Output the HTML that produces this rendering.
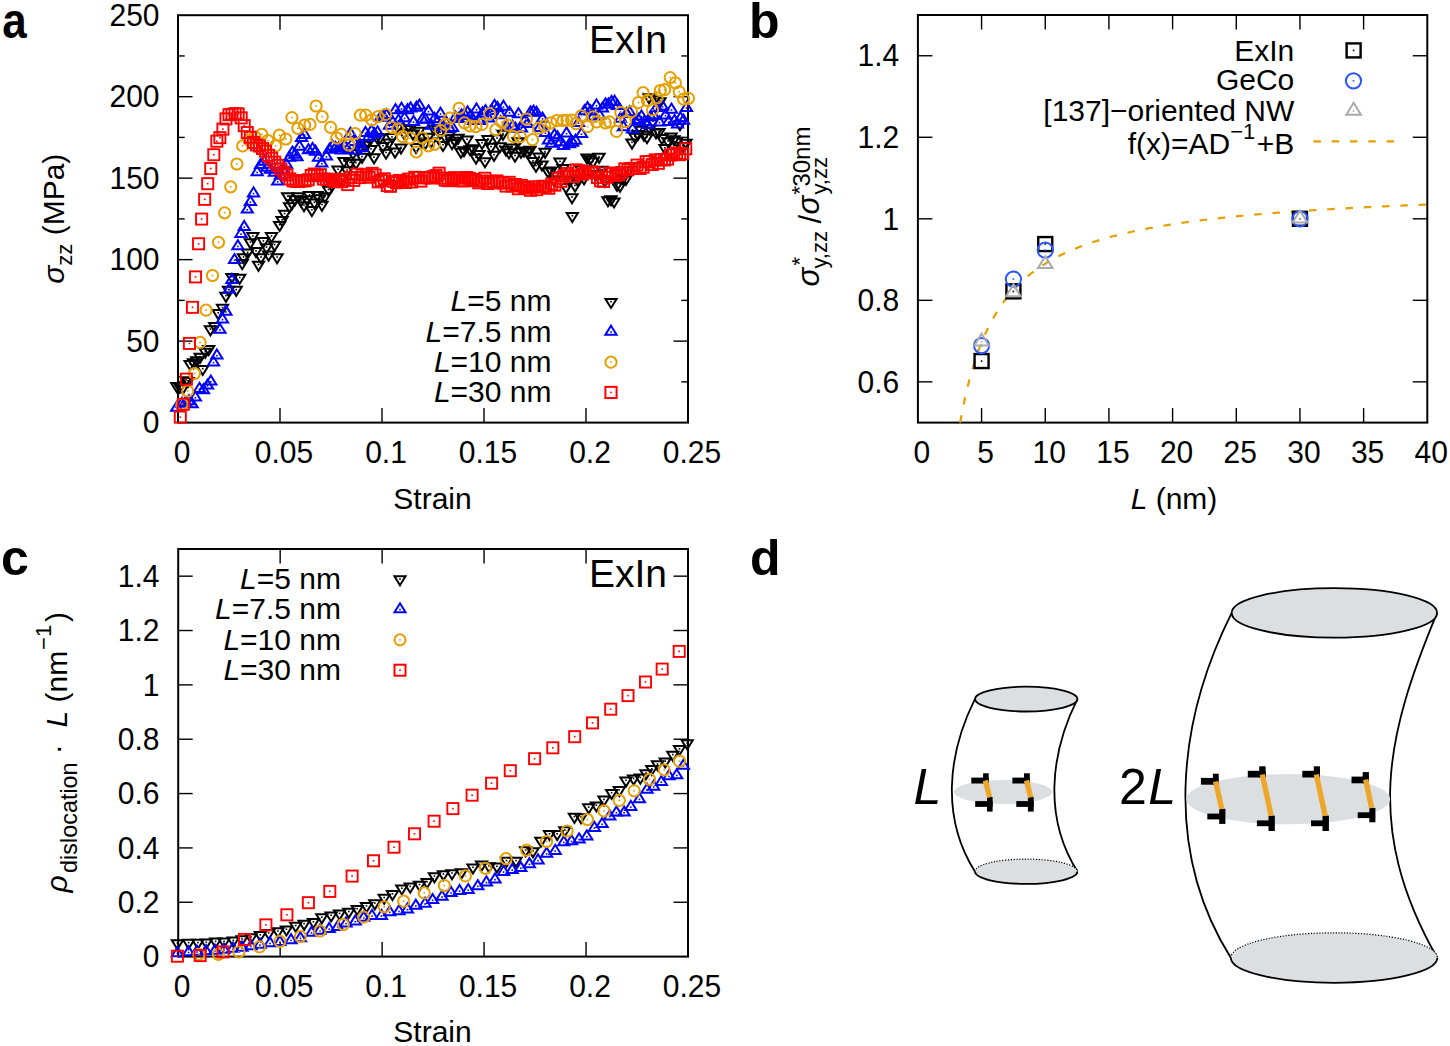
<!DOCTYPE html>
<html><head><meta charset="utf-8"><style>
html,body{margin:0;padding:0;background:#fff;}
svg{display:block;}
text{font-family:"Liberation Sans", sans-serif;fill:#000;}
</style></head><body>
<svg width="1450" height="1046" viewBox="0 0 1450 1046">
<rect width="1450" height="1046" fill="#fff"/>
<rect x="178.00" y="15.20" width="510.00" height="407.40" fill="none" stroke="#000" stroke-width="2"/>
<line x1="280.00" y1="422.60" x2="280.00" y2="408.10" stroke="#000" stroke-width="1.4"/>
<line x1="280.00" y1="15.20" x2="280.00" y2="29.70" stroke="#000" stroke-width="1.4"/>
<line x1="382.00" y1="422.60" x2="382.00" y2="408.10" stroke="#000" stroke-width="1.4"/>
<line x1="382.00" y1="15.20" x2="382.00" y2="29.70" stroke="#000" stroke-width="1.4"/>
<line x1="484.00" y1="422.60" x2="484.00" y2="408.10" stroke="#000" stroke-width="1.4"/>
<line x1="484.00" y1="15.20" x2="484.00" y2="29.70" stroke="#000" stroke-width="1.4"/>
<line x1="586.00" y1="422.60" x2="586.00" y2="408.10" stroke="#000" stroke-width="1.4"/>
<line x1="586.00" y1="15.20" x2="586.00" y2="29.70" stroke="#000" stroke-width="1.4"/>
<line x1="178.00" y1="381.86" x2="184.70" y2="381.86" stroke="#000" stroke-width="1.4"/>
<line x1="688.00" y1="381.86" x2="681.30" y2="381.86" stroke="#000" stroke-width="1.4"/>
<line x1="178.00" y1="341.12" x2="192.50" y2="341.12" stroke="#000" stroke-width="1.4"/>
<line x1="688.00" y1="341.12" x2="673.50" y2="341.12" stroke="#000" stroke-width="1.4"/>
<line x1="178.00" y1="300.38" x2="184.70" y2="300.38" stroke="#000" stroke-width="1.4"/>
<line x1="688.00" y1="300.38" x2="681.30" y2="300.38" stroke="#000" stroke-width="1.4"/>
<line x1="178.00" y1="259.64" x2="192.50" y2="259.64" stroke="#000" stroke-width="1.4"/>
<line x1="688.00" y1="259.64" x2="673.50" y2="259.64" stroke="#000" stroke-width="1.4"/>
<line x1="178.00" y1="218.90" x2="184.70" y2="218.90" stroke="#000" stroke-width="1.4"/>
<line x1="688.00" y1="218.90" x2="681.30" y2="218.90" stroke="#000" stroke-width="1.4"/>
<line x1="178.00" y1="178.16" x2="192.50" y2="178.16" stroke="#000" stroke-width="1.4"/>
<line x1="688.00" y1="178.16" x2="673.50" y2="178.16" stroke="#000" stroke-width="1.4"/>
<line x1="178.00" y1="137.42" x2="184.70" y2="137.42" stroke="#000" stroke-width="1.4"/>
<line x1="688.00" y1="137.42" x2="681.30" y2="137.42" stroke="#000" stroke-width="1.4"/>
<line x1="178.00" y1="96.68" x2="192.50" y2="96.68" stroke="#000" stroke-width="1.4"/>
<line x1="688.00" y1="96.68" x2="673.50" y2="96.68" stroke="#000" stroke-width="1.4"/>
<line x1="178.00" y1="55.94" x2="184.70" y2="55.94" stroke="#000" stroke-width="1.4"/>
<line x1="688.00" y1="55.94" x2="681.30" y2="55.94" stroke="#000" stroke-width="1.4"/>
<text transform="translate(182.00,463.40) scale(1,1.05)" font-size="30" text-anchor="middle">0</text>
<text transform="translate(284.00,463.40) scale(1,1.05)" font-size="30" text-anchor="middle">0.05</text>
<text transform="translate(386.00,463.40) scale(1,1.05)" font-size="30" text-anchor="middle">0.1</text>
<text transform="translate(488.00,463.40) scale(1,1.05)" font-size="30" text-anchor="middle">0.15</text>
<text transform="translate(590.00,463.40) scale(1,1.05)" font-size="30" text-anchor="middle">0.2</text>
<text transform="translate(692.00,463.40) scale(1,1.05)" font-size="30" text-anchor="middle">0.25</text>
<text transform="translate(159.50,433.30) scale(1,1.05)" font-size="30" text-anchor="end">0</text>
<text transform="translate(159.50,351.82) scale(1,1.05)" font-size="30" text-anchor="end">50</text>
<text transform="translate(159.50,270.34) scale(1,1.05)" font-size="30" text-anchor="end">100</text>
<text transform="translate(159.50,188.86) scale(1,1.05)" font-size="30" text-anchor="end">150</text>
<text transform="translate(159.50,107.38) scale(1,1.05)" font-size="30" text-anchor="end">200</text>
<text transform="translate(159.50,25.90) scale(1,1.05)" font-size="30" text-anchor="end">250</text>
<text x="432.50" y="508.60" font-size="30" text-anchor="middle" font-weight="normal">Strain</text>
<text transform="translate(63.7,218.7) rotate(-90)" font-size="30" text-anchor="middle"><tspan font-style="italic">σ</tspan><tspan font-size="22" dy="8.6">zz</tspan><tspan dy="-8.6"> (MPa)</tspan></text>
<text x="667.00" y="53.10" font-size="39" text-anchor="end" font-weight="normal">ExIn</text>
<text transform="translate(2.2,38.3) scale(0.88,1)" font-size="50" font-weight="bold">a</text>
<g><path d="M176.70 392.07L182.30 383.00H171.10Z" stroke="#000000" stroke-width="2" fill="none" stroke-linejoin="miter"/><rect x="175.90" y="385.00" width="1.6" height="1.6" fill="#000000"/><path d="M179.80 392.77L185.40 383.70H174.20Z" stroke="#000000" stroke-width="2" fill="none" stroke-linejoin="miter"/><rect x="179.00" y="385.70" width="1.6" height="1.6" fill="#000000"/><path d="M182.90 393.87L188.50 384.80H177.30Z" stroke="#000000" stroke-width="2" fill="none" stroke-linejoin="miter"/><rect x="182.10" y="386.80" width="1.6" height="1.6" fill="#000000"/><path d="M186.00 386.27L191.60 377.20H180.40Z" stroke="#000000" stroke-width="2" fill="none" stroke-linejoin="miter"/><rect x="185.20" y="379.20" width="1.6" height="1.6" fill="#000000"/><path d="M188.10 386.97L193.70 377.90H182.50Z" stroke="#000000" stroke-width="2" fill="none" stroke-linejoin="miter"/><rect x="187.30" y="379.90" width="1.6" height="1.6" fill="#000000"/><path d="M190.10 369.97L195.70 360.90H184.50Z" stroke="#000000" stroke-width="2" fill="none" stroke-linejoin="miter"/><rect x="189.30" y="362.90" width="1.6" height="1.6" fill="#000000"/><path d="M193.50 368.27L199.10 359.20H187.90Z" stroke="#000000" stroke-width="2" fill="none" stroke-linejoin="miter"/><rect x="192.70" y="361.20" width="1.6" height="1.6" fill="#000000"/><path d="M196.70 366.37L202.30 357.30H191.10Z" stroke="#000000" stroke-width="2" fill="none" stroke-linejoin="miter"/><rect x="195.90" y="359.30" width="1.6" height="1.6" fill="#000000"/><path d="M200.10 362.87L205.70 353.80H194.50Z" stroke="#000000" stroke-width="2" fill="none" stroke-linejoin="miter"/><rect x="199.30" y="355.80" width="1.6" height="1.6" fill="#000000"/><path d="M202.70 374.97L208.30 365.90H197.10Z" stroke="#000000" stroke-width="2" fill="none" stroke-linejoin="miter"/><rect x="201.90" y="367.90" width="1.6" height="1.6" fill="#000000"/><path d="M205.30 357.77L210.90 348.70H199.70Z" stroke="#000000" stroke-width="2" fill="none" stroke-linejoin="miter"/><rect x="204.50" y="350.70" width="1.6" height="1.6" fill="#000000"/><path d="M208.70 355.17L214.30 346.10H203.10Z" stroke="#000000" stroke-width="2" fill="none" stroke-linejoin="miter"/><rect x="207.90" y="348.10" width="1.6" height="1.6" fill="#000000"/><path d="M210.40 335.37L216.00 326.30H204.80Z" stroke="#000000" stroke-width="2" fill="none" stroke-linejoin="miter"/><rect x="209.60" y="328.30" width="1.6" height="1.6" fill="#000000"/><path d="M214.70 331.97L220.30 322.90H209.10Z" stroke="#000000" stroke-width="2" fill="none" stroke-linejoin="miter"/><rect x="213.90" y="324.90" width="1.6" height="1.6" fill="#000000"/><path d="M218.20 319.07L223.80 310.00H212.60Z" stroke="#000000" stroke-width="2" fill="none" stroke-linejoin="miter"/><rect x="217.40" y="312.00" width="1.6" height="1.6" fill="#000000"/><path d="M222.50 313.87L228.10 304.80H216.90Z" stroke="#000000" stroke-width="2" fill="none" stroke-linejoin="miter"/><rect x="221.70" y="306.80" width="1.6" height="1.6" fill="#000000"/><path d="M225.90 301.87L231.50 292.80H220.30Z" stroke="#000000" stroke-width="2" fill="none" stroke-linejoin="miter"/><rect x="225.10" y="294.80" width="1.6" height="1.6" fill="#000000"/><path d="M228.50 295.87L234.10 286.80H222.90Z" stroke="#000000" stroke-width="2" fill="none" stroke-linejoin="miter"/><rect x="227.70" y="288.80" width="1.6" height="1.6" fill="#000000"/><path d="M231.90 282.97L237.50 273.90H226.30Z" stroke="#000000" stroke-width="2" fill="none" stroke-linejoin="miter"/><rect x="231.10" y="275.90" width="1.6" height="1.6" fill="#000000"/><path d="M236.20 295.87L241.80 286.80H230.60Z" stroke="#000000" stroke-width="2" fill="none" stroke-linejoin="miter"/><rect x="235.40" y="288.80" width="1.6" height="1.6" fill="#000000"/><path d="M239.70 283.77L245.30 274.70H234.10Z" stroke="#000000" stroke-width="2" fill="none" stroke-linejoin="miter"/><rect x="238.90" y="276.70" width="1.6" height="1.6" fill="#000000"/><path d="M242.20 269.17L247.80 260.10H236.60Z" stroke="#000000" stroke-width="2" fill="none" stroke-linejoin="miter"/><rect x="241.40" y="262.10" width="1.6" height="1.6" fill="#000000"/><path d="M243.50 263.27L249.10 254.20H237.90Z" stroke="#000000" stroke-width="2" fill="none" stroke-linejoin="miter"/><rect x="242.70" y="256.20" width="1.6" height="1.6" fill="#000000"/><path d="M247.60 258.57L253.20 249.50H242.00Z" stroke="#000000" stroke-width="2" fill="none" stroke-linejoin="miter"/><rect x="246.80" y="251.50" width="1.6" height="1.6" fill="#000000"/><path d="M250.40 248.37L256.00 239.30H244.80Z" stroke="#000000" stroke-width="2" fill="none" stroke-linejoin="miter"/><rect x="249.60" y="241.30" width="1.6" height="1.6" fill="#000000"/><path d="M252.90 242.17L258.50 233.10H247.30Z" stroke="#000000" stroke-width="2" fill="none" stroke-linejoin="miter"/><rect x="252.10" y="235.10" width="1.6" height="1.6" fill="#000000"/><path d="M256.00 257.07L261.60 248.00H250.40Z" stroke="#000000" stroke-width="2" fill="none" stroke-linejoin="miter"/><rect x="255.20" y="250.00" width="1.6" height="1.6" fill="#000000"/><path d="M258.50 270.77L264.10 261.70H252.90Z" stroke="#000000" stroke-width="2" fill="none" stroke-linejoin="miter"/><rect x="257.70" y="263.70" width="1.6" height="1.6" fill="#000000"/><path d="M261.00 263.27L266.60 254.20H255.40Z" stroke="#000000" stroke-width="2" fill="none" stroke-linejoin="miter"/><rect x="260.20" y="256.20" width="1.6" height="1.6" fill="#000000"/><path d="M263.40 247.17L269.00 238.10H257.80Z" stroke="#000000" stroke-width="2" fill="none" stroke-linejoin="miter"/><rect x="262.60" y="240.10" width="1.6" height="1.6" fill="#000000"/><path d="M266.50 253.37L272.10 244.30H260.90Z" stroke="#000000" stroke-width="2" fill="none" stroke-linejoin="miter"/><rect x="265.70" y="246.30" width="1.6" height="1.6" fill="#000000"/><path d="M268.60 260.67L274.20 251.60H263.00Z" stroke="#000000" stroke-width="2" fill="none" stroke-linejoin="miter"/><rect x="267.80" y="253.60" width="1.6" height="1.6" fill="#000000"/><path d="M271.50 242.17L277.10 233.10H265.90Z" stroke="#000000" stroke-width="2" fill="none" stroke-linejoin="miter"/><rect x="270.70" y="235.10" width="1.6" height="1.6" fill="#000000"/><path d="M274.60 250.87L280.20 241.80H269.00Z" stroke="#000000" stroke-width="2" fill="none" stroke-linejoin="miter"/><rect x="273.80" y="243.80" width="1.6" height="1.6" fill="#000000"/><path d="M277.10 263.27L282.70 254.20H271.50Z" stroke="#000000" stroke-width="2" fill="none" stroke-linejoin="miter"/><rect x="276.30" y="256.20" width="1.6" height="1.6" fill="#000000"/><path d="M279.60 230.97L285.20 221.90H274.00Z" stroke="#000000" stroke-width="2" fill="none" stroke-linejoin="miter"/><rect x="278.80" y="223.90" width="1.6" height="1.6" fill="#000000"/><path d="M282.10 226.07L287.70 217.00H276.50Z" stroke="#000000" stroke-width="2" fill="none" stroke-linejoin="miter"/><rect x="281.30" y="219.00" width="1.6" height="1.6" fill="#000000"/><path d="M284.60 219.77L290.20 210.70H279.00Z" stroke="#000000" stroke-width="2" fill="none" stroke-linejoin="miter"/><rect x="283.80" y="212.70" width="1.6" height="1.6" fill="#000000"/><path d="M287.70 202.37L293.30 193.30H282.10Z" stroke="#000000" stroke-width="2" fill="none" stroke-linejoin="miter"/><rect x="286.90" y="195.30" width="1.6" height="1.6" fill="#000000"/><path d="M289.60 212.37L295.20 203.30H284.00Z" stroke="#000000" stroke-width="2" fill="none" stroke-linejoin="miter"/><rect x="288.80" y="205.30" width="1.6" height="1.6" fill="#000000"/><path d="M292.00 209.27L297.60 200.20H286.40Z" stroke="#000000" stroke-width="2" fill="none" stroke-linejoin="miter"/><rect x="291.20" y="202.20" width="1.6" height="1.6" fill="#000000"/><path d="M295.00 205.27L300.60 196.20H289.40Z" stroke="#000000" stroke-width="2" fill="none" stroke-linejoin="miter"/><rect x="294.20" y="198.20" width="1.6" height="1.6" fill="#000000"/><path d="M298.30 202.37L303.90 193.30H292.70Z" stroke="#000000" stroke-width="2" fill="none" stroke-linejoin="miter"/><rect x="297.50" y="195.30" width="1.6" height="1.6" fill="#000000"/><path d="M301.00 206.27L306.60 197.20H295.40Z" stroke="#000000" stroke-width="2" fill="none" stroke-linejoin="miter"/><rect x="300.20" y="199.20" width="1.6" height="1.6" fill="#000000"/><path d="M304.00 211.27L309.60 202.20H298.40Z" stroke="#000000" stroke-width="2" fill="none" stroke-linejoin="miter"/><rect x="303.20" y="204.20" width="1.6" height="1.6" fill="#000000"/><path d="M307.00 205.27L312.60 196.20H301.40Z" stroke="#000000" stroke-width="2" fill="none" stroke-linejoin="miter"/><rect x="306.20" y="198.20" width="1.6" height="1.6" fill="#000000"/><path d="M309.50 201.17L315.10 192.10H303.90Z" stroke="#000000" stroke-width="2" fill="none" stroke-linejoin="miter"/><rect x="308.70" y="194.10" width="1.6" height="1.6" fill="#000000"/><path d="M311.90 216.07L317.50 207.00H306.30Z" stroke="#000000" stroke-width="2" fill="none" stroke-linejoin="miter"/><rect x="311.10" y="209.00" width="1.6" height="1.6" fill="#000000"/><path d="M314.40 208.57L320.00 199.50H308.80Z" stroke="#000000" stroke-width="2" fill="none" stroke-linejoin="miter"/><rect x="313.60" y="201.50" width="1.6" height="1.6" fill="#000000"/><path d="M316.90 201.17L322.50 192.10H311.30Z" stroke="#000000" stroke-width="2" fill="none" stroke-linejoin="miter"/><rect x="316.10" y="194.10" width="1.6" height="1.6" fill="#000000"/><path d="M319.50 204.27L325.10 195.20H313.90Z" stroke="#000000" stroke-width="2" fill="none" stroke-linejoin="miter"/><rect x="318.70" y="197.20" width="1.6" height="1.6" fill="#000000"/><path d="M322.00 210.77L327.60 201.70H316.40Z" stroke="#000000" stroke-width="2" fill="none" stroke-linejoin="miter"/><rect x="321.20" y="203.70" width="1.6" height="1.6" fill="#000000"/><path d="M325.00 202.27L330.60 193.20H319.40Z" stroke="#000000" stroke-width="2" fill="none" stroke-linejoin="miter"/><rect x="324.20" y="195.20" width="1.6" height="1.6" fill="#000000"/><path d="M328.60 195.77L334.20 186.70H323.00Z" stroke="#000000" stroke-width="2" fill="none" stroke-linejoin="miter"/><rect x="327.80" y="188.70" width="1.6" height="1.6" fill="#000000"/><path d="M332.00 191.27L337.60 182.20H326.40Z" stroke="#000000" stroke-width="2" fill="none" stroke-linejoin="miter"/><rect x="331.20" y="184.20" width="1.6" height="1.6" fill="#000000"/><path d="M335.00 183.52L340.60 174.45H329.40Z" stroke="#000000" stroke-width="2" fill="none" stroke-linejoin="miter"/><rect x="334.20" y="176.45" width="1.6" height="1.6" fill="#000000"/><path d="M338.00 175.53L343.60 166.46H332.40Z" stroke="#000000" stroke-width="2" fill="none" stroke-linejoin="miter"/><rect x="337.20" y="168.46" width="1.6" height="1.6" fill="#000000"/><path d="M341.00 185.20L346.60 176.12H335.40Z" stroke="#000000" stroke-width="2" fill="none" stroke-linejoin="miter"/><rect x="340.20" y="178.12" width="1.6" height="1.6" fill="#000000"/><path d="M344.00 167.16L349.60 158.08H338.40Z" stroke="#000000" stroke-width="2" fill="none" stroke-linejoin="miter"/><rect x="343.20" y="160.08" width="1.6" height="1.6" fill="#000000"/><path d="M347.00 176.20L352.60 167.13H341.40Z" stroke="#000000" stroke-width="2" fill="none" stroke-linejoin="miter"/><rect x="346.20" y="169.13" width="1.6" height="1.6" fill="#000000"/><path d="M350.00 168.78L355.60 159.71H344.40Z" stroke="#000000" stroke-width="2" fill="none" stroke-linejoin="miter"/><rect x="349.20" y="161.71" width="1.6" height="1.6" fill="#000000"/><path d="M353.00 158.98L358.60 149.91H347.40Z" stroke="#000000" stroke-width="2" fill="none" stroke-linejoin="miter"/><rect x="352.20" y="151.91" width="1.6" height="1.6" fill="#000000"/><path d="M356.00 168.87L361.60 159.79H350.40Z" stroke="#000000" stroke-width="2" fill="none" stroke-linejoin="miter"/><rect x="355.20" y="161.79" width="1.6" height="1.6" fill="#000000"/><path d="M359.00 154.85L364.60 145.77H353.40Z" stroke="#000000" stroke-width="2" fill="none" stroke-linejoin="miter"/><rect x="358.20" y="147.77" width="1.6" height="1.6" fill="#000000"/><path d="M362.00 162.88L367.60 153.81H356.40Z" stroke="#000000" stroke-width="2" fill="none" stroke-linejoin="miter"/><rect x="361.20" y="155.81" width="1.6" height="1.6" fill="#000000"/><path d="M365.00 150.92L370.60 141.85H359.40Z" stroke="#000000" stroke-width="2" fill="none" stroke-linejoin="miter"/><rect x="364.20" y="143.85" width="1.6" height="1.6" fill="#000000"/><path d="M368.00 148.96L373.60 139.89H362.40Z" stroke="#000000" stroke-width="2" fill="none" stroke-linejoin="miter"/><rect x="367.20" y="141.89" width="1.6" height="1.6" fill="#000000"/><path d="M371.00 155.14L376.60 146.07H365.40Z" stroke="#000000" stroke-width="2" fill="none" stroke-linejoin="miter"/><rect x="370.20" y="148.07" width="1.6" height="1.6" fill="#000000"/><path d="M374.00 163.39L379.60 154.31H368.40Z" stroke="#000000" stroke-width="2" fill="none" stroke-linejoin="miter"/><rect x="373.20" y="156.31" width="1.6" height="1.6" fill="#000000"/><path d="M377.00 143.03L382.60 133.96H371.40Z" stroke="#000000" stroke-width="2" fill="none" stroke-linejoin="miter"/><rect x="376.20" y="135.96" width="1.6" height="1.6" fill="#000000"/><path d="M380.00 143.54L385.60 134.47H374.40Z" stroke="#000000" stroke-width="2" fill="none" stroke-linejoin="miter"/><rect x="379.20" y="136.47" width="1.6" height="1.6" fill="#000000"/><path d="M383.00 151.97L388.60 142.90H377.40Z" stroke="#000000" stroke-width="2" fill="none" stroke-linejoin="miter"/><rect x="382.20" y="144.90" width="1.6" height="1.6" fill="#000000"/><path d="M386.00 158.71L391.60 149.64H380.40Z" stroke="#000000" stroke-width="2" fill="none" stroke-linejoin="miter"/><rect x="385.20" y="151.64" width="1.6" height="1.6" fill="#000000"/><path d="M389.00 148.48L394.60 139.40H383.40Z" stroke="#000000" stroke-width="2" fill="none" stroke-linejoin="miter"/><rect x="388.20" y="141.40" width="1.6" height="1.6" fill="#000000"/><path d="M392.00 143.19L397.60 134.11H386.40Z" stroke="#000000" stroke-width="2" fill="none" stroke-linejoin="miter"/><rect x="391.20" y="136.11" width="1.6" height="1.6" fill="#000000"/><path d="M395.00 157.65L400.60 148.58H389.40Z" stroke="#000000" stroke-width="2" fill="none" stroke-linejoin="miter"/><rect x="394.20" y="150.58" width="1.6" height="1.6" fill="#000000"/><path d="M398.00 132.88L403.60 123.81H392.40Z" stroke="#000000" stroke-width="2" fill="none" stroke-linejoin="miter"/><rect x="397.20" y="125.81" width="1.6" height="1.6" fill="#000000"/><path d="M401.00 153.59L406.60 144.52H395.40Z" stroke="#000000" stroke-width="2" fill="none" stroke-linejoin="miter"/><rect x="400.20" y="146.52" width="1.6" height="1.6" fill="#000000"/><path d="M404.00 138.80L409.60 129.73H398.40Z" stroke="#000000" stroke-width="2" fill="none" stroke-linejoin="miter"/><rect x="403.20" y="131.73" width="1.6" height="1.6" fill="#000000"/><path d="M407.00 135.02L412.60 125.95H401.40Z" stroke="#000000" stroke-width="2" fill="none" stroke-linejoin="miter"/><rect x="406.20" y="127.95" width="1.6" height="1.6" fill="#000000"/><path d="M410.00 134.33L415.60 125.26H404.40Z" stroke="#000000" stroke-width="2" fill="none" stroke-linejoin="miter"/><rect x="409.20" y="127.26" width="1.6" height="1.6" fill="#000000"/><path d="M413.00 139.59L418.60 130.52H407.40Z" stroke="#000000" stroke-width="2" fill="none" stroke-linejoin="miter"/><rect x="412.20" y="132.52" width="1.6" height="1.6" fill="#000000"/><path d="M416.00 153.09L421.60 144.02H410.40Z" stroke="#000000" stroke-width="2" fill="none" stroke-linejoin="miter"/><rect x="415.20" y="146.02" width="1.6" height="1.6" fill="#000000"/><path d="M419.00 136.87L424.60 127.80H413.40Z" stroke="#000000" stroke-width="2" fill="none" stroke-linejoin="miter"/><rect x="418.20" y="129.80" width="1.6" height="1.6" fill="#000000"/><path d="M422.00 147.59L427.60 138.52H416.40Z" stroke="#000000" stroke-width="2" fill="none" stroke-linejoin="miter"/><rect x="421.20" y="140.52" width="1.6" height="1.6" fill="#000000"/><path d="M425.00 149.38L430.60 140.31H419.40Z" stroke="#000000" stroke-width="2" fill="none" stroke-linejoin="miter"/><rect x="424.20" y="142.31" width="1.6" height="1.6" fill="#000000"/><path d="M428.00 142.75L433.60 133.68H422.40Z" stroke="#000000" stroke-width="2" fill="none" stroke-linejoin="miter"/><rect x="427.20" y="135.68" width="1.6" height="1.6" fill="#000000"/><path d="M431.00 147.51L436.60 138.44H425.40Z" stroke="#000000" stroke-width="2" fill="none" stroke-linejoin="miter"/><rect x="430.20" y="140.44" width="1.6" height="1.6" fill="#000000"/><path d="M434.00 134.90L439.60 125.83H428.40Z" stroke="#000000" stroke-width="2" fill="none" stroke-linejoin="miter"/><rect x="433.20" y="127.83" width="1.6" height="1.6" fill="#000000"/><path d="M437.00 134.82L442.60 125.75H431.40Z" stroke="#000000" stroke-width="2" fill="none" stroke-linejoin="miter"/><rect x="436.20" y="127.75" width="1.6" height="1.6" fill="#000000"/><path d="M440.00 138.63L445.60 129.55H434.40Z" stroke="#000000" stroke-width="2" fill="none" stroke-linejoin="miter"/><rect x="439.20" y="131.55" width="1.6" height="1.6" fill="#000000"/><path d="M443.00 150.96L448.60 141.89H437.40Z" stroke="#000000" stroke-width="2" fill="none" stroke-linejoin="miter"/><rect x="442.20" y="143.89" width="1.6" height="1.6" fill="#000000"/><path d="M446.00 144.39L451.60 135.32H440.40Z" stroke="#000000" stroke-width="2" fill="none" stroke-linejoin="miter"/><rect x="445.20" y="137.32" width="1.6" height="1.6" fill="#000000"/><path d="M449.00 141.44L454.60 132.37H443.40Z" stroke="#000000" stroke-width="2" fill="none" stroke-linejoin="miter"/><rect x="448.20" y="134.37" width="1.6" height="1.6" fill="#000000"/><path d="M452.00 149.20L457.60 140.12H446.40Z" stroke="#000000" stroke-width="2" fill="none" stroke-linejoin="miter"/><rect x="451.20" y="142.12" width="1.6" height="1.6" fill="#000000"/><path d="M455.00 146.80L460.60 137.73H449.40Z" stroke="#000000" stroke-width="2" fill="none" stroke-linejoin="miter"/><rect x="454.20" y="139.73" width="1.6" height="1.6" fill="#000000"/><path d="M458.00 143.87L463.60 134.79H452.40Z" stroke="#000000" stroke-width="2" fill="none" stroke-linejoin="miter"/><rect x="457.20" y="136.79" width="1.6" height="1.6" fill="#000000"/><path d="M461.00 157.78L466.60 148.70H455.40Z" stroke="#000000" stroke-width="2" fill="none" stroke-linejoin="miter"/><rect x="460.20" y="150.70" width="1.6" height="1.6" fill="#000000"/><path d="M464.00 156.35L469.60 147.27H458.40Z" stroke="#000000" stroke-width="2" fill="none" stroke-linejoin="miter"/><rect x="463.20" y="149.27" width="1.6" height="1.6" fill="#000000"/><path d="M467.00 145.57L472.60 136.50H461.40Z" stroke="#000000" stroke-width="2" fill="none" stroke-linejoin="miter"/><rect x="466.20" y="138.50" width="1.6" height="1.6" fill="#000000"/><path d="M470.00 155.21L475.60 146.14H464.40Z" stroke="#000000" stroke-width="2" fill="none" stroke-linejoin="miter"/><rect x="469.20" y="148.14" width="1.6" height="1.6" fill="#000000"/><path d="M473.00 154.23L478.60 145.16H467.40Z" stroke="#000000" stroke-width="2" fill="none" stroke-linejoin="miter"/><rect x="472.20" y="147.16" width="1.6" height="1.6" fill="#000000"/><path d="M476.00 163.63L481.60 154.55H470.40Z" stroke="#000000" stroke-width="2" fill="none" stroke-linejoin="miter"/><rect x="475.20" y="156.55" width="1.6" height="1.6" fill="#000000"/><path d="M479.00 160.14L484.60 151.07H473.40Z" stroke="#000000" stroke-width="2" fill="none" stroke-linejoin="miter"/><rect x="478.20" y="153.07" width="1.6" height="1.6" fill="#000000"/><path d="M482.00 148.96L487.60 139.89H476.40Z" stroke="#000000" stroke-width="2" fill="none" stroke-linejoin="miter"/><rect x="481.20" y="141.89" width="1.6" height="1.6" fill="#000000"/><path d="M485.00 167.26L490.60 158.18H479.40Z" stroke="#000000" stroke-width="2" fill="none" stroke-linejoin="miter"/><rect x="484.20" y="160.18" width="1.6" height="1.6" fill="#000000"/><path d="M488.00 145.14L493.60 136.07H482.40Z" stroke="#000000" stroke-width="2" fill="none" stroke-linejoin="miter"/><rect x="487.20" y="138.07" width="1.6" height="1.6" fill="#000000"/><path d="M491.00 152.88L496.60 143.80H485.40Z" stroke="#000000" stroke-width="2" fill="none" stroke-linejoin="miter"/><rect x="490.20" y="145.80" width="1.6" height="1.6" fill="#000000"/><path d="M494.00 160.89L499.60 151.82H488.40Z" stroke="#000000" stroke-width="2" fill="none" stroke-linejoin="miter"/><rect x="493.20" y="153.82" width="1.6" height="1.6" fill="#000000"/><path d="M497.00 144.36L502.60 135.28H491.40Z" stroke="#000000" stroke-width="2" fill="none" stroke-linejoin="miter"/><rect x="496.20" y="137.28" width="1.6" height="1.6" fill="#000000"/><path d="M500.00 152.32L505.60 143.25H494.40Z" stroke="#000000" stroke-width="2" fill="none" stroke-linejoin="miter"/><rect x="499.20" y="145.25" width="1.6" height="1.6" fill="#000000"/><path d="M503.00 139.82L508.60 130.75H497.40Z" stroke="#000000" stroke-width="2" fill="none" stroke-linejoin="miter"/><rect x="502.20" y="132.75" width="1.6" height="1.6" fill="#000000"/><path d="M506.00 155.71L511.60 146.64H500.40Z" stroke="#000000" stroke-width="2" fill="none" stroke-linejoin="miter"/><rect x="505.20" y="148.64" width="1.6" height="1.6" fill="#000000"/><path d="M509.00 158.42L514.60 149.35H503.40Z" stroke="#000000" stroke-width="2" fill="none" stroke-linejoin="miter"/><rect x="508.20" y="151.35" width="1.6" height="1.6" fill="#000000"/><path d="M512.00 153.64L517.60 144.57H506.40Z" stroke="#000000" stroke-width="2" fill="none" stroke-linejoin="miter"/><rect x="511.20" y="146.57" width="1.6" height="1.6" fill="#000000"/><path d="M515.00 161.70L520.60 152.63H509.40Z" stroke="#000000" stroke-width="2" fill="none" stroke-linejoin="miter"/><rect x="514.20" y="154.63" width="1.6" height="1.6" fill="#000000"/><path d="M518.00 147.30L523.60 138.22H512.40Z" stroke="#000000" stroke-width="2" fill="none" stroke-linejoin="miter"/><rect x="517.20" y="140.22" width="1.6" height="1.6" fill="#000000"/><path d="M521.00 157.82L526.60 148.74H515.40Z" stroke="#000000" stroke-width="2" fill="none" stroke-linejoin="miter"/><rect x="520.20" y="150.74" width="1.6" height="1.6" fill="#000000"/><path d="M524.00 156.59L529.60 147.52H518.40Z" stroke="#000000" stroke-width="2" fill="none" stroke-linejoin="miter"/><rect x="523.20" y="149.52" width="1.6" height="1.6" fill="#000000"/><path d="M527.00 157.62L532.60 148.54H521.40Z" stroke="#000000" stroke-width="2" fill="none" stroke-linejoin="miter"/><rect x="526.20" y="150.54" width="1.6" height="1.6" fill="#000000"/><path d="M530.00 155.80L535.60 146.73H524.40Z" stroke="#000000" stroke-width="2" fill="none" stroke-linejoin="miter"/><rect x="529.20" y="148.73" width="1.6" height="1.6" fill="#000000"/><path d="M533.00 167.18L538.60 158.11H527.40Z" stroke="#000000" stroke-width="2" fill="none" stroke-linejoin="miter"/><rect x="532.20" y="160.11" width="1.6" height="1.6" fill="#000000"/><path d="M536.00 171.83L541.60 162.76H530.40Z" stroke="#000000" stroke-width="2" fill="none" stroke-linejoin="miter"/><rect x="535.20" y="164.76" width="1.6" height="1.6" fill="#000000"/><path d="M539.00 162.60L544.60 153.53H533.40Z" stroke="#000000" stroke-width="2" fill="none" stroke-linejoin="miter"/><rect x="538.20" y="155.53" width="1.6" height="1.6" fill="#000000"/><path d="M542.00 170.54L547.60 161.47H536.40Z" stroke="#000000" stroke-width="2" fill="none" stroke-linejoin="miter"/><rect x="541.20" y="163.47" width="1.6" height="1.6" fill="#000000"/><path d="M545.00 157.85L550.60 148.78H539.40Z" stroke="#000000" stroke-width="2" fill="none" stroke-linejoin="miter"/><rect x="544.20" y="150.78" width="1.6" height="1.6" fill="#000000"/><path d="M548.00 177.51L553.60 168.44H542.40Z" stroke="#000000" stroke-width="2" fill="none" stroke-linejoin="miter"/><rect x="547.20" y="170.44" width="1.6" height="1.6" fill="#000000"/><path d="M551.00 176.47L556.60 167.40H545.40Z" stroke="#000000" stroke-width="2" fill="none" stroke-linejoin="miter"/><rect x="550.20" y="169.40" width="1.6" height="1.6" fill="#000000"/><path d="M554.00 185.84L559.60 176.77H548.40Z" stroke="#000000" stroke-width="2" fill="none" stroke-linejoin="miter"/><rect x="553.20" y="178.77" width="1.6" height="1.6" fill="#000000"/><path d="M557.00 181.64L562.60 172.57H551.40Z" stroke="#000000" stroke-width="2" fill="none" stroke-linejoin="miter"/><rect x="556.20" y="174.57" width="1.6" height="1.6" fill="#000000"/><path d="M560.00 167.67L565.60 158.60H554.40Z" stroke="#000000" stroke-width="2" fill="none" stroke-linejoin="miter"/><rect x="559.20" y="160.60" width="1.6" height="1.6" fill="#000000"/><path d="M563.00 174.14L568.60 165.06H557.40Z" stroke="#000000" stroke-width="2" fill="none" stroke-linejoin="miter"/><rect x="562.20" y="167.06" width="1.6" height="1.6" fill="#000000"/><path d="M566.00 192.99L571.60 183.92H560.40Z" stroke="#000000" stroke-width="2" fill="none" stroke-linejoin="miter"/><rect x="565.20" y="185.92" width="1.6" height="1.6" fill="#000000"/><path d="M569.00 185.86L574.60 176.79H563.40Z" stroke="#000000" stroke-width="2" fill="none" stroke-linejoin="miter"/><rect x="568.20" y="178.79" width="1.6" height="1.6" fill="#000000"/><path d="M572.00 203.28L577.60 194.20H566.40Z" stroke="#000000" stroke-width="2" fill="none" stroke-linejoin="miter"/><rect x="571.20" y="196.20" width="1.6" height="1.6" fill="#000000"/><path d="M575.00 191.64L580.60 182.57H569.40Z" stroke="#000000" stroke-width="2" fill="none" stroke-linejoin="miter"/><rect x="574.20" y="184.57" width="1.6" height="1.6" fill="#000000"/><path d="M578.00 186.32L583.60 177.24H572.40Z" stroke="#000000" stroke-width="2" fill="none" stroke-linejoin="miter"/><rect x="577.20" y="179.24" width="1.6" height="1.6" fill="#000000"/><path d="M581.00 175.38L586.60 166.30H575.40Z" stroke="#000000" stroke-width="2" fill="none" stroke-linejoin="miter"/><rect x="580.20" y="168.30" width="1.6" height="1.6" fill="#000000"/><path d="M584.00 184.39L589.60 175.32H578.40Z" stroke="#000000" stroke-width="2" fill="none" stroke-linejoin="miter"/><rect x="583.20" y="177.32" width="1.6" height="1.6" fill="#000000"/><path d="M587.00 163.63L592.60 154.56H581.40Z" stroke="#000000" stroke-width="2" fill="none" stroke-linejoin="miter"/><rect x="586.20" y="156.56" width="1.6" height="1.6" fill="#000000"/><path d="M590.00 165.21L595.60 156.14H584.40Z" stroke="#000000" stroke-width="2" fill="none" stroke-linejoin="miter"/><rect x="589.20" y="158.14" width="1.6" height="1.6" fill="#000000"/><path d="M593.00 167.44L598.60 158.36H587.40Z" stroke="#000000" stroke-width="2" fill="none" stroke-linejoin="miter"/><rect x="592.20" y="160.36" width="1.6" height="1.6" fill="#000000"/><path d="M596.00 180.05L601.60 170.98H590.40Z" stroke="#000000" stroke-width="2" fill="none" stroke-linejoin="miter"/><rect x="595.20" y="172.98" width="1.6" height="1.6" fill="#000000"/><path d="M599.00 162.87L604.60 153.80H593.40Z" stroke="#000000" stroke-width="2" fill="none" stroke-linejoin="miter"/><rect x="598.20" y="155.80" width="1.6" height="1.6" fill="#000000"/><path d="M602.00 175.83L607.60 166.75H596.40Z" stroke="#000000" stroke-width="2" fill="none" stroke-linejoin="miter"/><rect x="601.20" y="168.75" width="1.6" height="1.6" fill="#000000"/><path d="M605.00 186.76L610.60 177.69H599.40Z" stroke="#000000" stroke-width="2" fill="none" stroke-linejoin="miter"/><rect x="604.20" y="179.69" width="1.6" height="1.6" fill="#000000"/><path d="M608.00 206.24L613.60 197.17H602.40Z" stroke="#000000" stroke-width="2" fill="none" stroke-linejoin="miter"/><rect x="607.20" y="199.17" width="1.6" height="1.6" fill="#000000"/><path d="M611.00 205.43L616.60 196.36H605.40Z" stroke="#000000" stroke-width="2" fill="none" stroke-linejoin="miter"/><rect x="610.20" y="198.36" width="1.6" height="1.6" fill="#000000"/><path d="M614.00 207.45L619.60 198.38H608.40Z" stroke="#000000" stroke-width="2" fill="none" stroke-linejoin="miter"/><rect x="613.20" y="200.38" width="1.6" height="1.6" fill="#000000"/><path d="M617.00 190.80L622.60 181.72H611.40Z" stroke="#000000" stroke-width="2" fill="none" stroke-linejoin="miter"/><rect x="616.20" y="183.72" width="1.6" height="1.6" fill="#000000"/><path d="M620.00 191.78L625.60 182.71H614.40Z" stroke="#000000" stroke-width="2" fill="none" stroke-linejoin="miter"/><rect x="619.20" y="184.71" width="1.6" height="1.6" fill="#000000"/><path d="M623.00 184.27L628.60 175.19H617.40Z" stroke="#000000" stroke-width="2" fill="none" stroke-linejoin="miter"/><rect x="622.20" y="177.19" width="1.6" height="1.6" fill="#000000"/><path d="M626.00 184.93L631.60 175.86H620.40Z" stroke="#000000" stroke-width="2" fill="none" stroke-linejoin="miter"/><rect x="625.20" y="177.86" width="1.6" height="1.6" fill="#000000"/><path d="M629.00 176.03L634.60 166.96H623.40Z" stroke="#000000" stroke-width="2" fill="none" stroke-linejoin="miter"/><rect x="628.20" y="168.96" width="1.6" height="1.6" fill="#000000"/><path d="M632.00 148.62L637.60 139.55H626.40Z" stroke="#000000" stroke-width="2" fill="none" stroke-linejoin="miter"/><rect x="631.20" y="141.55" width="1.6" height="1.6" fill="#000000"/><path d="M635.00 142.85L640.60 133.78H629.40Z" stroke="#000000" stroke-width="2" fill="none" stroke-linejoin="miter"/><rect x="634.20" y="135.78" width="1.6" height="1.6" fill="#000000"/><path d="M638.00 140.02L643.60 130.95H632.40Z" stroke="#000000" stroke-width="2" fill="none" stroke-linejoin="miter"/><rect x="637.20" y="132.95" width="1.6" height="1.6" fill="#000000"/><path d="M641.00 135.77L646.60 126.70H635.40Z" stroke="#000000" stroke-width="2" fill="none" stroke-linejoin="miter"/><rect x="640.20" y="128.70" width="1.6" height="1.6" fill="#000000"/><path d="M644.00 140.73L649.60 131.66H638.40Z" stroke="#000000" stroke-width="2" fill="none" stroke-linejoin="miter"/><rect x="643.20" y="133.66" width="1.6" height="1.6" fill="#000000"/><path d="M647.00 143.20L652.60 134.13H641.40Z" stroke="#000000" stroke-width="2" fill="none" stroke-linejoin="miter"/><rect x="646.20" y="136.13" width="1.6" height="1.6" fill="#000000"/><path d="M650.00 134.49L655.60 125.42H644.40Z" stroke="#000000" stroke-width="2" fill="none" stroke-linejoin="miter"/><rect x="649.20" y="127.42" width="1.6" height="1.6" fill="#000000"/><path d="M653.00 127.53L658.60 118.46H647.40Z" stroke="#000000" stroke-width="2" fill="none" stroke-linejoin="miter"/><rect x="652.20" y="120.46" width="1.6" height="1.6" fill="#000000"/><path d="M656.00 138.45L661.60 129.38H650.40Z" stroke="#000000" stroke-width="2" fill="none" stroke-linejoin="miter"/><rect x="655.20" y="131.38" width="1.6" height="1.6" fill="#000000"/><path d="M659.00 138.02L664.60 128.94H653.40Z" stroke="#000000" stroke-width="2" fill="none" stroke-linejoin="miter"/><rect x="658.20" y="130.94" width="1.6" height="1.6" fill="#000000"/><path d="M662.00 144.00L667.60 134.92H656.40Z" stroke="#000000" stroke-width="2" fill="none" stroke-linejoin="miter"/><rect x="661.20" y="136.92" width="1.6" height="1.6" fill="#000000"/><path d="M665.00 154.05L670.60 144.98H659.40Z" stroke="#000000" stroke-width="2" fill="none" stroke-linejoin="miter"/><rect x="664.20" y="146.98" width="1.6" height="1.6" fill="#000000"/><path d="M668.00 147.22L673.60 138.15H662.40Z" stroke="#000000" stroke-width="2" fill="none" stroke-linejoin="miter"/><rect x="667.20" y="140.15" width="1.6" height="1.6" fill="#000000"/><path d="M671.00 142.67L676.60 133.60H665.40Z" stroke="#000000" stroke-width="2" fill="none" stroke-linejoin="miter"/><rect x="670.20" y="135.60" width="1.6" height="1.6" fill="#000000"/><path d="M674.00 145.33L679.60 136.26H668.40Z" stroke="#000000" stroke-width="2" fill="none" stroke-linejoin="miter"/><rect x="673.20" y="138.26" width="1.6" height="1.6" fill="#000000"/><path d="M677.00 146.70L682.60 137.63H671.40Z" stroke="#000000" stroke-width="2" fill="none" stroke-linejoin="miter"/><rect x="676.20" y="139.63" width="1.6" height="1.6" fill="#000000"/><path d="M680.00 130.29L685.60 121.22H674.40Z" stroke="#000000" stroke-width="2" fill="none" stroke-linejoin="miter"/><rect x="679.20" y="123.22" width="1.6" height="1.6" fill="#000000"/><path d="M683.00 152.04L688.60 142.97H677.40Z" stroke="#000000" stroke-width="2" fill="none" stroke-linejoin="miter"/><rect x="682.20" y="144.97" width="1.6" height="1.6" fill="#000000"/><path d="M686.00 148.71L691.60 139.63H680.40Z" stroke="#000000" stroke-width="2" fill="none" stroke-linejoin="miter"/><rect x="685.20" y="141.63" width="1.6" height="1.6" fill="#000000"/><path d="M649.00 103.27L654.60 94.20H643.40Z" stroke="#000000" stroke-width="2" fill="none" stroke-linejoin="miter"/><rect x="648.20" y="96.20" width="1.6" height="1.6" fill="#000000"/><path d="M655.00 105.27L660.60 96.20H649.40Z" stroke="#000000" stroke-width="2" fill="none" stroke-linejoin="miter"/><rect x="654.20" y="98.20" width="1.6" height="1.6" fill="#000000"/><path d="M660.00 107.27L665.60 98.20H654.40Z" stroke="#000000" stroke-width="2" fill="none" stroke-linejoin="miter"/><rect x="659.20" y="100.20" width="1.6" height="1.6" fill="#000000"/><path d="M572.30 222.07L577.90 213.00H566.70Z" stroke="#000000" stroke-width="2" fill="none" stroke-linejoin="miter"/><rect x="571.50" y="215.00" width="1.6" height="1.6" fill="#000000"/><path d="M176.70 401.63L182.30 410.70H171.10Z" stroke="#0000ff" stroke-width="2" fill="none" stroke-linejoin="miter"/><rect x="175.90" y="407.10" width="1.6" height="1.6" fill="#0000ff"/><path d="M182.00 397.73L187.60 406.80H176.40Z" stroke="#0000ff" stroke-width="2" fill="none" stroke-linejoin="miter"/><rect x="181.20" y="403.20" width="1.6" height="1.6" fill="#0000ff"/><path d="M185.50 396.73L191.10 405.80H179.90Z" stroke="#0000ff" stroke-width="2" fill="none" stroke-linejoin="miter"/><rect x="184.70" y="402.20" width="1.6" height="1.6" fill="#0000ff"/><path d="M188.90 395.13L194.50 404.20H183.30Z" stroke="#0000ff" stroke-width="2" fill="none" stroke-linejoin="miter"/><rect x="188.10" y="400.60" width="1.6" height="1.6" fill="#0000ff"/><path d="M192.10 398.23L197.70 407.30H186.50Z" stroke="#0000ff" stroke-width="2" fill="none" stroke-linejoin="miter"/><rect x="191.30" y="403.70" width="1.6" height="1.6" fill="#0000ff"/><path d="M195.40 391.53L201.00 400.60H189.80Z" stroke="#0000ff" stroke-width="2" fill="none" stroke-linejoin="miter"/><rect x="194.60" y="397.00" width="1.6" height="1.6" fill="#0000ff"/><path d="M199.50 382.83L205.10 391.90H193.90Z" stroke="#0000ff" stroke-width="2" fill="none" stroke-linejoin="miter"/><rect x="198.70" y="388.30" width="1.6" height="1.6" fill="#0000ff"/><path d="M203.50 384.23L209.10 393.30H197.90Z" stroke="#0000ff" stroke-width="2" fill="none" stroke-linejoin="miter"/><rect x="202.70" y="389.70" width="1.6" height="1.6" fill="#0000ff"/><path d="M207.50 379.53L213.10 388.60H201.90Z" stroke="#0000ff" stroke-width="2" fill="none" stroke-linejoin="miter"/><rect x="206.70" y="385.00" width="1.6" height="1.6" fill="#0000ff"/><path d="M210.80 375.53L216.40 384.60H205.20Z" stroke="#0000ff" stroke-width="2" fill="none" stroke-linejoin="miter"/><rect x="210.00" y="381.00" width="1.6" height="1.6" fill="#0000ff"/><path d="M213.50 356.43L219.10 365.50H207.90Z" stroke="#0000ff" stroke-width="2" fill="none" stroke-linejoin="miter"/><rect x="212.70" y="361.90" width="1.6" height="1.6" fill="#0000ff"/><path d="M216.90 349.43L222.50 358.50H211.30Z" stroke="#0000ff" stroke-width="2" fill="none" stroke-linejoin="miter"/><rect x="216.10" y="354.90" width="1.6" height="1.6" fill="#0000ff"/><path d="M219.90 323.73L225.50 332.80H214.30Z" stroke="#0000ff" stroke-width="2" fill="none" stroke-linejoin="miter"/><rect x="219.10" y="329.20" width="1.6" height="1.6" fill="#0000ff"/><path d="M222.50 313.43L228.10 322.50H216.90Z" stroke="#0000ff" stroke-width="2" fill="none" stroke-linejoin="miter"/><rect x="221.70" y="318.90" width="1.6" height="1.6" fill="#0000ff"/><path d="M225.90 305.63L231.50 314.70H220.30Z" stroke="#0000ff" stroke-width="2" fill="none" stroke-linejoin="miter"/><rect x="225.10" y="311.10" width="1.6" height="1.6" fill="#0000ff"/><path d="M229.30 283.33L234.90 292.40H223.70Z" stroke="#0000ff" stroke-width="2" fill="none" stroke-linejoin="miter"/><rect x="228.50" y="288.80" width="1.6" height="1.6" fill="#0000ff"/><path d="M231.90 273.83L237.50 282.90H226.30Z" stroke="#0000ff" stroke-width="2" fill="none" stroke-linejoin="miter"/><rect x="231.10" y="279.30" width="1.6" height="1.6" fill="#0000ff"/><path d="M234.50 254.03L240.10 263.10H228.90Z" stroke="#0000ff" stroke-width="2" fill="none" stroke-linejoin="miter"/><rect x="233.70" y="259.50" width="1.6" height="1.6" fill="#0000ff"/><path d="M237.90 240.23L243.50 249.30H232.30Z" stroke="#0000ff" stroke-width="2" fill="none" stroke-linejoin="miter"/><rect x="237.10" y="245.70" width="1.6" height="1.6" fill="#0000ff"/><path d="M241.00 227.83L246.60 236.90H235.40Z" stroke="#0000ff" stroke-width="2" fill="none" stroke-linejoin="miter"/><rect x="240.20" y="233.30" width="1.6" height="1.6" fill="#0000ff"/><path d="M244.20 220.93L249.80 230.00H238.60Z" stroke="#0000ff" stroke-width="2" fill="none" stroke-linejoin="miter"/><rect x="243.40" y="226.40" width="1.6" height="1.6" fill="#0000ff"/><path d="M247.30 203.53L252.90 212.60H241.70Z" stroke="#0000ff" stroke-width="2" fill="none" stroke-linejoin="miter"/><rect x="246.50" y="209.00" width="1.6" height="1.6" fill="#0000ff"/><path d="M250.40 196.03L256.00 205.10H244.80Z" stroke="#0000ff" stroke-width="2" fill="none" stroke-linejoin="miter"/><rect x="249.60" y="201.50" width="1.6" height="1.6" fill="#0000ff"/><path d="M253.50 187.33L259.10 196.40H247.90Z" stroke="#0000ff" stroke-width="2" fill="none" stroke-linejoin="miter"/><rect x="252.70" y="192.80" width="1.6" height="1.6" fill="#0000ff"/><path d="M257.20 166.23L262.80 175.30H251.60Z" stroke="#0000ff" stroke-width="2" fill="none" stroke-linejoin="miter"/><rect x="256.40" y="171.70" width="1.6" height="1.6" fill="#0000ff"/><path d="M260.60 158.93L266.20 168.00H255.00Z" stroke="#0000ff" stroke-width="2" fill="none" stroke-linejoin="miter"/><rect x="259.80" y="164.40" width="1.6" height="1.6" fill="#0000ff"/><path d="M264.10 155.73L269.70 164.80H258.50Z" stroke="#0000ff" stroke-width="2" fill="none" stroke-linejoin="miter"/><rect x="263.30" y="161.20" width="1.6" height="1.6" fill="#0000ff"/><path d="M267.00 161.73L272.60 170.80H261.40Z" stroke="#0000ff" stroke-width="2" fill="none" stroke-linejoin="miter"/><rect x="266.20" y="167.20" width="1.6" height="1.6" fill="#0000ff"/><path d="M270.50 163.73L276.10 172.80H264.90Z" stroke="#0000ff" stroke-width="2" fill="none" stroke-linejoin="miter"/><rect x="269.70" y="169.20" width="1.6" height="1.6" fill="#0000ff"/><path d="M274.40 166.63L280.00 175.70H268.80Z" stroke="#0000ff" stroke-width="2" fill="none" stroke-linejoin="miter"/><rect x="273.60" y="172.10" width="1.6" height="1.6" fill="#0000ff"/><path d="M277.70 175.53L283.30 184.60H272.10Z" stroke="#0000ff" stroke-width="2" fill="none" stroke-linejoin="miter"/><rect x="276.90" y="181.00" width="1.6" height="1.6" fill="#0000ff"/><path d="M280.50 169.73L286.10 178.80H274.90Z" stroke="#0000ff" stroke-width="2" fill="none" stroke-linejoin="miter"/><rect x="279.70" y="175.20" width="1.6" height="1.6" fill="#0000ff"/><path d="M283.20 164.13L288.80 173.20H277.60Z" stroke="#0000ff" stroke-width="2" fill="none" stroke-linejoin="miter"/><rect x="282.40" y="169.60" width="1.6" height="1.6" fill="#0000ff"/><path d="M286.50 158.73L292.10 167.80H280.90Z" stroke="#0000ff" stroke-width="2" fill="none" stroke-linejoin="miter"/><rect x="285.70" y="164.20" width="1.6" height="1.6" fill="#0000ff"/><path d="M289.50 151.73L295.10 160.80H283.90Z" stroke="#0000ff" stroke-width="2" fill="none" stroke-linejoin="miter"/><rect x="288.70" y="157.20" width="1.6" height="1.6" fill="#0000ff"/><path d="M292.40 146.53L298.00 155.60H286.80Z" stroke="#0000ff" stroke-width="2" fill="none" stroke-linejoin="miter"/><rect x="291.60" y="152.00" width="1.6" height="1.6" fill="#0000ff"/><path d="M295.00 148.73L300.60 157.80H289.40Z" stroke="#0000ff" stroke-width="2" fill="none" stroke-linejoin="miter"/><rect x="294.20" y="154.20" width="1.6" height="1.6" fill="#0000ff"/><path d="M297.00 151.13L302.60 160.20H291.40Z" stroke="#0000ff" stroke-width="2" fill="none" stroke-linejoin="miter"/><rect x="296.20" y="156.60" width="1.6" height="1.6" fill="#0000ff"/><path d="M299.50 140.73L305.10 149.80H293.90Z" stroke="#0000ff" stroke-width="2" fill="none" stroke-linejoin="miter"/><rect x="298.70" y="146.20" width="1.6" height="1.6" fill="#0000ff"/><path d="M301.60 131.93L307.20 141.00H296.00Z" stroke="#0000ff" stroke-width="2" fill="none" stroke-linejoin="miter"/><rect x="300.80" y="137.40" width="1.6" height="1.6" fill="#0000ff"/><path d="M304.60 128.93L310.20 138.00H299.00Z" stroke="#0000ff" stroke-width="2" fill="none" stroke-linejoin="miter"/><rect x="303.80" y="134.40" width="1.6" height="1.6" fill="#0000ff"/><path d="M308.50 144.23L314.10 153.30H302.90Z" stroke="#0000ff" stroke-width="2" fill="none" stroke-linejoin="miter"/><rect x="307.70" y="149.70" width="1.6" height="1.6" fill="#0000ff"/><path d="M312.60 142.93L318.20 152.00H307.00Z" stroke="#0000ff" stroke-width="2" fill="none" stroke-linejoin="miter"/><rect x="311.80" y="148.40" width="1.6" height="1.6" fill="#0000ff"/><path d="M315.50 145.73L321.10 154.80H309.90Z" stroke="#0000ff" stroke-width="2" fill="none" stroke-linejoin="miter"/><rect x="314.70" y="151.20" width="1.6" height="1.6" fill="#0000ff"/><path d="M318.50 151.73L324.10 160.80H312.90Z" stroke="#0000ff" stroke-width="2" fill="none" stroke-linejoin="miter"/><rect x="317.70" y="157.20" width="1.6" height="1.6" fill="#0000ff"/><path d="M321.80 157.43L327.40 166.50H316.20Z" stroke="#0000ff" stroke-width="2" fill="none" stroke-linejoin="miter"/><rect x="321.00" y="162.90" width="1.6" height="1.6" fill="#0000ff"/><path d="M326.40 150.53L332.00 159.60H320.80Z" stroke="#0000ff" stroke-width="2" fill="none" stroke-linejoin="miter"/><rect x="325.60" y="156.00" width="1.6" height="1.6" fill="#0000ff"/><path d="M329.50 143.73L335.10 152.80H323.90Z" stroke="#0000ff" stroke-width="2" fill="none" stroke-linejoin="miter"/><rect x="328.70" y="149.20" width="1.6" height="1.6" fill="#0000ff"/><path d="M332.50 140.44L338.10 149.51H326.90Z" stroke="#0000ff" stroke-width="2" fill="none" stroke-linejoin="miter"/><rect x="331.70" y="145.91" width="1.6" height="1.6" fill="#0000ff"/><path d="M335.50 141.98L341.10 151.05H329.90Z" stroke="#0000ff" stroke-width="2" fill="none" stroke-linejoin="miter"/><rect x="334.70" y="147.45" width="1.6" height="1.6" fill="#0000ff"/><path d="M338.50 142.34L344.10 151.41H332.90Z" stroke="#0000ff" stroke-width="2" fill="none" stroke-linejoin="miter"/><rect x="337.70" y="147.81" width="1.6" height="1.6" fill="#0000ff"/><path d="M341.50 144.39L347.10 153.46H335.90Z" stroke="#0000ff" stroke-width="2" fill="none" stroke-linejoin="miter"/><rect x="340.70" y="149.86" width="1.6" height="1.6" fill="#0000ff"/><path d="M344.50 140.15L350.10 149.22H338.90Z" stroke="#0000ff" stroke-width="2" fill="none" stroke-linejoin="miter"/><rect x="343.70" y="145.62" width="1.6" height="1.6" fill="#0000ff"/><path d="M347.50 143.56L353.10 152.63H341.90Z" stroke="#0000ff" stroke-width="2" fill="none" stroke-linejoin="miter"/><rect x="346.70" y="149.03" width="1.6" height="1.6" fill="#0000ff"/><path d="M350.50 127.75L356.10 136.82H344.90Z" stroke="#0000ff" stroke-width="2" fill="none" stroke-linejoin="miter"/><rect x="349.70" y="133.22" width="1.6" height="1.6" fill="#0000ff"/><path d="M353.50 135.88L359.10 144.95H347.90Z" stroke="#0000ff" stroke-width="2" fill="none" stroke-linejoin="miter"/><rect x="352.70" y="141.35" width="1.6" height="1.6" fill="#0000ff"/><path d="M356.50 144.56L362.10 153.63H350.90Z" stroke="#0000ff" stroke-width="2" fill="none" stroke-linejoin="miter"/><rect x="355.70" y="150.03" width="1.6" height="1.6" fill="#0000ff"/><path d="M359.50 138.36L365.10 147.43H353.90Z" stroke="#0000ff" stroke-width="2" fill="none" stroke-linejoin="miter"/><rect x="358.70" y="143.83" width="1.6" height="1.6" fill="#0000ff"/><path d="M362.50 141.99L368.10 151.07H356.90Z" stroke="#0000ff" stroke-width="2" fill="none" stroke-linejoin="miter"/><rect x="361.70" y="147.47" width="1.6" height="1.6" fill="#0000ff"/><path d="M365.50 126.92L371.10 135.99H359.90Z" stroke="#0000ff" stroke-width="2" fill="none" stroke-linejoin="miter"/><rect x="364.70" y="132.39" width="1.6" height="1.6" fill="#0000ff"/><path d="M368.50 131.35L374.10 140.43H362.90Z" stroke="#0000ff" stroke-width="2" fill="none" stroke-linejoin="miter"/><rect x="367.70" y="136.83" width="1.6" height="1.6" fill="#0000ff"/><path d="M371.50 125.17L377.10 134.24H365.90Z" stroke="#0000ff" stroke-width="2" fill="none" stroke-linejoin="miter"/><rect x="370.70" y="130.64" width="1.6" height="1.6" fill="#0000ff"/><path d="M374.50 128.33L380.10 137.41H368.90Z" stroke="#0000ff" stroke-width="2" fill="none" stroke-linejoin="miter"/><rect x="373.70" y="133.81" width="1.6" height="1.6" fill="#0000ff"/><path d="M377.50 126.31L383.10 135.38H371.90Z" stroke="#0000ff" stroke-width="2" fill="none" stroke-linejoin="miter"/><rect x="376.70" y="131.78" width="1.6" height="1.6" fill="#0000ff"/><path d="M380.50 111.71L386.10 120.79H374.90Z" stroke="#0000ff" stroke-width="2" fill="none" stroke-linejoin="miter"/><rect x="379.70" y="117.19" width="1.6" height="1.6" fill="#0000ff"/><path d="M383.50 110.88L389.10 119.95H377.90Z" stroke="#0000ff" stroke-width="2" fill="none" stroke-linejoin="miter"/><rect x="382.70" y="116.35" width="1.6" height="1.6" fill="#0000ff"/><path d="M386.50 109.26L392.10 118.33H380.90Z" stroke="#0000ff" stroke-width="2" fill="none" stroke-linejoin="miter"/><rect x="385.70" y="114.73" width="1.6" height="1.6" fill="#0000ff"/><path d="M389.50 119.72L395.10 128.79H383.90Z" stroke="#0000ff" stroke-width="2" fill="none" stroke-linejoin="miter"/><rect x="388.70" y="125.19" width="1.6" height="1.6" fill="#0000ff"/><path d="M392.50 116.01L398.10 125.08H386.90Z" stroke="#0000ff" stroke-width="2" fill="none" stroke-linejoin="miter"/><rect x="391.70" y="121.48" width="1.6" height="1.6" fill="#0000ff"/><path d="M395.50 104.10L401.10 113.17H389.90Z" stroke="#0000ff" stroke-width="2" fill="none" stroke-linejoin="miter"/><rect x="394.70" y="109.57" width="1.6" height="1.6" fill="#0000ff"/><path d="M398.50 114.58L404.10 123.65H392.90Z" stroke="#0000ff" stroke-width="2" fill="none" stroke-linejoin="miter"/><rect x="397.70" y="120.05" width="1.6" height="1.6" fill="#0000ff"/><path d="M401.50 102.68L407.10 111.75H395.90Z" stroke="#0000ff" stroke-width="2" fill="none" stroke-linejoin="miter"/><rect x="400.70" y="108.15" width="1.6" height="1.6" fill="#0000ff"/><path d="M404.50 112.19L410.10 121.26H398.90Z" stroke="#0000ff" stroke-width="2" fill="none" stroke-linejoin="miter"/><rect x="403.70" y="117.66" width="1.6" height="1.6" fill="#0000ff"/><path d="M407.50 104.26L413.10 113.33H401.90Z" stroke="#0000ff" stroke-width="2" fill="none" stroke-linejoin="miter"/><rect x="406.70" y="109.73" width="1.6" height="1.6" fill="#0000ff"/><path d="M410.50 102.40L416.10 111.47H404.90Z" stroke="#0000ff" stroke-width="2" fill="none" stroke-linejoin="miter"/><rect x="409.70" y="107.87" width="1.6" height="1.6" fill="#0000ff"/><path d="M413.50 115.87L419.10 124.94H407.90Z" stroke="#0000ff" stroke-width="2" fill="none" stroke-linejoin="miter"/><rect x="412.70" y="121.34" width="1.6" height="1.6" fill="#0000ff"/><path d="M416.50 101.77L422.10 110.84H410.90Z" stroke="#0000ff" stroke-width="2" fill="none" stroke-linejoin="miter"/><rect x="415.70" y="107.24" width="1.6" height="1.6" fill="#0000ff"/><path d="M419.50 99.70L425.10 108.77H413.90Z" stroke="#0000ff" stroke-width="2" fill="none" stroke-linejoin="miter"/><rect x="418.70" y="105.17" width="1.6" height="1.6" fill="#0000ff"/><path d="M422.50 113.50L428.10 122.57H416.90Z" stroke="#0000ff" stroke-width="2" fill="none" stroke-linejoin="miter"/><rect x="421.70" y="118.97" width="1.6" height="1.6" fill="#0000ff"/><path d="M425.50 113.70L431.10 122.78H419.90Z" stroke="#0000ff" stroke-width="2" fill="none" stroke-linejoin="miter"/><rect x="424.70" y="119.18" width="1.6" height="1.6" fill="#0000ff"/><path d="M428.50 105.39L434.10 114.46H422.90Z" stroke="#0000ff" stroke-width="2" fill="none" stroke-linejoin="miter"/><rect x="427.70" y="110.86" width="1.6" height="1.6" fill="#0000ff"/><path d="M431.50 119.67L437.10 128.74H425.90Z" stroke="#0000ff" stroke-width="2" fill="none" stroke-linejoin="miter"/><rect x="430.70" y="125.14" width="1.6" height="1.6" fill="#0000ff"/><path d="M434.50 112.82L440.10 121.89H428.90Z" stroke="#0000ff" stroke-width="2" fill="none" stroke-linejoin="miter"/><rect x="433.70" y="118.29" width="1.6" height="1.6" fill="#0000ff"/><path d="M437.50 115.78L443.10 124.85H431.90Z" stroke="#0000ff" stroke-width="2" fill="none" stroke-linejoin="miter"/><rect x="436.70" y="121.25" width="1.6" height="1.6" fill="#0000ff"/><path d="M440.50 107.72L446.10 116.79H434.90Z" stroke="#0000ff" stroke-width="2" fill="none" stroke-linejoin="miter"/><rect x="439.70" y="113.19" width="1.6" height="1.6" fill="#0000ff"/><path d="M443.50 121.43L449.10 130.51H437.90Z" stroke="#0000ff" stroke-width="2" fill="none" stroke-linejoin="miter"/><rect x="442.70" y="126.91" width="1.6" height="1.6" fill="#0000ff"/><path d="M446.50 117.36L452.10 126.43H440.90Z" stroke="#0000ff" stroke-width="2" fill="none" stroke-linejoin="miter"/><rect x="445.70" y="122.83" width="1.6" height="1.6" fill="#0000ff"/><path d="M449.50 122.73L455.10 131.80H443.90Z" stroke="#0000ff" stroke-width="2" fill="none" stroke-linejoin="miter"/><rect x="448.70" y="128.20" width="1.6" height="1.6" fill="#0000ff"/><path d="M452.50 121.82L458.10 130.89H446.90Z" stroke="#0000ff" stroke-width="2" fill="none" stroke-linejoin="miter"/><rect x="451.70" y="127.29" width="1.6" height="1.6" fill="#0000ff"/><path d="M455.50 111.51L461.10 120.58H449.90Z" stroke="#0000ff" stroke-width="2" fill="none" stroke-linejoin="miter"/><rect x="454.70" y="116.98" width="1.6" height="1.6" fill="#0000ff"/><path d="M458.50 113.03L464.10 122.10H452.90Z" stroke="#0000ff" stroke-width="2" fill="none" stroke-linejoin="miter"/><rect x="457.70" y="118.50" width="1.6" height="1.6" fill="#0000ff"/><path d="M461.50 109.42L467.10 118.49H455.90Z" stroke="#0000ff" stroke-width="2" fill="none" stroke-linejoin="miter"/><rect x="460.70" y="114.89" width="1.6" height="1.6" fill="#0000ff"/><path d="M464.50 108.45L470.10 117.52H458.90Z" stroke="#0000ff" stroke-width="2" fill="none" stroke-linejoin="miter"/><rect x="463.70" y="113.92" width="1.6" height="1.6" fill="#0000ff"/><path d="M467.50 106.40L473.10 115.47H461.90Z" stroke="#0000ff" stroke-width="2" fill="none" stroke-linejoin="miter"/><rect x="466.70" y="111.87" width="1.6" height="1.6" fill="#0000ff"/><path d="M470.50 110.05L476.10 119.12H464.90Z" stroke="#0000ff" stroke-width="2" fill="none" stroke-linejoin="miter"/><rect x="469.70" y="115.52" width="1.6" height="1.6" fill="#0000ff"/><path d="M473.50 114.88L479.10 123.96H467.90Z" stroke="#0000ff" stroke-width="2" fill="none" stroke-linejoin="miter"/><rect x="472.70" y="120.36" width="1.6" height="1.6" fill="#0000ff"/><path d="M476.50 103.49L482.10 112.56H470.90Z" stroke="#0000ff" stroke-width="2" fill="none" stroke-linejoin="miter"/><rect x="475.70" y="108.96" width="1.6" height="1.6" fill="#0000ff"/><path d="M479.50 115.03L485.10 124.10H473.90Z" stroke="#0000ff" stroke-width="2" fill="none" stroke-linejoin="miter"/><rect x="478.70" y="120.50" width="1.6" height="1.6" fill="#0000ff"/><path d="M482.50 107.34L488.10 116.41H476.90Z" stroke="#0000ff" stroke-width="2" fill="none" stroke-linejoin="miter"/><rect x="481.70" y="112.81" width="1.6" height="1.6" fill="#0000ff"/><path d="M485.50 105.07L491.10 114.14H479.90Z" stroke="#0000ff" stroke-width="2" fill="none" stroke-linejoin="miter"/><rect x="484.70" y="110.54" width="1.6" height="1.6" fill="#0000ff"/><path d="M488.50 112.46L494.10 121.53H482.90Z" stroke="#0000ff" stroke-width="2" fill="none" stroke-linejoin="miter"/><rect x="487.70" y="117.93" width="1.6" height="1.6" fill="#0000ff"/><path d="M491.50 104.62L497.10 113.69H485.90Z" stroke="#0000ff" stroke-width="2" fill="none" stroke-linejoin="miter"/><rect x="490.70" y="110.09" width="1.6" height="1.6" fill="#0000ff"/><path d="M494.50 99.88L500.10 108.95H488.90Z" stroke="#0000ff" stroke-width="2" fill="none" stroke-linejoin="miter"/><rect x="493.70" y="105.35" width="1.6" height="1.6" fill="#0000ff"/><path d="M497.50 101.93L503.10 111.00H491.90Z" stroke="#0000ff" stroke-width="2" fill="none" stroke-linejoin="miter"/><rect x="496.70" y="107.40" width="1.6" height="1.6" fill="#0000ff"/><path d="M500.50 109.18L506.10 118.25H494.90Z" stroke="#0000ff" stroke-width="2" fill="none" stroke-linejoin="miter"/><rect x="499.70" y="114.65" width="1.6" height="1.6" fill="#0000ff"/><path d="M503.50 100.75L509.10 109.83H497.90Z" stroke="#0000ff" stroke-width="2" fill="none" stroke-linejoin="miter"/><rect x="502.70" y="106.23" width="1.6" height="1.6" fill="#0000ff"/><path d="M506.50 120.51L512.10 129.58H500.90Z" stroke="#0000ff" stroke-width="2" fill="none" stroke-linejoin="miter"/><rect x="505.70" y="125.98" width="1.6" height="1.6" fill="#0000ff"/><path d="M509.50 106.60L515.10 115.67H503.90Z" stroke="#0000ff" stroke-width="2" fill="none" stroke-linejoin="miter"/><rect x="508.70" y="112.07" width="1.6" height="1.6" fill="#0000ff"/><path d="M512.50 120.56L518.10 129.63H506.90Z" stroke="#0000ff" stroke-width="2" fill="none" stroke-linejoin="miter"/><rect x="511.70" y="126.03" width="1.6" height="1.6" fill="#0000ff"/><path d="M515.50 122.67L521.10 131.74H509.90Z" stroke="#0000ff" stroke-width="2" fill="none" stroke-linejoin="miter"/><rect x="514.70" y="128.14" width="1.6" height="1.6" fill="#0000ff"/><path d="M518.50 108.19L524.10 117.26H512.90Z" stroke="#0000ff" stroke-width="2" fill="none" stroke-linejoin="miter"/><rect x="517.70" y="113.66" width="1.6" height="1.6" fill="#0000ff"/><path d="M521.50 122.44L527.10 131.51H515.90Z" stroke="#0000ff" stroke-width="2" fill="none" stroke-linejoin="miter"/><rect x="520.70" y="127.91" width="1.6" height="1.6" fill="#0000ff"/><path d="M524.50 115.25L530.10 124.32H518.90Z" stroke="#0000ff" stroke-width="2" fill="none" stroke-linejoin="miter"/><rect x="523.70" y="120.72" width="1.6" height="1.6" fill="#0000ff"/><path d="M527.50 117.99L533.10 127.06H521.90Z" stroke="#0000ff" stroke-width="2" fill="none" stroke-linejoin="miter"/><rect x="526.70" y="123.46" width="1.6" height="1.6" fill="#0000ff"/><path d="M530.50 106.35L536.10 115.42H524.90Z" stroke="#0000ff" stroke-width="2" fill="none" stroke-linejoin="miter"/><rect x="529.70" y="111.82" width="1.6" height="1.6" fill="#0000ff"/><path d="M533.50 105.65L539.10 114.72H527.90Z" stroke="#0000ff" stroke-width="2" fill="none" stroke-linejoin="miter"/><rect x="532.70" y="111.12" width="1.6" height="1.6" fill="#0000ff"/><path d="M536.50 106.68L542.10 115.75H530.90Z" stroke="#0000ff" stroke-width="2" fill="none" stroke-linejoin="miter"/><rect x="535.70" y="112.15" width="1.6" height="1.6" fill="#0000ff"/><path d="M539.50 122.05L545.10 131.12H533.90Z" stroke="#0000ff" stroke-width="2" fill="none" stroke-linejoin="miter"/><rect x="538.70" y="127.52" width="1.6" height="1.6" fill="#0000ff"/><path d="M542.50 112.64L548.10 121.71H536.90Z" stroke="#0000ff" stroke-width="2" fill="none" stroke-linejoin="miter"/><rect x="541.70" y="118.11" width="1.6" height="1.6" fill="#0000ff"/><path d="M545.50 126.96L551.10 136.03H539.90Z" stroke="#0000ff" stroke-width="2" fill="none" stroke-linejoin="miter"/><rect x="544.70" y="132.43" width="1.6" height="1.6" fill="#0000ff"/><path d="M548.50 134.34L554.10 143.41H542.90Z" stroke="#0000ff" stroke-width="2" fill="none" stroke-linejoin="miter"/><rect x="547.70" y="139.81" width="1.6" height="1.6" fill="#0000ff"/><path d="M551.50 137.73L557.10 146.81H545.90Z" stroke="#0000ff" stroke-width="2" fill="none" stroke-linejoin="miter"/><rect x="550.70" y="143.21" width="1.6" height="1.6" fill="#0000ff"/><path d="M554.50 129.08L560.10 138.15H548.90Z" stroke="#0000ff" stroke-width="2" fill="none" stroke-linejoin="miter"/><rect x="553.70" y="134.55" width="1.6" height="1.6" fill="#0000ff"/><path d="M557.50 131.36L563.10 140.44H551.90Z" stroke="#0000ff" stroke-width="2" fill="none" stroke-linejoin="miter"/><rect x="556.70" y="136.84" width="1.6" height="1.6" fill="#0000ff"/><path d="M560.50 136.07L566.10 145.14H554.90Z" stroke="#0000ff" stroke-width="2" fill="none" stroke-linejoin="miter"/><rect x="559.70" y="141.54" width="1.6" height="1.6" fill="#0000ff"/><path d="M563.50 139.99L569.10 149.06H557.90Z" stroke="#0000ff" stroke-width="2" fill="none" stroke-linejoin="miter"/><rect x="562.70" y="145.46" width="1.6" height="1.6" fill="#0000ff"/><path d="M566.50 127.37L572.10 136.44H560.90Z" stroke="#0000ff" stroke-width="2" fill="none" stroke-linejoin="miter"/><rect x="565.70" y="132.84" width="1.6" height="1.6" fill="#0000ff"/><path d="M569.50 138.30L575.10 147.37H563.90Z" stroke="#0000ff" stroke-width="2" fill="none" stroke-linejoin="miter"/><rect x="568.70" y="143.77" width="1.6" height="1.6" fill="#0000ff"/><path d="M572.50 136.58L578.10 145.65H566.90Z" stroke="#0000ff" stroke-width="2" fill="none" stroke-linejoin="miter"/><rect x="571.70" y="142.05" width="1.6" height="1.6" fill="#0000ff"/><path d="M575.50 134.70L581.10 143.77H569.90Z" stroke="#0000ff" stroke-width="2" fill="none" stroke-linejoin="miter"/><rect x="574.70" y="140.17" width="1.6" height="1.6" fill="#0000ff"/><path d="M578.50 116.89L584.10 125.96H572.90Z" stroke="#0000ff" stroke-width="2" fill="none" stroke-linejoin="miter"/><rect x="577.70" y="122.36" width="1.6" height="1.6" fill="#0000ff"/><path d="M581.50 128.00L587.10 137.07H575.90Z" stroke="#0000ff" stroke-width="2" fill="none" stroke-linejoin="miter"/><rect x="580.70" y="133.47" width="1.6" height="1.6" fill="#0000ff"/><path d="M584.50 105.12L590.10 114.19H578.90Z" stroke="#0000ff" stroke-width="2" fill="none" stroke-linejoin="miter"/><rect x="583.70" y="110.59" width="1.6" height="1.6" fill="#0000ff"/><path d="M587.50 102.11L593.10 111.18H581.90Z" stroke="#0000ff" stroke-width="2" fill="none" stroke-linejoin="miter"/><rect x="586.70" y="107.58" width="1.6" height="1.6" fill="#0000ff"/><path d="M590.50 105.31L596.10 114.38H584.90Z" stroke="#0000ff" stroke-width="2" fill="none" stroke-linejoin="miter"/><rect x="589.70" y="110.78" width="1.6" height="1.6" fill="#0000ff"/><path d="M593.50 110.34L599.10 119.41H587.90Z" stroke="#0000ff" stroke-width="2" fill="none" stroke-linejoin="miter"/><rect x="592.70" y="115.81" width="1.6" height="1.6" fill="#0000ff"/><path d="M596.50 99.43L602.10 108.50H590.90Z" stroke="#0000ff" stroke-width="2" fill="none" stroke-linejoin="miter"/><rect x="595.70" y="104.90" width="1.6" height="1.6" fill="#0000ff"/><path d="M599.50 109.45L605.10 118.52H593.90Z" stroke="#0000ff" stroke-width="2" fill="none" stroke-linejoin="miter"/><rect x="598.70" y="114.92" width="1.6" height="1.6" fill="#0000ff"/><path d="M602.50 102.54L608.10 111.61H596.90Z" stroke="#0000ff" stroke-width="2" fill="none" stroke-linejoin="miter"/><rect x="601.70" y="108.01" width="1.6" height="1.6" fill="#0000ff"/><path d="M605.50 98.35L611.10 107.42H599.90Z" stroke="#0000ff" stroke-width="2" fill="none" stroke-linejoin="miter"/><rect x="604.70" y="103.82" width="1.6" height="1.6" fill="#0000ff"/><path d="M608.50 98.43L614.10 107.50H602.90Z" stroke="#0000ff" stroke-width="2" fill="none" stroke-linejoin="miter"/><rect x="607.70" y="103.90" width="1.6" height="1.6" fill="#0000ff"/><path d="M611.50 95.92L617.10 104.99H605.90Z" stroke="#0000ff" stroke-width="2" fill="none" stroke-linejoin="miter"/><rect x="610.70" y="101.39" width="1.6" height="1.6" fill="#0000ff"/><path d="M614.50 95.64L620.10 104.71H608.90Z" stroke="#0000ff" stroke-width="2" fill="none" stroke-linejoin="miter"/><rect x="613.70" y="101.11" width="1.6" height="1.6" fill="#0000ff"/><path d="M617.50 99.91L623.10 108.98H611.90Z" stroke="#0000ff" stroke-width="2" fill="none" stroke-linejoin="miter"/><rect x="616.70" y="105.38" width="1.6" height="1.6" fill="#0000ff"/><path d="M620.50 112.63L626.10 121.71H614.90Z" stroke="#0000ff" stroke-width="2" fill="none" stroke-linejoin="miter"/><rect x="619.70" y="118.11" width="1.6" height="1.6" fill="#0000ff"/><path d="M623.50 121.17L629.10 130.24H617.90Z" stroke="#0000ff" stroke-width="2" fill="none" stroke-linejoin="miter"/><rect x="622.70" y="126.64" width="1.6" height="1.6" fill="#0000ff"/><path d="M626.50 107.84L632.10 116.91H620.90Z" stroke="#0000ff" stroke-width="2" fill="none" stroke-linejoin="miter"/><rect x="625.70" y="113.31" width="1.6" height="1.6" fill="#0000ff"/><path d="M629.50 106.20L635.10 115.27H623.90Z" stroke="#0000ff" stroke-width="2" fill="none" stroke-linejoin="miter"/><rect x="628.70" y="111.67" width="1.6" height="1.6" fill="#0000ff"/><path d="M632.50 123.49L638.10 132.56H626.90Z" stroke="#0000ff" stroke-width="2" fill="none" stroke-linejoin="miter"/><rect x="631.70" y="128.96" width="1.6" height="1.6" fill="#0000ff"/><path d="M635.50 115.73L641.10 124.80H629.90Z" stroke="#0000ff" stroke-width="2" fill="none" stroke-linejoin="miter"/><rect x="634.70" y="121.20" width="1.6" height="1.6" fill="#0000ff"/><path d="M638.50 113.83L644.10 122.91H632.90Z" stroke="#0000ff" stroke-width="2" fill="none" stroke-linejoin="miter"/><rect x="637.70" y="119.31" width="1.6" height="1.6" fill="#0000ff"/><path d="M641.50 110.48L647.10 119.55H635.90Z" stroke="#0000ff" stroke-width="2" fill="none" stroke-linejoin="miter"/><rect x="640.70" y="115.95" width="1.6" height="1.6" fill="#0000ff"/><path d="M644.50 115.84L650.10 124.92H638.90Z" stroke="#0000ff" stroke-width="2" fill="none" stroke-linejoin="miter"/><rect x="643.70" y="121.32" width="1.6" height="1.6" fill="#0000ff"/><path d="M647.50 118.98L653.10 128.05H641.90Z" stroke="#0000ff" stroke-width="2" fill="none" stroke-linejoin="miter"/><rect x="646.70" y="124.45" width="1.6" height="1.6" fill="#0000ff"/><path d="M650.50 111.25L656.10 120.33H644.90Z" stroke="#0000ff" stroke-width="2" fill="none" stroke-linejoin="miter"/><rect x="649.70" y="116.73" width="1.6" height="1.6" fill="#0000ff"/><path d="M653.50 109.59L659.10 118.67H647.90Z" stroke="#0000ff" stroke-width="2" fill="none" stroke-linejoin="miter"/><rect x="652.70" y="115.07" width="1.6" height="1.6" fill="#0000ff"/><path d="M656.50 101.96L662.10 111.03H650.90Z" stroke="#0000ff" stroke-width="2" fill="none" stroke-linejoin="miter"/><rect x="655.70" y="107.43" width="1.6" height="1.6" fill="#0000ff"/><path d="M659.50 116.39L665.10 125.46H653.90Z" stroke="#0000ff" stroke-width="2" fill="none" stroke-linejoin="miter"/><rect x="658.70" y="121.86" width="1.6" height="1.6" fill="#0000ff"/><path d="M662.50 100.65L668.10 109.72H656.90Z" stroke="#0000ff" stroke-width="2" fill="none" stroke-linejoin="miter"/><rect x="661.70" y="106.12" width="1.6" height="1.6" fill="#0000ff"/><path d="M665.50 109.35L671.10 118.42H659.90Z" stroke="#0000ff" stroke-width="2" fill="none" stroke-linejoin="miter"/><rect x="664.70" y="114.82" width="1.6" height="1.6" fill="#0000ff"/><path d="M668.50 115.95L674.10 125.03H662.90Z" stroke="#0000ff" stroke-width="2" fill="none" stroke-linejoin="miter"/><rect x="667.70" y="121.43" width="1.6" height="1.6" fill="#0000ff"/><path d="M671.50 103.61L677.10 112.68H665.90Z" stroke="#0000ff" stroke-width="2" fill="none" stroke-linejoin="miter"/><rect x="670.70" y="109.08" width="1.6" height="1.6" fill="#0000ff"/><path d="M674.50 114.83L680.10 123.90H668.90Z" stroke="#0000ff" stroke-width="2" fill="none" stroke-linejoin="miter"/><rect x="673.70" y="120.30" width="1.6" height="1.6" fill="#0000ff"/><path d="M677.50 118.44L683.10 127.51H671.90Z" stroke="#0000ff" stroke-width="2" fill="none" stroke-linejoin="miter"/><rect x="676.70" y="123.91" width="1.6" height="1.6" fill="#0000ff"/><path d="M680.50 112.23L686.10 121.30H674.90Z" stroke="#0000ff" stroke-width="2" fill="none" stroke-linejoin="miter"/><rect x="679.70" y="117.70" width="1.6" height="1.6" fill="#0000ff"/><path d="M683.50 114.60L689.10 123.68H677.90Z" stroke="#0000ff" stroke-width="2" fill="none" stroke-linejoin="miter"/><rect x="682.70" y="120.08" width="1.6" height="1.6" fill="#0000ff"/><path d="M686.50 101.88L692.10 110.95H680.90Z" stroke="#0000ff" stroke-width="2" fill="none" stroke-linejoin="miter"/><rect x="685.70" y="107.35" width="1.6" height="1.6" fill="#0000ff"/><circle cx="182.00" cy="404.00" r="5.60" stroke="#e69f00" stroke-width="2" fill="none"/><rect x="181.20" y="403.20" width="1.6" height="1.6" fill="#e69f00"/><circle cx="187.70" cy="391.00" r="5.60" stroke="#e69f00" stroke-width="2" fill="none"/><rect x="186.90" y="390.20" width="1.6" height="1.6" fill="#e69f00"/><circle cx="194.50" cy="373.50" r="5.60" stroke="#e69f00" stroke-width="2" fill="none"/><rect x="193.70" y="372.70" width="1.6" height="1.6" fill="#e69f00"/><circle cx="200.10" cy="342.40" r="5.60" stroke="#e69f00" stroke-width="2" fill="none"/><rect x="199.30" y="341.60" width="1.6" height="1.6" fill="#e69f00"/><circle cx="206.10" cy="310.20" r="5.60" stroke="#e69f00" stroke-width="2" fill="none"/><rect x="205.30" y="309.40" width="1.6" height="1.6" fill="#e69f00"/><circle cx="212.50" cy="275.50" r="5.60" stroke="#e69f00" stroke-width="2" fill="none"/><rect x="211.70" y="274.70" width="1.6" height="1.6" fill="#e69f00"/><circle cx="218.50" cy="242.30" r="5.60" stroke="#e69f00" stroke-width="2" fill="none"/><rect x="217.70" y="241.50" width="1.6" height="1.6" fill="#e69f00"/><circle cx="224.60" cy="212.80" r="5.60" stroke="#e69f00" stroke-width="2" fill="none"/><rect x="223.80" y="212.00" width="1.6" height="1.6" fill="#e69f00"/><circle cx="230.70" cy="186.80" r="5.60" stroke="#e69f00" stroke-width="2" fill="none"/><rect x="229.90" y="186.00" width="1.6" height="1.6" fill="#e69f00"/><circle cx="236.90" cy="164.00" r="5.60" stroke="#e69f00" stroke-width="2" fill="none"/><rect x="236.10" y="163.20" width="1.6" height="1.6" fill="#e69f00"/><circle cx="242.70" cy="145.90" r="5.60" stroke="#e69f00" stroke-width="2" fill="none"/><rect x="241.90" y="145.10" width="1.6" height="1.6" fill="#e69f00"/><circle cx="249.00" cy="140.00" r="5.60" stroke="#e69f00" stroke-width="2" fill="none"/><rect x="248.20" y="139.20" width="1.6" height="1.6" fill="#e69f00"/><circle cx="255.00" cy="137.00" r="5.60" stroke="#e69f00" stroke-width="2" fill="none"/><rect x="254.20" y="136.20" width="1.6" height="1.6" fill="#e69f00"/><circle cx="261.80" cy="134.40" r="5.60" stroke="#e69f00" stroke-width="2" fill="none"/><rect x="261.00" y="133.60" width="1.6" height="1.6" fill="#e69f00"/><circle cx="267.90" cy="140.50" r="5.60" stroke="#e69f00" stroke-width="2" fill="none"/><rect x="267.10" y="139.70" width="1.6" height="1.6" fill="#e69f00"/><circle cx="275.60" cy="145.90" r="5.60" stroke="#e69f00" stroke-width="2" fill="none"/><rect x="274.80" y="145.10" width="1.6" height="1.6" fill="#e69f00"/><circle cx="279.40" cy="135.20" r="5.60" stroke="#e69f00" stroke-width="2" fill="none"/><rect x="278.60" y="134.40" width="1.6" height="1.6" fill="#e69f00"/><circle cx="285.80" cy="139.00" r="5.60" stroke="#e69f00" stroke-width="2" fill="none"/><rect x="285.00" y="138.20" width="1.6" height="1.6" fill="#e69f00"/><circle cx="291.90" cy="117.60" r="5.60" stroke="#e69f00" stroke-width="2" fill="none"/><rect x="291.10" y="116.80" width="1.6" height="1.6" fill="#e69f00"/><circle cx="297.80" cy="128.30" r="5.60" stroke="#e69f00" stroke-width="2" fill="none"/><rect x="297.00" y="127.50" width="1.6" height="1.6" fill="#e69f00"/><circle cx="304.60" cy="125.20" r="5.60" stroke="#e69f00" stroke-width="2" fill="none"/><rect x="303.80" y="124.40" width="1.6" height="1.6" fill="#e69f00"/><circle cx="310.00" cy="124.40" r="5.60" stroke="#e69f00" stroke-width="2" fill="none"/><rect x="309.20" y="123.60" width="1.6" height="1.6" fill="#e69f00"/><circle cx="316.10" cy="106.00" r="5.60" stroke="#e69f00" stroke-width="2" fill="none"/><rect x="315.30" y="105.20" width="1.6" height="1.6" fill="#e69f00"/><circle cx="322.20" cy="116.70" r="5.60" stroke="#e69f00" stroke-width="2" fill="none"/><rect x="321.40" y="115.90" width="1.6" height="1.6" fill="#e69f00"/><circle cx="330.60" cy="127.40" r="5.60" stroke="#e69f00" stroke-width="2" fill="none"/><rect x="329.80" y="126.60" width="1.6" height="1.6" fill="#e69f00"/><circle cx="336.70" cy="138.10" r="5.60" stroke="#e69f00" stroke-width="2" fill="none"/><rect x="335.90" y="137.30" width="1.6" height="1.6" fill="#e69f00"/><circle cx="341.30" cy="134.30" r="5.60" stroke="#e69f00" stroke-width="2" fill="none"/><rect x="340.50" y="133.50" width="1.6" height="1.6" fill="#e69f00"/><circle cx="349.00" cy="145.00" r="5.60" stroke="#e69f00" stroke-width="2" fill="none"/><rect x="348.20" y="144.20" width="1.6" height="1.6" fill="#e69f00"/><circle cx="355.10" cy="133.50" r="5.60" stroke="#e69f00" stroke-width="2" fill="none"/><rect x="354.30" y="132.70" width="1.6" height="1.6" fill="#e69f00"/><circle cx="360.40" cy="115.20" r="5.60" stroke="#e69f00" stroke-width="2" fill="none"/><rect x="359.60" y="114.40" width="1.6" height="1.6" fill="#e69f00"/><circle cx="365.80" cy="115.20" r="5.60" stroke="#e69f00" stroke-width="2" fill="none"/><rect x="365.00" y="114.40" width="1.6" height="1.6" fill="#e69f00"/><circle cx="371.90" cy="119.80" r="5.60" stroke="#e69f00" stroke-width="2" fill="none"/><rect x="371.10" y="119.00" width="1.6" height="1.6" fill="#e69f00"/><circle cx="378.00" cy="116.70" r="5.60" stroke="#e69f00" stroke-width="2" fill="none"/><rect x="377.20" y="115.90" width="1.6" height="1.6" fill="#e69f00"/><circle cx="385.70" cy="114.40" r="5.60" stroke="#e69f00" stroke-width="2" fill="none"/><rect x="384.90" y="113.60" width="1.6" height="1.6" fill="#e69f00"/><circle cx="391.80" cy="127.40" r="5.60" stroke="#e69f00" stroke-width="2" fill="none"/><rect x="391.00" y="126.60" width="1.6" height="1.6" fill="#e69f00"/><circle cx="397.90" cy="129.00" r="5.60" stroke="#e69f00" stroke-width="2" fill="none"/><rect x="397.10" y="128.20" width="1.6" height="1.6" fill="#e69f00"/><circle cx="402.50" cy="136.60" r="5.60" stroke="#e69f00" stroke-width="2" fill="none"/><rect x="401.70" y="135.80" width="1.6" height="1.6" fill="#e69f00"/><circle cx="410.20" cy="138.10" r="5.60" stroke="#e69f00" stroke-width="2" fill="none"/><rect x="409.40" y="137.30" width="1.6" height="1.6" fill="#e69f00"/><circle cx="416.30" cy="151.90" r="5.60" stroke="#e69f00" stroke-width="2" fill="none"/><rect x="415.50" y="151.10" width="1.6" height="1.6" fill="#e69f00"/><circle cx="422.40" cy="138.10" r="5.60" stroke="#e69f00" stroke-width="2" fill="none"/><rect x="421.60" y="137.30" width="1.6" height="1.6" fill="#e69f00"/><circle cx="428.50" cy="145.80" r="5.60" stroke="#e69f00" stroke-width="2" fill="none"/><rect x="427.70" y="145.00" width="1.6" height="1.6" fill="#e69f00"/><circle cx="434.60" cy="144.30" r="5.60" stroke="#e69f00" stroke-width="2" fill="none"/><rect x="433.80" y="143.50" width="1.6" height="1.6" fill="#e69f00"/><circle cx="440.70" cy="130.50" r="5.60" stroke="#e69f00" stroke-width="2" fill="none"/><rect x="439.90" y="129.70" width="1.6" height="1.6" fill="#e69f00"/><circle cx="445.30" cy="124.40" r="5.60" stroke="#e69f00" stroke-width="2" fill="none"/><rect x="444.50" y="123.60" width="1.6" height="1.6" fill="#e69f00"/><circle cx="449.90" cy="118.20" r="5.60" stroke="#e69f00" stroke-width="2" fill="none"/><rect x="449.10" y="117.40" width="1.6" height="1.6" fill="#e69f00"/><circle cx="459.10" cy="108.30" r="5.60" stroke="#e69f00" stroke-width="2" fill="none"/><rect x="458.30" y="107.50" width="1.6" height="1.6" fill="#e69f00"/><circle cx="464.40" cy="122.80" r="5.60" stroke="#e69f00" stroke-width="2" fill="none"/><rect x="463.60" y="122.00" width="1.6" height="1.6" fill="#e69f00"/><circle cx="469.80" cy="125.90" r="5.60" stroke="#e69f00" stroke-width="2" fill="none"/><rect x="469.00" y="125.10" width="1.6" height="1.6" fill="#e69f00"/><circle cx="475.90" cy="126.70" r="5.60" stroke="#e69f00" stroke-width="2" fill="none"/><rect x="475.10" y="125.90" width="1.6" height="1.6" fill="#e69f00"/><circle cx="482.00" cy="124.40" r="5.60" stroke="#e69f00" stroke-width="2" fill="none"/><rect x="481.20" y="123.60" width="1.6" height="1.6" fill="#e69f00"/><circle cx="489.70" cy="113.70" r="5.60" stroke="#e69f00" stroke-width="2" fill="none"/><rect x="488.90" y="112.90" width="1.6" height="1.6" fill="#e69f00"/><circle cx="495.80" cy="129.70" r="5.60" stroke="#e69f00" stroke-width="2" fill="none"/><rect x="495.00" y="128.90" width="1.6" height="1.6" fill="#e69f00"/><circle cx="501.90" cy="122.10" r="5.60" stroke="#e69f00" stroke-width="2" fill="none"/><rect x="501.10" y="121.30" width="1.6" height="1.6" fill="#e69f00"/><circle cx="508.00" cy="125.10" r="5.60" stroke="#e69f00" stroke-width="2" fill="none"/><rect x="507.20" y="124.30" width="1.6" height="1.6" fill="#e69f00"/><circle cx="513.40" cy="136.60" r="5.60" stroke="#e69f00" stroke-width="2" fill="none"/><rect x="512.60" y="135.80" width="1.6" height="1.6" fill="#e69f00"/><circle cx="520.30" cy="136.60" r="5.60" stroke="#e69f00" stroke-width="2" fill="none"/><rect x="519.50" y="135.80" width="1.6" height="1.6" fill="#e69f00"/><circle cx="526.40" cy="119.00" r="5.60" stroke="#e69f00" stroke-width="2" fill="none"/><rect x="525.60" y="118.20" width="1.6" height="1.6" fill="#e69f00"/><circle cx="532.50" cy="139.70" r="5.60" stroke="#e69f00" stroke-width="2" fill="none"/><rect x="531.70" y="138.90" width="1.6" height="1.6" fill="#e69f00"/><circle cx="538.60" cy="128.20" r="5.60" stroke="#e69f00" stroke-width="2" fill="none"/><rect x="537.80" y="127.40" width="1.6" height="1.6" fill="#e69f00"/><circle cx="544.70" cy="125.90" r="5.60" stroke="#e69f00" stroke-width="2" fill="none"/><rect x="543.90" y="125.10" width="1.6" height="1.6" fill="#e69f00"/><circle cx="550.90" cy="122.80" r="5.60" stroke="#e69f00" stroke-width="2" fill="none"/><rect x="550.10" y="122.00" width="1.6" height="1.6" fill="#e69f00"/><circle cx="557.00" cy="120.50" r="5.60" stroke="#e69f00" stroke-width="2" fill="none"/><rect x="556.20" y="119.70" width="1.6" height="1.6" fill="#e69f00"/><circle cx="563.10" cy="120.50" r="5.60" stroke="#e69f00" stroke-width="2" fill="none"/><rect x="562.30" y="119.70" width="1.6" height="1.6" fill="#e69f00"/><circle cx="567.00" cy="120.30" r="5.60" stroke="#e69f00" stroke-width="2" fill="none"/><rect x="566.20" y="119.50" width="1.6" height="1.6" fill="#e69f00"/><circle cx="571.70" cy="120.20" r="5.60" stroke="#e69f00" stroke-width="2" fill="none"/><rect x="570.90" y="119.40" width="1.6" height="1.6" fill="#e69f00"/><circle cx="576.00" cy="123.70" r="5.60" stroke="#e69f00" stroke-width="2" fill="none"/><rect x="575.20" y="122.90" width="1.6" height="1.6" fill="#e69f00"/><circle cx="581.20" cy="115.90" r="5.60" stroke="#e69f00" stroke-width="2" fill="none"/><rect x="580.40" y="115.10" width="1.6" height="1.6" fill="#e69f00"/><circle cx="587.60" cy="126.70" r="5.60" stroke="#e69f00" stroke-width="2" fill="none"/><rect x="586.80" y="125.90" width="1.6" height="1.6" fill="#e69f00"/><circle cx="593.20" cy="116.80" r="5.60" stroke="#e69f00" stroke-width="2" fill="none"/><rect x="592.40" y="116.00" width="1.6" height="1.6" fill="#e69f00"/><circle cx="596.70" cy="121.90" r="5.60" stroke="#e69f00" stroke-width="2" fill="none"/><rect x="595.90" y="121.10" width="1.6" height="1.6" fill="#e69f00"/><circle cx="605.30" cy="122.80" r="5.60" stroke="#e69f00" stroke-width="2" fill="none"/><rect x="604.50" y="122.00" width="1.6" height="1.6" fill="#e69f00"/><circle cx="609.60" cy="121.90" r="5.60" stroke="#e69f00" stroke-width="2" fill="none"/><rect x="608.80" y="121.10" width="1.6" height="1.6" fill="#e69f00"/><circle cx="616.50" cy="131.40" r="5.60" stroke="#e69f00" stroke-width="2" fill="none"/><rect x="615.70" y="130.60" width="1.6" height="1.6" fill="#e69f00"/><circle cx="620.80" cy="112.50" r="5.60" stroke="#e69f00" stroke-width="2" fill="none"/><rect x="620.00" y="111.70" width="1.6" height="1.6" fill="#e69f00"/><circle cx="625.50" cy="121.50" r="5.60" stroke="#e69f00" stroke-width="2" fill="none"/><rect x="624.70" y="120.70" width="1.6" height="1.6" fill="#e69f00"/><circle cx="631.50" cy="111.60" r="5.60" stroke="#e69f00" stroke-width="2" fill="none"/><rect x="630.70" y="110.80" width="1.6" height="1.6" fill="#e69f00"/><circle cx="638.40" cy="102.60" r="5.60" stroke="#e69f00" stroke-width="2" fill="none"/><rect x="637.60" y="101.80" width="1.6" height="1.6" fill="#e69f00"/><circle cx="643.10" cy="92.70" r="5.60" stroke="#e69f00" stroke-width="2" fill="none"/><rect x="642.30" y="91.90" width="1.6" height="1.6" fill="#e69f00"/><circle cx="647.40" cy="100.40" r="5.60" stroke="#e69f00" stroke-width="2" fill="none"/><rect x="646.60" y="99.60" width="1.6" height="1.6" fill="#e69f00"/><circle cx="652.60" cy="109.90" r="5.60" stroke="#e69f00" stroke-width="2" fill="none"/><rect x="651.80" y="109.10" width="1.6" height="1.6" fill="#e69f00"/><circle cx="656.90" cy="97.80" r="5.60" stroke="#e69f00" stroke-width="2" fill="none"/><rect x="656.10" y="97.00" width="1.6" height="1.6" fill="#e69f00"/><circle cx="660.30" cy="90.50" r="5.60" stroke="#e69f00" stroke-width="2" fill="none"/><rect x="659.50" y="89.70" width="1.6" height="1.6" fill="#e69f00"/><circle cx="664.60" cy="89.70" r="5.60" stroke="#e69f00" stroke-width="2" fill="none"/><rect x="663.80" y="88.90" width="1.6" height="1.6" fill="#e69f00"/><circle cx="670.20" cy="77.60" r="5.60" stroke="#e69f00" stroke-width="2" fill="none"/><rect x="669.40" y="76.80" width="1.6" height="1.6" fill="#e69f00"/><circle cx="675.40" cy="82.80" r="5.60" stroke="#e69f00" stroke-width="2" fill="none"/><rect x="674.60" y="82.00" width="1.6" height="1.6" fill="#e69f00"/><circle cx="679.20" cy="91.80" r="5.60" stroke="#e69f00" stroke-width="2" fill="none"/><rect x="678.40" y="91.00" width="1.6" height="1.6" fill="#e69f00"/><circle cx="683.50" cy="99.10" r="5.60" stroke="#e69f00" stroke-width="2" fill="none"/><rect x="682.70" y="98.30" width="1.6" height="1.6" fill="#e69f00"/><circle cx="688.50" cy="98.30" r="5.60" stroke="#e69f00" stroke-width="2" fill="none"/><rect x="687.70" y="97.50" width="1.6" height="1.6" fill="#e69f00"/><rect x="174.75" y="411.55" width="11.10" height="11.10" stroke="#ff0000" stroke-width="1.9" fill="none"/><rect x="179.50" y="416.30" width="1.6" height="1.6" fill="#ff0000"/><rect x="177.79" y="398.71" width="11.10" height="11.10" stroke="#ff0000" stroke-width="1.9" fill="none"/><rect x="182.54" y="403.46" width="1.6" height="1.6" fill="#ff0000"/><rect x="180.84" y="373.57" width="11.10" height="11.10" stroke="#ff0000" stroke-width="1.9" fill="none"/><rect x="185.59" y="378.32" width="1.6" height="1.6" fill="#ff0000"/><rect x="183.88" y="337.87" width="11.10" height="11.10" stroke="#ff0000" stroke-width="1.9" fill="none"/><rect x="188.63" y="342.62" width="1.6" height="1.6" fill="#ff0000"/><rect x="186.93" y="301.76" width="11.10" height="11.10" stroke="#ff0000" stroke-width="1.9" fill="none"/><rect x="191.68" y="306.51" width="1.6" height="1.6" fill="#ff0000"/><rect x="189.97" y="271.36" width="11.10" height="11.10" stroke="#ff0000" stroke-width="1.9" fill="none"/><rect x="194.72" y="276.11" width="1.6" height="1.6" fill="#ff0000"/><rect x="193.02" y="238.23" width="11.10" height="11.10" stroke="#ff0000" stroke-width="1.9" fill="none"/><rect x="197.77" y="242.98" width="1.6" height="1.6" fill="#ff0000"/><rect x="196.06" y="213.52" width="11.10" height="11.10" stroke="#ff0000" stroke-width="1.9" fill="none"/><rect x="200.81" y="218.27" width="1.6" height="1.6" fill="#ff0000"/><rect x="199.11" y="193.79" width="11.10" height="11.10" stroke="#ff0000" stroke-width="1.9" fill="none"/><rect x="203.86" y="198.54" width="1.6" height="1.6" fill="#ff0000"/><rect x="202.15" y="178.13" width="11.10" height="11.10" stroke="#ff0000" stroke-width="1.9" fill="none"/><rect x="206.90" y="182.88" width="1.6" height="1.6" fill="#ff0000"/><rect x="205.20" y="163.00" width="11.10" height="11.10" stroke="#ff0000" stroke-width="1.9" fill="none"/><rect x="209.95" y="167.75" width="1.6" height="1.6" fill="#ff0000"/><rect x="208.24" y="149.18" width="11.10" height="11.10" stroke="#ff0000" stroke-width="1.9" fill="none"/><rect x="212.99" y="153.93" width="1.6" height="1.6" fill="#ff0000"/><rect x="211.29" y="135.64" width="11.10" height="11.10" stroke="#ff0000" stroke-width="1.9" fill="none"/><rect x="216.04" y="140.39" width="1.6" height="1.6" fill="#ff0000"/><rect x="214.33" y="132.12" width="11.10" height="11.10" stroke="#ff0000" stroke-width="1.9" fill="none"/><rect x="219.08" y="136.87" width="1.6" height="1.6" fill="#ff0000"/><rect x="217.38" y="123.54" width="11.10" height="11.10" stroke="#ff0000" stroke-width="1.9" fill="none"/><rect x="222.13" y="128.29" width="1.6" height="1.6" fill="#ff0000"/><rect x="220.42" y="113.35" width="11.10" height="11.10" stroke="#ff0000" stroke-width="1.9" fill="none"/><rect x="225.17" y="118.10" width="1.6" height="1.6" fill="#ff0000"/><rect x="223.47" y="109.16" width="11.10" height="11.10" stroke="#ff0000" stroke-width="1.9" fill="none"/><rect x="228.22" y="113.91" width="1.6" height="1.6" fill="#ff0000"/><rect x="226.51" y="108.78" width="11.10" height="11.10" stroke="#ff0000" stroke-width="1.9" fill="none"/><rect x="231.26" y="113.53" width="1.6" height="1.6" fill="#ff0000"/><rect x="229.56" y="108.16" width="11.10" height="11.10" stroke="#ff0000" stroke-width="1.9" fill="none"/><rect x="234.31" y="112.91" width="1.6" height="1.6" fill="#ff0000"/><rect x="232.60" y="108.37" width="11.10" height="11.10" stroke="#ff0000" stroke-width="1.9" fill="none"/><rect x="237.35" y="113.12" width="1.6" height="1.6" fill="#ff0000"/><rect x="235.65" y="112.35" width="11.10" height="11.10" stroke="#ff0000" stroke-width="1.9" fill="none"/><rect x="240.40" y="117.10" width="1.6" height="1.6" fill="#ff0000"/><rect x="238.69" y="120.12" width="11.10" height="11.10" stroke="#ff0000" stroke-width="1.9" fill="none"/><rect x="243.44" y="124.87" width="1.6" height="1.6" fill="#ff0000"/><rect x="241.74" y="127.04" width="11.10" height="11.10" stroke="#ff0000" stroke-width="1.9" fill="none"/><rect x="246.49" y="131.79" width="1.6" height="1.6" fill="#ff0000"/><rect x="244.78" y="131.73" width="11.10" height="11.10" stroke="#ff0000" stroke-width="1.9" fill="none"/><rect x="249.53" y="136.48" width="1.6" height="1.6" fill="#ff0000"/><rect x="247.83" y="136.80" width="11.10" height="11.10" stroke="#ff0000" stroke-width="1.9" fill="none"/><rect x="252.58" y="141.55" width="1.6" height="1.6" fill="#ff0000"/><rect x="250.87" y="139.32" width="11.10" height="11.10" stroke="#ff0000" stroke-width="1.9" fill="none"/><rect x="255.62" y="144.07" width="1.6" height="1.6" fill="#ff0000"/><rect x="253.92" y="140.50" width="11.10" height="11.10" stroke="#ff0000" stroke-width="1.9" fill="none"/><rect x="258.67" y="145.25" width="1.6" height="1.6" fill="#ff0000"/><rect x="256.96" y="143.00" width="11.10" height="11.10" stroke="#ff0000" stroke-width="1.9" fill="none"/><rect x="261.71" y="147.75" width="1.6" height="1.6" fill="#ff0000"/><rect x="260.01" y="145.60" width="11.10" height="11.10" stroke="#ff0000" stroke-width="1.9" fill="none"/><rect x="264.76" y="150.35" width="1.6" height="1.6" fill="#ff0000"/><rect x="263.05" y="149.77" width="11.10" height="11.10" stroke="#ff0000" stroke-width="1.9" fill="none"/><rect x="267.80" y="154.52" width="1.6" height="1.6" fill="#ff0000"/><rect x="266.10" y="152.77" width="11.10" height="11.10" stroke="#ff0000" stroke-width="1.9" fill="none"/><rect x="270.85" y="157.52" width="1.6" height="1.6" fill="#ff0000"/><rect x="269.14" y="156.65" width="11.10" height="11.10" stroke="#ff0000" stroke-width="1.9" fill="none"/><rect x="273.89" y="161.40" width="1.6" height="1.6" fill="#ff0000"/><rect x="272.19" y="159.78" width="11.10" height="11.10" stroke="#ff0000" stroke-width="1.9" fill="none"/><rect x="276.94" y="164.53" width="1.6" height="1.6" fill="#ff0000"/><rect x="275.23" y="163.47" width="11.10" height="11.10" stroke="#ff0000" stroke-width="1.9" fill="none"/><rect x="279.98" y="168.22" width="1.6" height="1.6" fill="#ff0000"/><rect x="278.28" y="166.66" width="11.10" height="11.10" stroke="#ff0000" stroke-width="1.9" fill="none"/><rect x="283.03" y="171.41" width="1.6" height="1.6" fill="#ff0000"/><rect x="281.32" y="169.38" width="11.10" height="11.10" stroke="#ff0000" stroke-width="1.9" fill="none"/><rect x="286.07" y="174.13" width="1.6" height="1.6" fill="#ff0000"/><rect x="284.37" y="173.39" width="11.10" height="11.10" stroke="#ff0000" stroke-width="1.9" fill="none"/><rect x="289.12" y="178.14" width="1.6" height="1.6" fill="#ff0000"/><rect x="287.41" y="175.23" width="11.10" height="11.10" stroke="#ff0000" stroke-width="1.9" fill="none"/><rect x="292.16" y="179.98" width="1.6" height="1.6" fill="#ff0000"/><rect x="290.46" y="175.83" width="11.10" height="11.10" stroke="#ff0000" stroke-width="1.9" fill="none"/><rect x="295.21" y="180.58" width="1.6" height="1.6" fill="#ff0000"/><rect x="293.50" y="175.87" width="11.10" height="11.10" stroke="#ff0000" stroke-width="1.9" fill="none"/><rect x="298.25" y="180.62" width="1.6" height="1.6" fill="#ff0000"/><rect x="296.55" y="175.25" width="11.10" height="11.10" stroke="#ff0000" stroke-width="1.9" fill="none"/><rect x="301.30" y="180.00" width="1.6" height="1.6" fill="#ff0000"/><rect x="299.59" y="175.28" width="11.10" height="11.10" stroke="#ff0000" stroke-width="1.9" fill="none"/><rect x="304.34" y="180.03" width="1.6" height="1.6" fill="#ff0000"/><rect x="302.64" y="174.19" width="11.10" height="11.10" stroke="#ff0000" stroke-width="1.9" fill="none"/><rect x="307.39" y="178.94" width="1.6" height="1.6" fill="#ff0000"/><rect x="305.69" y="169.92" width="11.10" height="11.10" stroke="#ff0000" stroke-width="1.9" fill="none"/><rect x="310.44" y="174.67" width="1.6" height="1.6" fill="#ff0000"/><rect x="308.73" y="168.46" width="11.10" height="11.10" stroke="#ff0000" stroke-width="1.9" fill="none"/><rect x="313.48" y="173.21" width="1.6" height="1.6" fill="#ff0000"/><rect x="311.78" y="170.18" width="11.10" height="11.10" stroke="#ff0000" stroke-width="1.9" fill="none"/><rect x="316.53" y="174.93" width="1.6" height="1.6" fill="#ff0000"/><rect x="314.82" y="169.11" width="11.10" height="11.10" stroke="#ff0000" stroke-width="1.9" fill="none"/><rect x="319.57" y="173.86" width="1.6" height="1.6" fill="#ff0000"/><rect x="317.87" y="173.46" width="11.10" height="11.10" stroke="#ff0000" stroke-width="1.9" fill="none"/><rect x="322.62" y="178.21" width="1.6" height="1.6" fill="#ff0000"/><rect x="320.91" y="173.61" width="11.10" height="11.10" stroke="#ff0000" stroke-width="1.9" fill="none"/><rect x="325.66" y="178.36" width="1.6" height="1.6" fill="#ff0000"/><rect x="323.96" y="173.95" width="11.10" height="11.10" stroke="#ff0000" stroke-width="1.9" fill="none"/><rect x="328.71" y="178.70" width="1.6" height="1.6" fill="#ff0000"/><rect x="327.00" y="174.59" width="11.10" height="11.10" stroke="#ff0000" stroke-width="1.9" fill="none"/><rect x="331.75" y="179.34" width="1.6" height="1.6" fill="#ff0000"/><rect x="330.05" y="176.16" width="11.10" height="11.10" stroke="#ff0000" stroke-width="1.9" fill="none"/><rect x="334.80" y="180.91" width="1.6" height="1.6" fill="#ff0000"/><rect x="333.09" y="173.77" width="11.10" height="11.10" stroke="#ff0000" stroke-width="1.9" fill="none"/><rect x="337.84" y="178.52" width="1.6" height="1.6" fill="#ff0000"/><rect x="336.14" y="176.07" width="11.10" height="11.10" stroke="#ff0000" stroke-width="1.9" fill="none"/><rect x="340.89" y="180.82" width="1.6" height="1.6" fill="#ff0000"/><rect x="339.18" y="174.29" width="11.10" height="11.10" stroke="#ff0000" stroke-width="1.9" fill="none"/><rect x="343.93" y="179.04" width="1.6" height="1.6" fill="#ff0000"/><rect x="342.23" y="179.05" width="11.10" height="11.10" stroke="#ff0000" stroke-width="1.9" fill="none"/><rect x="346.98" y="183.80" width="1.6" height="1.6" fill="#ff0000"/><rect x="345.27" y="171.86" width="11.10" height="11.10" stroke="#ff0000" stroke-width="1.9" fill="none"/><rect x="350.02" y="176.61" width="1.6" height="1.6" fill="#ff0000"/><rect x="348.32" y="174.82" width="11.10" height="11.10" stroke="#ff0000" stroke-width="1.9" fill="none"/><rect x="353.07" y="179.57" width="1.6" height="1.6" fill="#ff0000"/><rect x="351.36" y="168.59" width="11.10" height="11.10" stroke="#ff0000" stroke-width="1.9" fill="none"/><rect x="356.11" y="173.34" width="1.6" height="1.6" fill="#ff0000"/><rect x="354.41" y="172.04" width="11.10" height="11.10" stroke="#ff0000" stroke-width="1.9" fill="none"/><rect x="359.16" y="176.79" width="1.6" height="1.6" fill="#ff0000"/><rect x="357.45" y="169.33" width="11.10" height="11.10" stroke="#ff0000" stroke-width="1.9" fill="none"/><rect x="362.20" y="174.08" width="1.6" height="1.6" fill="#ff0000"/><rect x="360.50" y="169.29" width="11.10" height="11.10" stroke="#ff0000" stroke-width="1.9" fill="none"/><rect x="365.25" y="174.04" width="1.6" height="1.6" fill="#ff0000"/><rect x="363.54" y="171.68" width="11.10" height="11.10" stroke="#ff0000" stroke-width="1.9" fill="none"/><rect x="368.29" y="176.43" width="1.6" height="1.6" fill="#ff0000"/><rect x="366.59" y="167.79" width="11.10" height="11.10" stroke="#ff0000" stroke-width="1.9" fill="none"/><rect x="371.34" y="172.54" width="1.6" height="1.6" fill="#ff0000"/><rect x="369.63" y="169.45" width="11.10" height="11.10" stroke="#ff0000" stroke-width="1.9" fill="none"/><rect x="374.38" y="174.20" width="1.6" height="1.6" fill="#ff0000"/><rect x="372.68" y="176.30" width="11.10" height="11.10" stroke="#ff0000" stroke-width="1.9" fill="none"/><rect x="377.43" y="181.05" width="1.6" height="1.6" fill="#ff0000"/><rect x="375.72" y="174.93" width="11.10" height="11.10" stroke="#ff0000" stroke-width="1.9" fill="none"/><rect x="380.47" y="179.68" width="1.6" height="1.6" fill="#ff0000"/><rect x="378.77" y="173.27" width="11.10" height="11.10" stroke="#ff0000" stroke-width="1.9" fill="none"/><rect x="383.52" y="178.02" width="1.6" height="1.6" fill="#ff0000"/><rect x="381.81" y="180.02" width="11.10" height="11.10" stroke="#ff0000" stroke-width="1.9" fill="none"/><rect x="386.56" y="184.77" width="1.6" height="1.6" fill="#ff0000"/><rect x="384.86" y="180.78" width="11.10" height="11.10" stroke="#ff0000" stroke-width="1.9" fill="none"/><rect x="389.61" y="185.53" width="1.6" height="1.6" fill="#ff0000"/><rect x="387.90" y="175.73" width="11.10" height="11.10" stroke="#ff0000" stroke-width="1.9" fill="none"/><rect x="392.65" y="180.48" width="1.6" height="1.6" fill="#ff0000"/><rect x="390.95" y="177.21" width="11.10" height="11.10" stroke="#ff0000" stroke-width="1.9" fill="none"/><rect x="395.70" y="181.96" width="1.6" height="1.6" fill="#ff0000"/><rect x="393.99" y="174.86" width="11.10" height="11.10" stroke="#ff0000" stroke-width="1.9" fill="none"/><rect x="398.74" y="179.61" width="1.6" height="1.6" fill="#ff0000"/><rect x="397.04" y="175.49" width="11.10" height="11.10" stroke="#ff0000" stroke-width="1.9" fill="none"/><rect x="401.79" y="180.24" width="1.6" height="1.6" fill="#ff0000"/><rect x="400.08" y="176.96" width="11.10" height="11.10" stroke="#ff0000" stroke-width="1.9" fill="none"/><rect x="404.83" y="181.71" width="1.6" height="1.6" fill="#ff0000"/><rect x="403.13" y="173.52" width="11.10" height="11.10" stroke="#ff0000" stroke-width="1.9" fill="none"/><rect x="407.88" y="178.27" width="1.6" height="1.6" fill="#ff0000"/><rect x="406.17" y="176.40" width="11.10" height="11.10" stroke="#ff0000" stroke-width="1.9" fill="none"/><rect x="410.92" y="181.15" width="1.6" height="1.6" fill="#ff0000"/><rect x="409.22" y="171.73" width="11.10" height="11.10" stroke="#ff0000" stroke-width="1.9" fill="none"/><rect x="413.97" y="176.48" width="1.6" height="1.6" fill="#ff0000"/><rect x="412.26" y="171.95" width="11.10" height="11.10" stroke="#ff0000" stroke-width="1.9" fill="none"/><rect x="417.01" y="176.70" width="1.6" height="1.6" fill="#ff0000"/><rect x="415.31" y="175.53" width="11.10" height="11.10" stroke="#ff0000" stroke-width="1.9" fill="none"/><rect x="420.06" y="180.28" width="1.6" height="1.6" fill="#ff0000"/><rect x="418.35" y="172.33" width="11.10" height="11.10" stroke="#ff0000" stroke-width="1.9" fill="none"/><rect x="423.10" y="177.08" width="1.6" height="1.6" fill="#ff0000"/><rect x="421.40" y="171.90" width="11.10" height="11.10" stroke="#ff0000" stroke-width="1.9" fill="none"/><rect x="426.15" y="176.65" width="1.6" height="1.6" fill="#ff0000"/><rect x="424.44" y="172.49" width="11.10" height="11.10" stroke="#ff0000" stroke-width="1.9" fill="none"/><rect x="429.19" y="177.24" width="1.6" height="1.6" fill="#ff0000"/><rect x="427.49" y="171.19" width="11.10" height="11.10" stroke="#ff0000" stroke-width="1.9" fill="none"/><rect x="432.24" y="175.94" width="1.6" height="1.6" fill="#ff0000"/><rect x="430.53" y="170.05" width="11.10" height="11.10" stroke="#ff0000" stroke-width="1.9" fill="none"/><rect x="435.28" y="174.80" width="1.6" height="1.6" fill="#ff0000"/><rect x="433.58" y="167.62" width="11.10" height="11.10" stroke="#ff0000" stroke-width="1.9" fill="none"/><rect x="438.33" y="172.37" width="1.6" height="1.6" fill="#ff0000"/><rect x="436.62" y="172.56" width="11.10" height="11.10" stroke="#ff0000" stroke-width="1.9" fill="none"/><rect x="441.37" y="177.31" width="1.6" height="1.6" fill="#ff0000"/><rect x="439.67" y="174.59" width="11.10" height="11.10" stroke="#ff0000" stroke-width="1.9" fill="none"/><rect x="444.42" y="179.34" width="1.6" height="1.6" fill="#ff0000"/><rect x="442.71" y="175.13" width="11.10" height="11.10" stroke="#ff0000" stroke-width="1.9" fill="none"/><rect x="447.46" y="179.88" width="1.6" height="1.6" fill="#ff0000"/><rect x="445.76" y="173.61" width="11.10" height="11.10" stroke="#ff0000" stroke-width="1.9" fill="none"/><rect x="450.51" y="178.36" width="1.6" height="1.6" fill="#ff0000"/><rect x="448.80" y="172.13" width="11.10" height="11.10" stroke="#ff0000" stroke-width="1.9" fill="none"/><rect x="453.55" y="176.88" width="1.6" height="1.6" fill="#ff0000"/><rect x="451.85" y="172.66" width="11.10" height="11.10" stroke="#ff0000" stroke-width="1.9" fill="none"/><rect x="456.60" y="177.41" width="1.6" height="1.6" fill="#ff0000"/><rect x="454.89" y="175.20" width="11.10" height="11.10" stroke="#ff0000" stroke-width="1.9" fill="none"/><rect x="459.64" y="179.95" width="1.6" height="1.6" fill="#ff0000"/><rect x="457.94" y="175.31" width="11.10" height="11.10" stroke="#ff0000" stroke-width="1.9" fill="none"/><rect x="462.69" y="180.06" width="1.6" height="1.6" fill="#ff0000"/><rect x="460.98" y="171.94" width="11.10" height="11.10" stroke="#ff0000" stroke-width="1.9" fill="none"/><rect x="465.73" y="176.69" width="1.6" height="1.6" fill="#ff0000"/><rect x="464.03" y="172.93" width="11.10" height="11.10" stroke="#ff0000" stroke-width="1.9" fill="none"/><rect x="468.78" y="177.68" width="1.6" height="1.6" fill="#ff0000"/><rect x="467.07" y="173.97" width="11.10" height="11.10" stroke="#ff0000" stroke-width="1.9" fill="none"/><rect x="471.82" y="178.72" width="1.6" height="1.6" fill="#ff0000"/><rect x="470.12" y="175.13" width="11.10" height="11.10" stroke="#ff0000" stroke-width="1.9" fill="none"/><rect x="474.87" y="179.88" width="1.6" height="1.6" fill="#ff0000"/><rect x="473.16" y="177.26" width="11.10" height="11.10" stroke="#ff0000" stroke-width="1.9" fill="none"/><rect x="477.91" y="182.01" width="1.6" height="1.6" fill="#ff0000"/><rect x="476.21" y="175.49" width="11.10" height="11.10" stroke="#ff0000" stroke-width="1.9" fill="none"/><rect x="480.96" y="180.24" width="1.6" height="1.6" fill="#ff0000"/><rect x="479.25" y="172.69" width="11.10" height="11.10" stroke="#ff0000" stroke-width="1.9" fill="none"/><rect x="484.00" y="177.44" width="1.6" height="1.6" fill="#ff0000"/><rect x="482.30" y="177.99" width="11.10" height="11.10" stroke="#ff0000" stroke-width="1.9" fill="none"/><rect x="487.05" y="182.74" width="1.6" height="1.6" fill="#ff0000"/><rect x="485.34" y="175.70" width="11.10" height="11.10" stroke="#ff0000" stroke-width="1.9" fill="none"/><rect x="490.09" y="180.45" width="1.6" height="1.6" fill="#ff0000"/><rect x="488.39" y="176.78" width="11.10" height="11.10" stroke="#ff0000" stroke-width="1.9" fill="none"/><rect x="493.14" y="181.53" width="1.6" height="1.6" fill="#ff0000"/><rect x="491.43" y="175.41" width="11.10" height="11.10" stroke="#ff0000" stroke-width="1.9" fill="none"/><rect x="496.18" y="180.16" width="1.6" height="1.6" fill="#ff0000"/><rect x="494.48" y="177.25" width="11.10" height="11.10" stroke="#ff0000" stroke-width="1.9" fill="none"/><rect x="499.23" y="182.00" width="1.6" height="1.6" fill="#ff0000"/><rect x="497.52" y="177.53" width="11.10" height="11.10" stroke="#ff0000" stroke-width="1.9" fill="none"/><rect x="502.27" y="182.28" width="1.6" height="1.6" fill="#ff0000"/><rect x="500.57" y="180.52" width="11.10" height="11.10" stroke="#ff0000" stroke-width="1.9" fill="none"/><rect x="505.32" y="185.27" width="1.6" height="1.6" fill="#ff0000"/><rect x="503.61" y="176.76" width="11.10" height="11.10" stroke="#ff0000" stroke-width="1.9" fill="none"/><rect x="508.36" y="181.51" width="1.6" height="1.6" fill="#ff0000"/><rect x="506.66" y="180.43" width="11.10" height="11.10" stroke="#ff0000" stroke-width="1.9" fill="none"/><rect x="511.41" y="185.18" width="1.6" height="1.6" fill="#ff0000"/><rect x="509.70" y="178.96" width="11.10" height="11.10" stroke="#ff0000" stroke-width="1.9" fill="none"/><rect x="514.45" y="183.71" width="1.6" height="1.6" fill="#ff0000"/><rect x="512.75" y="183.19" width="11.10" height="11.10" stroke="#ff0000" stroke-width="1.9" fill="none"/><rect x="517.50" y="187.94" width="1.6" height="1.6" fill="#ff0000"/><rect x="515.79" y="179.89" width="11.10" height="11.10" stroke="#ff0000" stroke-width="1.9" fill="none"/><rect x="520.54" y="184.64" width="1.6" height="1.6" fill="#ff0000"/><rect x="518.84" y="181.84" width="11.10" height="11.10" stroke="#ff0000" stroke-width="1.9" fill="none"/><rect x="523.59" y="186.59" width="1.6" height="1.6" fill="#ff0000"/><rect x="521.88" y="182.56" width="11.10" height="11.10" stroke="#ff0000" stroke-width="1.9" fill="none"/><rect x="526.63" y="187.31" width="1.6" height="1.6" fill="#ff0000"/><rect x="524.93" y="184.72" width="11.10" height="11.10" stroke="#ff0000" stroke-width="1.9" fill="none"/><rect x="529.68" y="189.47" width="1.6" height="1.6" fill="#ff0000"/><rect x="527.97" y="181.26" width="11.10" height="11.10" stroke="#ff0000" stroke-width="1.9" fill="none"/><rect x="532.72" y="186.01" width="1.6" height="1.6" fill="#ff0000"/><rect x="531.02" y="184.15" width="11.10" height="11.10" stroke="#ff0000" stroke-width="1.9" fill="none"/><rect x="535.77" y="188.90" width="1.6" height="1.6" fill="#ff0000"/><rect x="534.06" y="181.54" width="11.10" height="11.10" stroke="#ff0000" stroke-width="1.9" fill="none"/><rect x="538.81" y="186.29" width="1.6" height="1.6" fill="#ff0000"/><rect x="537.11" y="180.79" width="11.10" height="11.10" stroke="#ff0000" stroke-width="1.9" fill="none"/><rect x="541.86" y="185.54" width="1.6" height="1.6" fill="#ff0000"/><rect x="540.15" y="180.82" width="11.10" height="11.10" stroke="#ff0000" stroke-width="1.9" fill="none"/><rect x="544.90" y="185.57" width="1.6" height="1.6" fill="#ff0000"/><rect x="543.20" y="182.69" width="11.10" height="11.10" stroke="#ff0000" stroke-width="1.9" fill="none"/><rect x="547.95" y="187.44" width="1.6" height="1.6" fill="#ff0000"/><rect x="546.24" y="178.41" width="11.10" height="11.10" stroke="#ff0000" stroke-width="1.9" fill="none"/><rect x="550.99" y="183.16" width="1.6" height="1.6" fill="#ff0000"/><rect x="549.29" y="179.62" width="11.10" height="11.10" stroke="#ff0000" stroke-width="1.9" fill="none"/><rect x="554.04" y="184.37" width="1.6" height="1.6" fill="#ff0000"/><rect x="552.33" y="172.70" width="11.10" height="11.10" stroke="#ff0000" stroke-width="1.9" fill="none"/><rect x="557.08" y="177.45" width="1.6" height="1.6" fill="#ff0000"/><rect x="555.38" y="175.67" width="11.10" height="11.10" stroke="#ff0000" stroke-width="1.9" fill="none"/><rect x="560.13" y="180.42" width="1.6" height="1.6" fill="#ff0000"/><rect x="558.42" y="170.21" width="11.10" height="11.10" stroke="#ff0000" stroke-width="1.9" fill="none"/><rect x="563.17" y="174.96" width="1.6" height="1.6" fill="#ff0000"/><rect x="561.47" y="167.92" width="11.10" height="11.10" stroke="#ff0000" stroke-width="1.9" fill="none"/><rect x="566.22" y="172.67" width="1.6" height="1.6" fill="#ff0000"/><rect x="564.51" y="170.69" width="11.10" height="11.10" stroke="#ff0000" stroke-width="1.9" fill="none"/><rect x="569.26" y="175.44" width="1.6" height="1.6" fill="#ff0000"/><rect x="567.56" y="170.93" width="11.10" height="11.10" stroke="#ff0000" stroke-width="1.9" fill="none"/><rect x="572.31" y="175.68" width="1.6" height="1.6" fill="#ff0000"/><rect x="570.60" y="164.32" width="11.10" height="11.10" stroke="#ff0000" stroke-width="1.9" fill="none"/><rect x="575.35" y="169.07" width="1.6" height="1.6" fill="#ff0000"/><rect x="573.65" y="165.18" width="11.10" height="11.10" stroke="#ff0000" stroke-width="1.9" fill="none"/><rect x="578.40" y="169.93" width="1.6" height="1.6" fill="#ff0000"/><rect x="576.69" y="168.74" width="11.10" height="11.10" stroke="#ff0000" stroke-width="1.9" fill="none"/><rect x="581.44" y="173.49" width="1.6" height="1.6" fill="#ff0000"/><rect x="579.74" y="166.76" width="11.10" height="11.10" stroke="#ff0000" stroke-width="1.9" fill="none"/><rect x="584.49" y="171.51" width="1.6" height="1.6" fill="#ff0000"/><rect x="582.78" y="166.88" width="11.10" height="11.10" stroke="#ff0000" stroke-width="1.9" fill="none"/><rect x="587.53" y="171.63" width="1.6" height="1.6" fill="#ff0000"/><rect x="585.83" y="166.23" width="11.10" height="11.10" stroke="#ff0000" stroke-width="1.9" fill="none"/><rect x="590.58" y="170.98" width="1.6" height="1.6" fill="#ff0000"/><rect x="588.87" y="167.37" width="11.10" height="11.10" stroke="#ff0000" stroke-width="1.9" fill="none"/><rect x="593.62" y="172.12" width="1.6" height="1.6" fill="#ff0000"/><rect x="591.91" y="172.01" width="11.10" height="11.10" stroke="#ff0000" stroke-width="1.9" fill="none"/><rect x="596.66" y="176.76" width="1.6" height="1.6" fill="#ff0000"/><rect x="594.96" y="175.28" width="11.10" height="11.10" stroke="#ff0000" stroke-width="1.9" fill="none"/><rect x="599.71" y="180.03" width="1.6" height="1.6" fill="#ff0000"/><rect x="598.00" y="175.93" width="11.10" height="11.10" stroke="#ff0000" stroke-width="1.9" fill="none"/><rect x="602.75" y="180.68" width="1.6" height="1.6" fill="#ff0000"/><rect x="601.05" y="171.62" width="11.10" height="11.10" stroke="#ff0000" stroke-width="1.9" fill="none"/><rect x="605.80" y="176.37" width="1.6" height="1.6" fill="#ff0000"/><rect x="604.09" y="167.41" width="11.10" height="11.10" stroke="#ff0000" stroke-width="1.9" fill="none"/><rect x="608.84" y="172.16" width="1.6" height="1.6" fill="#ff0000"/><rect x="607.14" y="168.18" width="11.10" height="11.10" stroke="#ff0000" stroke-width="1.9" fill="none"/><rect x="611.89" y="172.93" width="1.6" height="1.6" fill="#ff0000"/><rect x="610.18" y="170.01" width="11.10" height="11.10" stroke="#ff0000" stroke-width="1.9" fill="none"/><rect x="614.93" y="174.76" width="1.6" height="1.6" fill="#ff0000"/><rect x="613.23" y="169.16" width="11.10" height="11.10" stroke="#ff0000" stroke-width="1.9" fill="none"/><rect x="617.98" y="173.91" width="1.6" height="1.6" fill="#ff0000"/><rect x="616.27" y="166.92" width="11.10" height="11.10" stroke="#ff0000" stroke-width="1.9" fill="none"/><rect x="621.02" y="171.67" width="1.6" height="1.6" fill="#ff0000"/><rect x="619.32" y="163.30" width="11.10" height="11.10" stroke="#ff0000" stroke-width="1.9" fill="none"/><rect x="624.07" y="168.05" width="1.6" height="1.6" fill="#ff0000"/><rect x="622.36" y="164.22" width="11.10" height="11.10" stroke="#ff0000" stroke-width="1.9" fill="none"/><rect x="627.11" y="168.97" width="1.6" height="1.6" fill="#ff0000"/><rect x="625.41" y="162.91" width="11.10" height="11.10" stroke="#ff0000" stroke-width="1.9" fill="none"/><rect x="630.16" y="167.66" width="1.6" height="1.6" fill="#ff0000"/><rect x="628.45" y="162.87" width="11.10" height="11.10" stroke="#ff0000" stroke-width="1.9" fill="none"/><rect x="633.20" y="167.62" width="1.6" height="1.6" fill="#ff0000"/><rect x="631.50" y="159.55" width="11.10" height="11.10" stroke="#ff0000" stroke-width="1.9" fill="none"/><rect x="636.25" y="164.30" width="1.6" height="1.6" fill="#ff0000"/><rect x="634.54" y="162.93" width="11.10" height="11.10" stroke="#ff0000" stroke-width="1.9" fill="none"/><rect x="639.29" y="167.68" width="1.6" height="1.6" fill="#ff0000"/><rect x="637.59" y="161.66" width="11.10" height="11.10" stroke="#ff0000" stroke-width="1.9" fill="none"/><rect x="642.34" y="166.41" width="1.6" height="1.6" fill="#ff0000"/><rect x="640.63" y="156.13" width="11.10" height="11.10" stroke="#ff0000" stroke-width="1.9" fill="none"/><rect x="645.38" y="160.88" width="1.6" height="1.6" fill="#ff0000"/><rect x="643.68" y="156.11" width="11.10" height="11.10" stroke="#ff0000" stroke-width="1.9" fill="none"/><rect x="648.43" y="160.86" width="1.6" height="1.6" fill="#ff0000"/><rect x="646.72" y="158.98" width="11.10" height="11.10" stroke="#ff0000" stroke-width="1.9" fill="none"/><rect x="651.47" y="163.73" width="1.6" height="1.6" fill="#ff0000"/><rect x="649.77" y="154.33" width="11.10" height="11.10" stroke="#ff0000" stroke-width="1.9" fill="none"/><rect x="654.52" y="159.08" width="1.6" height="1.6" fill="#ff0000"/><rect x="652.81" y="157.75" width="11.10" height="11.10" stroke="#ff0000" stroke-width="1.9" fill="none"/><rect x="657.56" y="162.50" width="1.6" height="1.6" fill="#ff0000"/><rect x="655.86" y="154.12" width="11.10" height="11.10" stroke="#ff0000" stroke-width="1.9" fill="none"/><rect x="660.61" y="158.87" width="1.6" height="1.6" fill="#ff0000"/><rect x="658.90" y="154.37" width="11.10" height="11.10" stroke="#ff0000" stroke-width="1.9" fill="none"/><rect x="663.65" y="159.12" width="1.6" height="1.6" fill="#ff0000"/><rect x="661.95" y="153.51" width="11.10" height="11.10" stroke="#ff0000" stroke-width="1.9" fill="none"/><rect x="666.70" y="158.26" width="1.6" height="1.6" fill="#ff0000"/><rect x="664.99" y="149.46" width="11.10" height="11.10" stroke="#ff0000" stroke-width="1.9" fill="none"/><rect x="669.74" y="154.21" width="1.6" height="1.6" fill="#ff0000"/><rect x="668.04" y="148.87" width="11.10" height="11.10" stroke="#ff0000" stroke-width="1.9" fill="none"/><rect x="672.79" y="153.62" width="1.6" height="1.6" fill="#ff0000"/><rect x="671.08" y="147.51" width="11.10" height="11.10" stroke="#ff0000" stroke-width="1.9" fill="none"/><rect x="675.83" y="152.26" width="1.6" height="1.6" fill="#ff0000"/><rect x="674.13" y="149.10" width="11.10" height="11.10" stroke="#ff0000" stroke-width="1.9" fill="none"/><rect x="678.88" y="153.85" width="1.6" height="1.6" fill="#ff0000"/><rect x="677.17" y="148.00" width="11.10" height="11.10" stroke="#ff0000" stroke-width="1.9" fill="none"/><rect x="681.92" y="152.75" width="1.6" height="1.6" fill="#ff0000"/><rect x="680.22" y="143.24" width="11.10" height="11.10" stroke="#ff0000" stroke-width="1.9" fill="none"/><rect x="684.97" y="147.99" width="1.6" height="1.6" fill="#ff0000"/></g>
<text x="551.5" y="311.40" font-size="30" text-anchor="end"><tspan font-style="italic">L</tspan>=5 nm</text>
<path d="M611.00 307.97L616.60 298.90H605.40Z" stroke="#000000" stroke-width="2" fill="none" stroke-linejoin="miter"/><rect x="610.20" y="300.90" width="1.6" height="1.6" fill="#000000"/>
<text x="551.5" y="341.65" font-size="30" text-anchor="end"><tspan font-style="italic">L</tspan>=7.5 nm</text>
<path d="M611.00 325.68L616.60 334.75H605.40Z" stroke="#0000ff" stroke-width="2" fill="none" stroke-linejoin="miter"/><rect x="610.20" y="331.15" width="1.6" height="1.6" fill="#0000ff"/>
<text x="551.5" y="371.90" font-size="30" text-anchor="end"><tspan font-style="italic">L</tspan>=10 nm</text>
<circle cx="611.00" cy="362.20" r="5.60" stroke="#e69f00" stroke-width="2" fill="none"/><rect x="610.20" y="361.40" width="1.6" height="1.6" fill="#e69f00"/>
<text x="551.5" y="402.15" font-size="30" text-anchor="end"><tspan font-style="italic">L</tspan>=30 nm</text>
<rect x="605.40" y="386.85" width="11.20" height="11.20" stroke="#ff0000" stroke-width="2" fill="none"/><rect x="610.20" y="391.65" width="1.6" height="1.6" fill="#ff0000"/>
<rect x="917.90" y="15.00" width="509.40" height="407.60" fill="none" stroke="#000" stroke-width="2"/>
<line x1="981.57" y1="422.60" x2="981.57" y2="408.10" stroke="#000" stroke-width="1.4"/>
<line x1="981.57" y1="15.00" x2="981.57" y2="29.50" stroke="#000" stroke-width="1.4"/>
<line x1="1045.25" y1="422.60" x2="1045.25" y2="408.10" stroke="#000" stroke-width="1.4"/>
<line x1="1045.25" y1="15.00" x2="1045.25" y2="29.50" stroke="#000" stroke-width="1.4"/>
<line x1="1108.92" y1="422.60" x2="1108.92" y2="408.10" stroke="#000" stroke-width="1.4"/>
<line x1="1108.92" y1="15.00" x2="1108.92" y2="29.50" stroke="#000" stroke-width="1.4"/>
<line x1="1172.60" y1="422.60" x2="1172.60" y2="408.10" stroke="#000" stroke-width="1.4"/>
<line x1="1172.60" y1="15.00" x2="1172.60" y2="29.50" stroke="#000" stroke-width="1.4"/>
<line x1="1236.28" y1="422.60" x2="1236.28" y2="408.10" stroke="#000" stroke-width="1.4"/>
<line x1="1236.28" y1="15.00" x2="1236.28" y2="29.50" stroke="#000" stroke-width="1.4"/>
<line x1="1299.95" y1="422.60" x2="1299.95" y2="408.10" stroke="#000" stroke-width="1.4"/>
<line x1="1299.95" y1="15.00" x2="1299.95" y2="29.50" stroke="#000" stroke-width="1.4"/>
<line x1="1363.62" y1="422.60" x2="1363.62" y2="408.10" stroke="#000" stroke-width="1.4"/>
<line x1="1363.62" y1="15.00" x2="1363.62" y2="29.50" stroke="#000" stroke-width="1.4"/>
<line x1="917.90" y1="381.84" x2="932.40" y2="381.84" stroke="#000" stroke-width="1.4"/>
<line x1="1427.30" y1="381.84" x2="1412.80" y2="381.84" stroke="#000" stroke-width="1.4"/>
<line x1="917.90" y1="300.32" x2="932.40" y2="300.32" stroke="#000" stroke-width="1.4"/>
<line x1="1427.30" y1="300.32" x2="1412.80" y2="300.32" stroke="#000" stroke-width="1.4"/>
<line x1="917.90" y1="218.80" x2="932.40" y2="218.80" stroke="#000" stroke-width="1.4"/>
<line x1="1427.30" y1="218.80" x2="1412.80" y2="218.80" stroke="#000" stroke-width="1.4"/>
<line x1="917.90" y1="137.28" x2="932.40" y2="137.28" stroke="#000" stroke-width="1.4"/>
<line x1="1427.30" y1="137.28" x2="1412.80" y2="137.28" stroke="#000" stroke-width="1.4"/>
<line x1="917.90" y1="55.76" x2="932.40" y2="55.76" stroke="#000" stroke-width="1.4"/>
<line x1="1427.30" y1="55.76" x2="1412.80" y2="55.76" stroke="#000" stroke-width="1.4"/>
<text transform="translate(921.90,463.40) scale(1,1.05)" font-size="30" text-anchor="middle">0</text>
<text transform="translate(985.57,463.40) scale(1,1.05)" font-size="30" text-anchor="middle">5</text>
<text transform="translate(1049.25,463.40) scale(1,1.05)" font-size="30" text-anchor="middle">10</text>
<text transform="translate(1112.92,463.40) scale(1,1.05)" font-size="30" text-anchor="middle">15</text>
<text transform="translate(1176.60,463.40) scale(1,1.05)" font-size="30" text-anchor="middle">20</text>
<text transform="translate(1240.28,463.40) scale(1,1.05)" font-size="30" text-anchor="middle">25</text>
<text transform="translate(1303.95,463.40) scale(1,1.05)" font-size="30" text-anchor="middle">30</text>
<text transform="translate(1367.62,463.40) scale(1,1.05)" font-size="30" text-anchor="middle">35</text>
<text transform="translate(1431.30,463.40) scale(1,1.05)" font-size="30" text-anchor="middle">40</text>
<text transform="translate(899.20,392.54) scale(1,1.05)" font-size="30" text-anchor="end">0.6</text>
<text transform="translate(899.20,311.02) scale(1,1.05)" font-size="30" text-anchor="end">0.8</text>
<text transform="translate(899.20,229.50) scale(1,1.05)" font-size="30" text-anchor="end">1</text>
<text transform="translate(899.20,147.98) scale(1,1.05)" font-size="30" text-anchor="end">1.2</text>
<text transform="translate(899.20,66.46) scale(1,1.05)" font-size="30" text-anchor="end">1.4</text>
<text x="1174" y="508.7" font-size="30" text-anchor="middle"><tspan font-style="italic">L</tspan> (nm)</text>
<text x="749.00" y="38.30" font-size="50" text-anchor="start" font-weight="bold">b</text>
<path d="M960.14 422.60 L962.47 410.14 L964.81 398.92 L967.15 388.76 L969.48 379.53 L971.82 371.09 L974.15 363.36 L976.49 356.24 L978.83 349.67 L981.16 343.58 L983.50 337.93 L985.83 332.66 L988.17 327.75 L990.50 323.15 L992.84 318.84 L995.18 314.78 L997.51 310.97 L999.85 307.37 L1002.18 303.98 L1004.52 300.76 L1006.86 297.72 L1009.19 294.83 L1011.53 292.09 L1013.86 289.47 L1016.20 286.99 L1018.53 284.61 L1020.87 282.35 L1023.21 280.19 L1025.54 278.12 L1027.88 276.14 L1030.21 274.24 L1032.55 272.41 L1034.88 270.66 L1037.22 268.98 L1039.56 267.37 L1041.89 265.81 L1044.23 264.31 L1046.56 262.87 L1048.90 261.48 L1051.24 260.14 L1053.57 258.84 L1055.91 257.59 L1058.24 256.37 L1060.58 255.20 L1062.91 254.07 L1065.25 252.97 L1067.59 251.91 L1069.92 250.88 L1072.26 249.88 L1074.59 248.91 L1076.93 247.97 L1079.27 247.05 L1081.60 246.16 L1083.94 245.30 L1086.27 244.46 L1088.61 243.64 L1090.94 242.85 L1093.28 242.08 L1095.62 241.32 L1097.95 240.59 L1100.29 239.88 L1102.62 239.18 L1104.96 238.50 L1107.29 237.84 L1109.63 237.19 L1111.97 236.56 L1114.30 235.95 L1116.64 235.35 L1118.97 234.76 L1121.31 234.19 L1123.65 233.62 L1125.98 233.08 L1128.32 232.54 L1130.65 232.02 L1132.99 231.50 L1135.32 231.00 L1137.66 230.51 L1140.00 230.03 L1142.33 229.56 L1144.67 229.10 L1147.00 228.65 L1149.34 228.20 L1151.68 227.77 L1154.01 227.35 L1156.35 226.93 L1158.68 226.52 L1161.02 226.12 L1163.35 225.73 L1165.69 225.34 L1168.03 224.96 L1170.36 224.59 L1172.70 224.23 L1175.03 223.87 L1177.37 223.52 L1179.70 223.17 L1182.04 222.83 L1184.38 222.50 L1186.71 222.17 L1189.05 221.85 L1191.38 221.53 L1193.72 221.22 L1196.06 220.92 L1198.39 220.62 L1200.73 220.32 L1203.06 220.03 L1205.40 219.74 L1207.73 219.46 L1210.07 219.18 L1212.41 218.91 L1214.74 218.64 L1217.08 218.38 L1219.41 218.12 L1221.75 217.86 L1224.08 217.61 L1226.42 217.36 L1228.76 217.12 L1231.09 216.88 L1233.43 216.64 L1235.76 216.41 L1238.10 216.17 L1240.44 215.95 L1242.77 215.72 L1245.11 215.50 L1247.44 215.29 L1249.78 215.07 L1252.11 214.86 L1254.45 214.65 L1256.79 214.44 L1259.12 214.24 L1261.46 214.04 L1263.79 213.84 L1266.13 213.65 L1268.47 213.46 L1270.80 213.27 L1273.14 213.08 L1275.47 212.90 L1277.81 212.71 L1280.14 212.53 L1282.48 212.36 L1284.82 212.18 L1287.15 212.01 L1289.49 211.84 L1291.82 211.67 L1294.16 211.50 L1296.49 211.34 L1298.83 211.17 L1301.17 211.01 L1303.50 210.85 L1305.84 210.70 L1308.17 210.54 L1310.51 210.39 L1312.85 210.24 L1315.18 210.09 L1317.52 209.94 L1319.85 209.79 L1322.19 209.65 L1324.52 209.51 L1326.86 209.37 L1329.20 209.23 L1331.53 209.09 L1333.87 208.95 L1336.20 208.82 L1338.54 208.68 L1340.88 208.55 L1343.21 208.42 L1345.55 208.29 L1347.88 208.17 L1350.22 208.04 L1352.55 207.91 L1354.89 207.79 L1357.23 207.67 L1359.56 207.55 L1361.90 207.43 L1364.23 207.31 L1366.57 207.19 L1368.90 207.08 L1371.24 206.96 L1373.58 206.85 L1375.91 206.74 L1378.25 206.62 L1380.58 206.51 L1382.92 206.41 L1385.26 206.30 L1387.59 206.19 L1389.93 206.08 L1392.26 205.98 L1394.60 205.88 L1396.93 205.77 L1399.27 205.67 L1401.61 205.57 L1403.94 205.47 L1406.28 205.37 L1408.61 205.27 L1410.95 205.18 L1413.29 205.08 L1415.62 204.99 L1417.96 204.89 L1420.29 204.80 L1422.63 204.71 L1424.96 204.61 L1427.30 204.52" fill="none" stroke="#e69f00" stroke-width="2.2" stroke-dasharray="7.5 10.8"/>
<rect x="974.57" y="354.05" width="14.00" height="14.00" stroke="#000000" stroke-width="2.4" fill="none"/><rect x="980.77" y="360.25" width="1.6" height="1.6" fill="#000000"/><rect x="1006.41" y="284.35" width="14.00" height="14.00" stroke="#000000" stroke-width="2.4" fill="none"/><rect x="1012.61" y="290.55" width="1.6" height="1.6" fill="#000000"/><rect x="1038.25" y="237.07" width="14.00" height="14.00" stroke="#000000" stroke-width="2.4" fill="none"/><rect x="1044.45" y="243.27" width="1.6" height="1.6" fill="#000000"/><rect x="1292.95" y="211.80" width="14.00" height="14.00" stroke="#000000" stroke-width="2.4" fill="none"/><rect x="1299.15" y="218.00" width="1.6" height="1.6" fill="#000000"/>
<circle cx="981.57" cy="345.56" r="7.60" stroke="#2b55ff" stroke-width="2.0" fill="none"/><rect x="980.77" y="344.76" width="1.6" height="1.6" fill="#2b55ff"/><circle cx="1013.41" cy="279.12" r="7.60" stroke="#2b55ff" stroke-width="2.0" fill="none"/><rect x="1012.61" y="278.32" width="1.6" height="1.6" fill="#2b55ff"/><circle cx="1045.25" cy="250.19" r="7.60" stroke="#2b55ff" stroke-width="2.0" fill="none"/><rect x="1044.45" y="249.39" width="1.6" height="1.6" fill="#2b55ff"/><circle cx="1299.95" cy="218.80" r="7.60" stroke="#2b55ff" stroke-width="2.0" fill="none"/><rect x="1299.15" y="218.00" width="1.6" height="1.6" fill="#2b55ff"/>
<path d="M981.57 333.72L988.87 345.55H974.27Z" stroke="#aaaaaa" stroke-width="2.0" fill="none" stroke-linejoin="miter"/><rect x="980.77" y="341.10" width="1.6" height="1.6" fill="#aaaaaa"/><path d="M1013.41 284.40L1020.71 296.23H1006.11Z" stroke="#aaaaaa" stroke-width="2.0" fill="none" stroke-linejoin="miter"/><rect x="1012.61" y="291.78" width="1.6" height="1.6" fill="#aaaaaa"/><path d="M1045.25 256.28L1052.55 268.10H1037.95Z" stroke="#aaaaaa" stroke-width="2.0" fill="none" stroke-linejoin="miter"/><rect x="1044.45" y="263.65" width="1.6" height="1.6" fill="#aaaaaa"/><path d="M1299.95 210.62L1307.25 222.45H1292.65Z" stroke="#aaaaaa" stroke-width="2.0" fill="none" stroke-linejoin="miter"/><rect x="1299.15" y="218.00" width="1.6" height="1.6" fill="#aaaaaa"/>
<text x="1294.30" y="60.60" font-size="30" text-anchor="end" font-weight="normal">ExIn</text>
<text x="1294.30" y="89.60" font-size="30" text-anchor="end" font-weight="normal">GeCo</text>
<text x="1294.30" y="120.70" font-size="30" text-anchor="end" font-weight="normal">[137]−oriented NW</text>
<text x="1294.3" y="154.1" font-size="30" text-anchor="end">f(x)=AD<tspan font-size="22" dy="-15">−1</tspan><tspan dy="15" dx="1.5">+B</tspan></text>
<rect x="1346.60" y="43.40" width="14.00" height="14.00" stroke="#000000" stroke-width="2.4" fill="none"/><rect x="1352.80" y="49.60" width="1.6" height="1.6" fill="#000000"/>
<circle cx="1353.50" cy="80.80" r="7.60" stroke="#2b55ff" stroke-width="2.0" fill="none"/><rect x="1352.70" y="80.00" width="1.6" height="1.6" fill="#2b55ff"/>
<path d="M1353.60 102.82L1360.90 114.65H1346.30Z" stroke="#aaaaaa" stroke-width="2.0" fill="none" stroke-linejoin="miter"/><rect x="1352.80" y="110.20" width="1.6" height="1.6" fill="#aaaaaa"/>
<line x1="1313.4" y1="141.4" x2="1395" y2="141.4" stroke="#e69f00" stroke-width="2.2" stroke-dasharray="7.5 10.8"/>
<g transform="translate(818.6,286.6) rotate(-90)" font-size="31">
<text x="0" y="0" font-style="italic">σ</text>
<text x="21" y="-12" font-size="22">*</text>
<text x="18" y="8.8" font-size="22">y,zz</text>
<text x="63" y="2.5">/</text>
<text x="72" y="0" font-style="italic">σ</text>
<text x="92" y="-12" font-size="22">*</text>
<text x="100" y="-8.4" font-size="24">30nm</text>
<text x="92" y="8.8" font-size="22">y,zz</text>
</g>
<rect x="178.20" y="549.00" width="509.80" height="407.60" fill="none" stroke="#000" stroke-width="2"/>
<line x1="280.16" y1="956.60" x2="280.16" y2="942.10" stroke="#000" stroke-width="1.4"/>
<line x1="280.16" y1="549.00" x2="280.16" y2="563.50" stroke="#000" stroke-width="1.4"/>
<line x1="382.12" y1="956.60" x2="382.12" y2="942.10" stroke="#000" stroke-width="1.4"/>
<line x1="382.12" y1="549.00" x2="382.12" y2="563.50" stroke="#000" stroke-width="1.4"/>
<line x1="484.08" y1="956.60" x2="484.08" y2="942.10" stroke="#000" stroke-width="1.4"/>
<line x1="484.08" y1="549.00" x2="484.08" y2="563.50" stroke="#000" stroke-width="1.4"/>
<line x1="586.04" y1="956.60" x2="586.04" y2="942.10" stroke="#000" stroke-width="1.4"/>
<line x1="586.04" y1="549.00" x2="586.04" y2="563.50" stroke="#000" stroke-width="1.4"/>
<line x1="178.20" y1="902.25" x2="192.70" y2="902.25" stroke="#000" stroke-width="1.4"/>
<line x1="688.00" y1="902.25" x2="673.50" y2="902.25" stroke="#000" stroke-width="1.4"/>
<line x1="178.20" y1="847.91" x2="192.70" y2="847.91" stroke="#000" stroke-width="1.4"/>
<line x1="688.00" y1="847.91" x2="673.50" y2="847.91" stroke="#000" stroke-width="1.4"/>
<line x1="178.20" y1="793.56" x2="192.70" y2="793.56" stroke="#000" stroke-width="1.4"/>
<line x1="688.00" y1="793.56" x2="673.50" y2="793.56" stroke="#000" stroke-width="1.4"/>
<line x1="178.20" y1="739.21" x2="192.70" y2="739.21" stroke="#000" stroke-width="1.4"/>
<line x1="688.00" y1="739.21" x2="673.50" y2="739.21" stroke="#000" stroke-width="1.4"/>
<line x1="178.20" y1="684.87" x2="192.70" y2="684.87" stroke="#000" stroke-width="1.4"/>
<line x1="688.00" y1="684.87" x2="673.50" y2="684.87" stroke="#000" stroke-width="1.4"/>
<line x1="178.20" y1="630.52" x2="192.70" y2="630.52" stroke="#000" stroke-width="1.4"/>
<line x1="688.00" y1="630.52" x2="673.50" y2="630.52" stroke="#000" stroke-width="1.4"/>
<line x1="178.20" y1="576.17" x2="192.70" y2="576.17" stroke="#000" stroke-width="1.4"/>
<line x1="688.00" y1="576.17" x2="673.50" y2="576.17" stroke="#000" stroke-width="1.4"/>
<text transform="translate(182.20,997.40) scale(1,1.05)" font-size="30" text-anchor="middle">0</text>
<text transform="translate(284.16,997.40) scale(1,1.05)" font-size="30" text-anchor="middle">0.05</text>
<text transform="translate(386.12,997.40) scale(1,1.05)" font-size="30" text-anchor="middle">0.1</text>
<text transform="translate(488.08,997.40) scale(1,1.05)" font-size="30" text-anchor="middle">0.15</text>
<text transform="translate(590.04,997.40) scale(1,1.05)" font-size="30" text-anchor="middle">0.2</text>
<text transform="translate(692.00,997.40) scale(1,1.05)" font-size="30" text-anchor="middle">0.25</text>
<text transform="translate(159.50,967.30) scale(1,1.05)" font-size="30" text-anchor="end">0</text>
<text transform="translate(159.50,912.95) scale(1,1.05)" font-size="30" text-anchor="end">0.2</text>
<text transform="translate(159.50,858.61) scale(1,1.05)" font-size="30" text-anchor="end">0.4</text>
<text transform="translate(159.50,804.26) scale(1,1.05)" font-size="30" text-anchor="end">0.6</text>
<text transform="translate(159.50,749.91) scale(1,1.05)" font-size="30" text-anchor="end">0.8</text>
<text transform="translate(159.50,695.57) scale(1,1.05)" font-size="30" text-anchor="end">1</text>
<text transform="translate(159.50,641.22) scale(1,1.05)" font-size="30" text-anchor="end">1.2</text>
<text transform="translate(159.50,586.87) scale(1,1.05)" font-size="30" text-anchor="end">1.4</text>
<text x="432.50" y="1042.00" font-size="30" text-anchor="middle" font-weight="normal">Strain</text>
<text x="667.00" y="587.30" font-size="39" text-anchor="end" font-weight="normal">ExIn</text>
<text x="1.00" y="575.20" font-size="50" text-anchor="start" font-weight="bold">c</text>
<g transform="translate(66.7,892.4) rotate(-90)" font-size="30">
<text x="0" y="0" font-style="italic">ρ</text>
<text x="19.5" y="10.4" font-size="23.4">dislocation</text>
<text x="143.2" y="0" text-anchor="middle">·</text>
<text x="165" y="0" font-style="italic">L</text>
<text x="190" y="0">(nm</text>
<text x="242.5" y="-16" font-size="22">−1</text>
<text x="270.5" y="0">)</text>
</g><g><path d="M177.40 949.37L183.00 940.30H171.80Z" stroke="#000000" stroke-width="2" fill="none" stroke-linejoin="miter"/><rect x="176.60" y="942.30" width="1.6" height="1.6" fill="#000000"/><path d="M188.60 948.87L194.20 939.80H183.00Z" stroke="#000000" stroke-width="2" fill="none" stroke-linejoin="miter"/><rect x="187.80" y="941.80" width="1.6" height="1.6" fill="#000000"/><path d="M197.90 948.87L203.50 939.80H192.30Z" stroke="#000000" stroke-width="2" fill="none" stroke-linejoin="miter"/><rect x="197.10" y="941.80" width="1.6" height="1.6" fill="#000000"/><path d="M206.30 948.47L211.90 939.40H200.70Z" stroke="#000000" stroke-width="2" fill="none" stroke-linejoin="miter"/><rect x="205.50" y="941.40" width="1.6" height="1.6" fill="#000000"/><path d="M215.60 947.57L221.20 938.50H210.00Z" stroke="#000000" stroke-width="2" fill="none" stroke-linejoin="miter"/><rect x="214.80" y="940.50" width="1.6" height="1.6" fill="#000000"/><path d="M224.00 947.57L229.60 938.50H218.40Z" stroke="#000000" stroke-width="2" fill="none" stroke-linejoin="miter"/><rect x="223.20" y="940.50" width="1.6" height="1.6" fill="#000000"/><path d="M233.30 946.67L238.90 937.60H227.70Z" stroke="#000000" stroke-width="2" fill="none" stroke-linejoin="miter"/><rect x="232.50" y="939.60" width="1.6" height="1.6" fill="#000000"/><path d="M242.00 945.27L247.60 936.20H236.40Z" stroke="#000000" stroke-width="2" fill="none" stroke-linejoin="miter"/><rect x="241.20" y="938.20" width="1.6" height="1.6" fill="#000000"/><path d="M251.00 943.27L256.60 934.20H245.40Z" stroke="#000000" stroke-width="2" fill="none" stroke-linejoin="miter"/><rect x="250.20" y="936.20" width="1.6" height="1.6" fill="#000000"/><path d="M260.30 941.07L265.90 932.00H254.70Z" stroke="#000000" stroke-width="2" fill="none" stroke-linejoin="miter"/><rect x="259.50" y="934.00" width="1.6" height="1.6" fill="#000000"/><path d="M268.70 939.17L274.30 930.10H263.10Z" stroke="#000000" stroke-width="2" fill="none" stroke-linejoin="miter"/><rect x="267.90" y="932.10" width="1.6" height="1.6" fill="#000000"/><path d="M278.00 937.27L283.60 928.20H272.40Z" stroke="#000000" stroke-width="2" fill="none" stroke-linejoin="miter"/><rect x="277.20" y="930.20" width="1.6" height="1.6" fill="#000000"/><path d="M286.40 935.47L292.00 926.40H280.80Z" stroke="#000000" stroke-width="2" fill="none" stroke-linejoin="miter"/><rect x="285.60" y="928.40" width="1.6" height="1.6" fill="#000000"/><path d="M295.70 931.77L301.30 922.70H290.10Z" stroke="#000000" stroke-width="2" fill="none" stroke-linejoin="miter"/><rect x="294.90" y="924.70" width="1.6" height="1.6" fill="#000000"/><path d="M304.10 929.87L309.70 920.80H298.50Z" stroke="#000000" stroke-width="2" fill="none" stroke-linejoin="miter"/><rect x="303.30" y="922.80" width="1.6" height="1.6" fill="#000000"/><path d="M313.40 927.97L319.00 918.90H307.80Z" stroke="#000000" stroke-width="2" fill="none" stroke-linejoin="miter"/><rect x="312.60" y="920.90" width="1.6" height="1.6" fill="#000000"/><path d="M321.80 923.37L327.40 914.30H316.20Z" stroke="#000000" stroke-width="2" fill="none" stroke-linejoin="miter"/><rect x="321.00" y="916.30" width="1.6" height="1.6" fill="#000000"/><path d="M331.10 921.47L336.70 912.40H325.50Z" stroke="#000000" stroke-width="2" fill="none" stroke-linejoin="miter"/><rect x="330.30" y="914.40" width="1.6" height="1.6" fill="#000000"/><path d="M339.50 919.67L345.10 910.60H333.90Z" stroke="#000000" stroke-width="2" fill="none" stroke-linejoin="miter"/><rect x="338.70" y="912.60" width="1.6" height="1.6" fill="#000000"/><path d="M348.80 917.77L354.40 908.70H343.20Z" stroke="#000000" stroke-width="2" fill="none" stroke-linejoin="miter"/><rect x="348.00" y="910.70" width="1.6" height="1.6" fill="#000000"/><path d="M357.20 914.97L362.80 905.90H351.60Z" stroke="#000000" stroke-width="2" fill="none" stroke-linejoin="miter"/><rect x="356.40" y="907.90" width="1.6" height="1.6" fill="#000000"/><path d="M366.50 912.17L372.10 903.10H360.90Z" stroke="#000000" stroke-width="2" fill="none" stroke-linejoin="miter"/><rect x="365.70" y="905.10" width="1.6" height="1.6" fill="#000000"/><path d="M374.80 909.37L380.40 900.30H369.20Z" stroke="#000000" stroke-width="2" fill="none" stroke-linejoin="miter"/><rect x="374.00" y="902.30" width="1.6" height="1.6" fill="#000000"/><path d="M384.20 903.77L389.80 894.70H378.60Z" stroke="#000000" stroke-width="2" fill="none" stroke-linejoin="miter"/><rect x="383.40" y="896.70" width="1.6" height="1.6" fill="#000000"/><path d="M392.50 900.07L398.10 891.00H386.90Z" stroke="#000000" stroke-width="2" fill="none" stroke-linejoin="miter"/><rect x="391.70" y="893.00" width="1.6" height="1.6" fill="#000000"/><path d="M401.80 894.47L407.40 885.40H396.20Z" stroke="#000000" stroke-width="2" fill="none" stroke-linejoin="miter"/><rect x="401.00" y="887.40" width="1.6" height="1.6" fill="#000000"/><path d="M410.20 892.67L415.80 883.60H404.60Z" stroke="#000000" stroke-width="2" fill="none" stroke-linejoin="miter"/><rect x="409.40" y="885.60" width="1.6" height="1.6" fill="#000000"/><path d="M419.50 890.77L425.10 881.70H413.90Z" stroke="#000000" stroke-width="2" fill="none" stroke-linejoin="miter"/><rect x="418.70" y="883.70" width="1.6" height="1.6" fill="#000000"/><path d="M427.00 887.97L432.60 878.90H421.40Z" stroke="#000000" stroke-width="2" fill="none" stroke-linejoin="miter"/><rect x="426.20" y="880.90" width="1.6" height="1.6" fill="#000000"/><path d="M434.40 882.37L440.00 873.30H428.80Z" stroke="#000000" stroke-width="2" fill="none" stroke-linejoin="miter"/><rect x="433.60" y="875.30" width="1.6" height="1.6" fill="#000000"/><path d="M443.40 880.27L449.00 871.20H437.80Z" stroke="#000000" stroke-width="2" fill="none" stroke-linejoin="miter"/><rect x="442.60" y="873.20" width="1.6" height="1.6" fill="#000000"/><path d="M452.00 879.27L457.60 870.20H446.40Z" stroke="#000000" stroke-width="2" fill="none" stroke-linejoin="miter"/><rect x="451.20" y="872.20" width="1.6" height="1.6" fill="#000000"/><path d="M461.50 878.37L467.10 869.30H455.90Z" stroke="#000000" stroke-width="2" fill="none" stroke-linejoin="miter"/><rect x="460.70" y="871.30" width="1.6" height="1.6" fill="#000000"/><path d="M473.00 873.57L478.60 864.50H467.40Z" stroke="#000000" stroke-width="2" fill="none" stroke-linejoin="miter"/><rect x="472.20" y="866.50" width="1.6" height="1.6" fill="#000000"/><path d="M481.60 870.67L487.20 861.60H476.00Z" stroke="#000000" stroke-width="2" fill="none" stroke-linejoin="miter"/><rect x="480.80" y="863.60" width="1.6" height="1.6" fill="#000000"/><path d="M489.00 872.27L494.60 863.20H483.40Z" stroke="#000000" stroke-width="2" fill="none" stroke-linejoin="miter"/><rect x="488.20" y="865.20" width="1.6" height="1.6" fill="#000000"/><path d="M496.90 872.57L502.50 863.50H491.30Z" stroke="#000000" stroke-width="2" fill="none" stroke-linejoin="miter"/><rect x="496.10" y="865.50" width="1.6" height="1.6" fill="#000000"/><path d="M506.50 866.87L512.10 857.80H500.90Z" stroke="#000000" stroke-width="2" fill="none" stroke-linejoin="miter"/><rect x="505.70" y="859.80" width="1.6" height="1.6" fill="#000000"/><path d="M516.00 866.87L521.60 857.80H510.40Z" stroke="#000000" stroke-width="2" fill="none" stroke-linejoin="miter"/><rect x="515.20" y="859.80" width="1.6" height="1.6" fill="#000000"/><path d="M525.60 856.37L531.20 847.30H520.00Z" stroke="#000000" stroke-width="2" fill="none" stroke-linejoin="miter"/><rect x="524.80" y="849.30" width="1.6" height="1.6" fill="#000000"/><path d="M533.00 857.27L538.60 848.20H527.40Z" stroke="#000000" stroke-width="2" fill="none" stroke-linejoin="miter"/><rect x="532.20" y="850.20" width="1.6" height="1.6" fill="#000000"/><path d="M540.90 846.77L546.50 837.70H535.30Z" stroke="#000000" stroke-width="2" fill="none" stroke-linejoin="miter"/><rect x="540.10" y="839.70" width="1.6" height="1.6" fill="#000000"/><path d="M549.50 840.07L555.10 831.00H543.90Z" stroke="#000000" stroke-width="2" fill="none" stroke-linejoin="miter"/><rect x="548.70" y="833.00" width="1.6" height="1.6" fill="#000000"/><path d="M557.20 840.07L562.80 831.00H551.60Z" stroke="#000000" stroke-width="2" fill="none" stroke-linejoin="miter"/><rect x="556.40" y="833.00" width="1.6" height="1.6" fill="#000000"/><path d="M564.80 836.27L570.40 827.20H559.20Z" stroke="#000000" stroke-width="2" fill="none" stroke-linejoin="miter"/><rect x="564.00" y="829.20" width="1.6" height="1.6" fill="#000000"/><path d="M574.40 822.87L580.00 813.80H568.80Z" stroke="#000000" stroke-width="2" fill="none" stroke-linejoin="miter"/><rect x="573.60" y="815.80" width="1.6" height="1.6" fill="#000000"/><path d="M581.00 823.27L586.60 814.20H575.40Z" stroke="#000000" stroke-width="2" fill="none" stroke-linejoin="miter"/><rect x="580.20" y="816.20" width="1.6" height="1.6" fill="#000000"/><path d="M588.70 813.37L594.30 804.30H583.10Z" stroke="#000000" stroke-width="2" fill="none" stroke-linejoin="miter"/><rect x="587.90" y="806.30" width="1.6" height="1.6" fill="#000000"/><path d="M596.40 811.47L602.00 802.40H590.80Z" stroke="#000000" stroke-width="2" fill="none" stroke-linejoin="miter"/><rect x="595.60" y="804.40" width="1.6" height="1.6" fill="#000000"/><path d="M604.00 805.67L609.60 796.60H598.40Z" stroke="#000000" stroke-width="2" fill="none" stroke-linejoin="miter"/><rect x="603.20" y="798.60" width="1.6" height="1.6" fill="#000000"/><path d="M611.60 798.97L617.20 789.90H606.00Z" stroke="#000000" stroke-width="2" fill="none" stroke-linejoin="miter"/><rect x="610.80" y="791.90" width="1.6" height="1.6" fill="#000000"/><path d="M619.30 796.17L624.90 787.10H613.70Z" stroke="#000000" stroke-width="2" fill="none" stroke-linejoin="miter"/><rect x="618.50" y="789.10" width="1.6" height="1.6" fill="#000000"/><path d="M626.00 786.57L631.60 777.50H620.40Z" stroke="#000000" stroke-width="2" fill="none" stroke-linejoin="miter"/><rect x="625.20" y="779.50" width="1.6" height="1.6" fill="#000000"/><path d="M633.60 784.67L639.20 775.60H628.00Z" stroke="#000000" stroke-width="2" fill="none" stroke-linejoin="miter"/><rect x="632.80" y="777.60" width="1.6" height="1.6" fill="#000000"/><path d="M640.30 783.67L645.90 774.60H634.70Z" stroke="#000000" stroke-width="2" fill="none" stroke-linejoin="miter"/><rect x="639.50" y="776.60" width="1.6" height="1.6" fill="#000000"/><path d="M646.00 779.27L651.60 770.20H640.40Z" stroke="#000000" stroke-width="2" fill="none" stroke-linejoin="miter"/><rect x="645.20" y="772.20" width="1.6" height="1.6" fill="#000000"/><path d="M651.80 775.07L657.40 766.00H646.20Z" stroke="#000000" stroke-width="2" fill="none" stroke-linejoin="miter"/><rect x="651.00" y="768.00" width="1.6" height="1.6" fill="#000000"/><path d="M657.50 770.37L663.10 761.30H651.90Z" stroke="#000000" stroke-width="2" fill="none" stroke-linejoin="miter"/><rect x="656.70" y="763.30" width="1.6" height="1.6" fill="#000000"/><path d="M665.20 767.47L670.80 758.40H659.60Z" stroke="#000000" stroke-width="2" fill="none" stroke-linejoin="miter"/><rect x="664.40" y="760.40" width="1.6" height="1.6" fill="#000000"/><path d="M672.80 760.77L678.40 751.70H667.20Z" stroke="#000000" stroke-width="2" fill="none" stroke-linejoin="miter"/><rect x="672.00" y="753.70" width="1.6" height="1.6" fill="#000000"/><path d="M679.50 755.07L685.10 746.00H673.90Z" stroke="#000000" stroke-width="2" fill="none" stroke-linejoin="miter"/><rect x="678.70" y="748.00" width="1.6" height="1.6" fill="#000000"/><path d="M687.20 749.27L692.80 740.20H681.60Z" stroke="#000000" stroke-width="2" fill="none" stroke-linejoin="miter"/><rect x="686.40" y="742.20" width="1.6" height="1.6" fill="#000000"/><path d="M177.40 947.13L183.00 956.20H171.80Z" stroke="#0000ff" stroke-width="2" fill="none" stroke-linejoin="miter"/><rect x="176.60" y="952.60" width="1.6" height="1.6" fill="#0000ff"/><path d="M188.60 946.23L194.20 955.30H183.00Z" stroke="#0000ff" stroke-width="2" fill="none" stroke-linejoin="miter"/><rect x="187.80" y="951.70" width="1.6" height="1.6" fill="#0000ff"/><path d="M197.00 945.73L202.60 954.80H191.40Z" stroke="#0000ff" stroke-width="2" fill="none" stroke-linejoin="miter"/><rect x="196.20" y="951.20" width="1.6" height="1.6" fill="#0000ff"/><path d="M206.00 945.23L211.60 954.30H200.40Z" stroke="#0000ff" stroke-width="2" fill="none" stroke-linejoin="miter"/><rect x="205.20" y="950.70" width="1.6" height="1.6" fill="#0000ff"/><path d="M215.00 944.73L220.60 953.80H209.40Z" stroke="#0000ff" stroke-width="2" fill="none" stroke-linejoin="miter"/><rect x="214.20" y="950.20" width="1.6" height="1.6" fill="#0000ff"/><path d="M224.00 943.73L229.60 952.80H218.40Z" stroke="#0000ff" stroke-width="2" fill="none" stroke-linejoin="miter"/><rect x="223.20" y="949.20" width="1.6" height="1.6" fill="#0000ff"/><path d="M233.00 942.73L238.60 951.80H227.40Z" stroke="#0000ff" stroke-width="2" fill="none" stroke-linejoin="miter"/><rect x="232.20" y="948.20" width="1.6" height="1.6" fill="#0000ff"/><path d="M242.00 941.73L247.60 950.80H236.40Z" stroke="#0000ff" stroke-width="2" fill="none" stroke-linejoin="miter"/><rect x="241.20" y="947.20" width="1.6" height="1.6" fill="#0000ff"/><path d="M251.00 940.23L256.60 949.30H245.40Z" stroke="#0000ff" stroke-width="2" fill="none" stroke-linejoin="miter"/><rect x="250.20" y="945.70" width="1.6" height="1.6" fill="#0000ff"/><path d="M260.00 938.73L265.60 947.80H254.40Z" stroke="#0000ff" stroke-width="2" fill="none" stroke-linejoin="miter"/><rect x="259.20" y="944.20" width="1.6" height="1.6" fill="#0000ff"/><path d="M270.00 937.23L275.60 946.30H264.40Z" stroke="#0000ff" stroke-width="2" fill="none" stroke-linejoin="miter"/><rect x="269.20" y="942.70" width="1.6" height="1.6" fill="#0000ff"/><path d="M279.90 935.93L285.50 945.00H274.30Z" stroke="#0000ff" stroke-width="2" fill="none" stroke-linejoin="miter"/><rect x="279.10" y="941.40" width="1.6" height="1.6" fill="#0000ff"/><path d="M291.00 934.13L296.60 943.20H285.40Z" stroke="#0000ff" stroke-width="2" fill="none" stroke-linejoin="miter"/><rect x="290.20" y="939.60" width="1.6" height="1.6" fill="#0000ff"/><path d="M300.40 932.23L306.00 941.30H294.80Z" stroke="#0000ff" stroke-width="2" fill="none" stroke-linejoin="miter"/><rect x="299.60" y="937.70" width="1.6" height="1.6" fill="#0000ff"/><path d="M311.50 926.63L317.10 935.70H305.90Z" stroke="#0000ff" stroke-width="2" fill="none" stroke-linejoin="miter"/><rect x="310.70" y="932.10" width="1.6" height="1.6" fill="#0000ff"/><path d="M319.90 924.73L325.50 933.80H314.30Z" stroke="#0000ff" stroke-width="2" fill="none" stroke-linejoin="miter"/><rect x="319.10" y="930.20" width="1.6" height="1.6" fill="#0000ff"/><path d="M329.20 922.93L334.80 932.00H323.60Z" stroke="#0000ff" stroke-width="2" fill="none" stroke-linejoin="miter"/><rect x="328.40" y="928.40" width="1.6" height="1.6" fill="#0000ff"/><path d="M337.60 921.03L343.20 930.10H332.00Z" stroke="#0000ff" stroke-width="2" fill="none" stroke-linejoin="miter"/><rect x="336.80" y="926.50" width="1.6" height="1.6" fill="#0000ff"/><path d="M346.00 917.33L351.60 926.40H340.40Z" stroke="#0000ff" stroke-width="2" fill="none" stroke-linejoin="miter"/><rect x="345.20" y="922.80" width="1.6" height="1.6" fill="#0000ff"/><path d="M355.30 915.43L360.90 924.50H349.70Z" stroke="#0000ff" stroke-width="2" fill="none" stroke-linejoin="miter"/><rect x="354.50" y="920.90" width="1.6" height="1.6" fill="#0000ff"/><path d="M363.70 911.73L369.30 920.80H358.10Z" stroke="#0000ff" stroke-width="2" fill="none" stroke-linejoin="miter"/><rect x="362.90" y="917.20" width="1.6" height="1.6" fill="#0000ff"/><path d="M372.00 909.83L377.60 918.90H366.40Z" stroke="#0000ff" stroke-width="2" fill="none" stroke-linejoin="miter"/><rect x="371.20" y="915.30" width="1.6" height="1.6" fill="#0000ff"/><path d="M381.40 909.83L387.00 918.90H375.80Z" stroke="#0000ff" stroke-width="2" fill="none" stroke-linejoin="miter"/><rect x="380.60" y="915.30" width="1.6" height="1.6" fill="#0000ff"/><path d="M389.70 906.13L395.30 915.20H384.10Z" stroke="#0000ff" stroke-width="2" fill="none" stroke-linejoin="miter"/><rect x="388.90" y="911.60" width="1.6" height="1.6" fill="#0000ff"/><path d="M399.00 905.23L404.60 914.30H393.40Z" stroke="#0000ff" stroke-width="2" fill="none" stroke-linejoin="miter"/><rect x="398.20" y="910.70" width="1.6" height="1.6" fill="#0000ff"/><path d="M407.40 903.33L413.00 912.40H401.80Z" stroke="#0000ff" stroke-width="2" fill="none" stroke-linejoin="miter"/><rect x="406.60" y="908.80" width="1.6" height="1.6" fill="#0000ff"/><path d="M415.80 899.63L421.40 908.70H410.20Z" stroke="#0000ff" stroke-width="2" fill="none" stroke-linejoin="miter"/><rect x="415.00" y="905.10" width="1.6" height="1.6" fill="#0000ff"/><path d="M425.10 897.73L430.70 906.80H419.50Z" stroke="#0000ff" stroke-width="2" fill="none" stroke-linejoin="miter"/><rect x="424.30" y="903.20" width="1.6" height="1.6" fill="#0000ff"/><path d="M432.60 894.03L438.20 903.10H427.00Z" stroke="#0000ff" stroke-width="2" fill="none" stroke-linejoin="miter"/><rect x="431.80" y="899.50" width="1.6" height="1.6" fill="#0000ff"/><path d="M442.00 890.73L447.60 899.80H436.40Z" stroke="#0000ff" stroke-width="2" fill="none" stroke-linejoin="miter"/><rect x="441.20" y="896.20" width="1.6" height="1.6" fill="#0000ff"/><path d="M451.00 886.83L456.60 895.90H445.40Z" stroke="#0000ff" stroke-width="2" fill="none" stroke-linejoin="miter"/><rect x="450.20" y="892.30" width="1.6" height="1.6" fill="#0000ff"/><path d="M459.60 884.93L465.20 894.00H454.00Z" stroke="#0000ff" stroke-width="2" fill="none" stroke-linejoin="miter"/><rect x="458.80" y="890.40" width="1.6" height="1.6" fill="#0000ff"/><path d="M468.20 884.03L473.80 893.10H462.60Z" stroke="#0000ff" stroke-width="2" fill="none" stroke-linejoin="miter"/><rect x="467.40" y="889.50" width="1.6" height="1.6" fill="#0000ff"/><path d="M477.80 880.13L483.40 889.20H472.20Z" stroke="#0000ff" stroke-width="2" fill="none" stroke-linejoin="miter"/><rect x="477.00" y="885.60" width="1.6" height="1.6" fill="#0000ff"/><path d="M486.40 876.33L492.00 885.40H480.80Z" stroke="#0000ff" stroke-width="2" fill="none" stroke-linejoin="miter"/><rect x="485.60" y="881.80" width="1.6" height="1.6" fill="#0000ff"/><path d="M495.00 873.43L500.60 882.50H489.40Z" stroke="#0000ff" stroke-width="2" fill="none" stroke-linejoin="miter"/><rect x="494.20" y="878.90" width="1.6" height="1.6" fill="#0000ff"/><path d="M503.60 865.83L509.20 874.90H498.00Z" stroke="#0000ff" stroke-width="2" fill="none" stroke-linejoin="miter"/><rect x="502.80" y="871.30" width="1.6" height="1.6" fill="#0000ff"/><path d="M512.20 863.93L517.80 873.00H506.60Z" stroke="#0000ff" stroke-width="2" fill="none" stroke-linejoin="miter"/><rect x="511.40" y="869.40" width="1.6" height="1.6" fill="#0000ff"/><path d="M520.80 862.03L526.40 871.10H515.20Z" stroke="#0000ff" stroke-width="2" fill="none" stroke-linejoin="miter"/><rect x="520.00" y="867.50" width="1.6" height="1.6" fill="#0000ff"/><path d="M529.40 858.13L535.00 867.20H523.80Z" stroke="#0000ff" stroke-width="2" fill="none" stroke-linejoin="miter"/><rect x="528.60" y="863.60" width="1.6" height="1.6" fill="#0000ff"/><path d="M538.00 854.33L543.60 863.40H532.40Z" stroke="#0000ff" stroke-width="2" fill="none" stroke-linejoin="miter"/><rect x="537.20" y="859.80" width="1.6" height="1.6" fill="#0000ff"/><path d="M546.60 847.63L552.20 856.70H541.00Z" stroke="#0000ff" stroke-width="2" fill="none" stroke-linejoin="miter"/><rect x="545.80" y="853.10" width="1.6" height="1.6" fill="#0000ff"/><path d="M555.20 844.83L560.80 853.90H549.60Z" stroke="#0000ff" stroke-width="2" fill="none" stroke-linejoin="miter"/><rect x="554.40" y="850.30" width="1.6" height="1.6" fill="#0000ff"/><path d="M563.80 836.13L569.40 845.20H558.20Z" stroke="#0000ff" stroke-width="2" fill="none" stroke-linejoin="miter"/><rect x="563.00" y="841.60" width="1.6" height="1.6" fill="#0000ff"/><path d="M571.50 835.23L577.10 844.30H565.90Z" stroke="#0000ff" stroke-width="2" fill="none" stroke-linejoin="miter"/><rect x="570.70" y="840.70" width="1.6" height="1.6" fill="#0000ff"/><path d="M579.10 833.33L584.70 842.40H573.50Z" stroke="#0000ff" stroke-width="2" fill="none" stroke-linejoin="miter"/><rect x="578.30" y="838.80" width="1.6" height="1.6" fill="#0000ff"/><path d="M586.80 830.43L592.40 839.50H581.20Z" stroke="#0000ff" stroke-width="2" fill="none" stroke-linejoin="miter"/><rect x="586.00" y="835.90" width="1.6" height="1.6" fill="#0000ff"/><path d="M594.40 821.83L600.00 830.90H588.80Z" stroke="#0000ff" stroke-width="2" fill="none" stroke-linejoin="miter"/><rect x="593.60" y="827.30" width="1.6" height="1.6" fill="#0000ff"/><path d="M602.10 818.03L607.70 827.10H596.50Z" stroke="#0000ff" stroke-width="2" fill="none" stroke-linejoin="miter"/><rect x="601.30" y="823.50" width="1.6" height="1.6" fill="#0000ff"/><path d="M609.70 810.33L615.30 819.40H604.10Z" stroke="#0000ff" stroke-width="2" fill="none" stroke-linejoin="miter"/><rect x="608.90" y="815.80" width="1.6" height="1.6" fill="#0000ff"/><path d="M616.40 806.53L622.00 815.60H610.80Z" stroke="#0000ff" stroke-width="2" fill="none" stroke-linejoin="miter"/><rect x="615.60" y="812.00" width="1.6" height="1.6" fill="#0000ff"/><path d="M624.10 806.53L629.70 815.60H618.50Z" stroke="#0000ff" stroke-width="2" fill="none" stroke-linejoin="miter"/><rect x="623.30" y="812.00" width="1.6" height="1.6" fill="#0000ff"/><path d="M630.80 800.83L636.40 809.90H625.20Z" stroke="#0000ff" stroke-width="2" fill="none" stroke-linejoin="miter"/><rect x="630.00" y="806.30" width="1.6" height="1.6" fill="#0000ff"/><path d="M639.40 793.13L645.00 802.20H633.80Z" stroke="#0000ff" stroke-width="2" fill="none" stroke-linejoin="miter"/><rect x="638.60" y="798.60" width="1.6" height="1.6" fill="#0000ff"/><path d="M647.00 783.63L652.60 792.70H641.40Z" stroke="#0000ff" stroke-width="2" fill="none" stroke-linejoin="miter"/><rect x="646.20" y="789.10" width="1.6" height="1.6" fill="#0000ff"/><path d="M653.70 780.73L659.30 789.80H648.10Z" stroke="#0000ff" stroke-width="2" fill="none" stroke-linejoin="miter"/><rect x="652.90" y="786.20" width="1.6" height="1.6" fill="#0000ff"/><path d="M661.40 775.93L667.00 785.00H655.80Z" stroke="#0000ff" stroke-width="2" fill="none" stroke-linejoin="miter"/><rect x="660.60" y="781.40" width="1.6" height="1.6" fill="#0000ff"/><path d="M669.00 770.23L674.60 779.30H663.40Z" stroke="#0000ff" stroke-width="2" fill="none" stroke-linejoin="miter"/><rect x="668.20" y="775.70" width="1.6" height="1.6" fill="#0000ff"/><path d="M676.70 769.23L682.30 778.30H671.10Z" stroke="#0000ff" stroke-width="2" fill="none" stroke-linejoin="miter"/><rect x="675.90" y="774.70" width="1.6" height="1.6" fill="#0000ff"/><path d="M683.40 759.73L689.00 768.80H677.80Z" stroke="#0000ff" stroke-width="2" fill="none" stroke-linejoin="miter"/><rect x="682.60" y="765.20" width="1.6" height="1.6" fill="#0000ff"/><circle cx="198.90" cy="954.30" r="5.60" stroke="#e69f00" stroke-width="2" fill="none"/><rect x="198.10" y="953.50" width="1.6" height="1.6" fill="#e69f00"/><circle cx="218.40" cy="954.30" r="5.60" stroke="#e69f00" stroke-width="2" fill="none"/><rect x="217.60" y="953.50" width="1.6" height="1.6" fill="#e69f00"/><circle cx="238.90" cy="951.90" r="5.60" stroke="#e69f00" stroke-width="2" fill="none"/><rect x="238.10" y="951.10" width="1.6" height="1.6" fill="#e69f00"/><circle cx="259.40" cy="946.90" r="5.60" stroke="#e69f00" stroke-width="2" fill="none"/><rect x="258.60" y="946.10" width="1.6" height="1.6" fill="#e69f00"/><circle cx="279.90" cy="941.30" r="5.60" stroke="#e69f00" stroke-width="2" fill="none"/><rect x="279.10" y="940.50" width="1.6" height="1.6" fill="#e69f00"/><circle cx="300.40" cy="936.60" r="5.60" stroke="#e69f00" stroke-width="2" fill="none"/><rect x="299.60" y="935.80" width="1.6" height="1.6" fill="#e69f00"/><circle cx="319.90" cy="931.00" r="5.60" stroke="#e69f00" stroke-width="2" fill="none"/><rect x="319.10" y="930.20" width="1.6" height="1.6" fill="#e69f00"/><circle cx="343.20" cy="924.50" r="5.60" stroke="#e69f00" stroke-width="2" fill="none"/><rect x="342.40" y="923.70" width="1.6" height="1.6" fill="#e69f00"/><circle cx="363.70" cy="917.10" r="5.60" stroke="#e69f00" stroke-width="2" fill="none"/><rect x="362.90" y="916.30" width="1.6" height="1.6" fill="#e69f00"/><circle cx="384.20" cy="906.80" r="5.60" stroke="#e69f00" stroke-width="2" fill="none"/><rect x="383.40" y="906.00" width="1.6" height="1.6" fill="#e69f00"/><circle cx="403.70" cy="901.20" r="5.60" stroke="#e69f00" stroke-width="2" fill="none"/><rect x="402.90" y="900.40" width="1.6" height="1.6" fill="#e69f00"/><circle cx="424.20" cy="892.90" r="5.60" stroke="#e69f00" stroke-width="2" fill="none"/><rect x="423.40" y="892.10" width="1.6" height="1.6" fill="#e69f00"/><circle cx="444.30" cy="885.50" r="5.60" stroke="#e69f00" stroke-width="2" fill="none"/><rect x="443.50" y="884.70" width="1.6" height="1.6" fill="#e69f00"/><circle cx="465.40" cy="875.90" r="5.60" stroke="#e69f00" stroke-width="2" fill="none"/><rect x="464.60" y="875.10" width="1.6" height="1.6" fill="#e69f00"/><circle cx="485.40" cy="868.30" r="5.60" stroke="#e69f00" stroke-width="2" fill="none"/><rect x="484.60" y="867.50" width="1.6" height="1.6" fill="#e69f00"/><circle cx="506.10" cy="858.70" r="5.60" stroke="#e69f00" stroke-width="2" fill="none"/><rect x="505.30" y="857.90" width="1.6" height="1.6" fill="#e69f00"/><circle cx="526.60" cy="850.10" r="5.60" stroke="#e69f00" stroke-width="2" fill="none"/><rect x="525.80" y="849.30" width="1.6" height="1.6" fill="#e69f00"/><circle cx="546.60" cy="841.50" r="5.60" stroke="#e69f00" stroke-width="2" fill="none"/><rect x="545.80" y="840.70" width="1.6" height="1.6" fill="#e69f00"/><circle cx="567.10" cy="831.00" r="5.60" stroke="#e69f00" stroke-width="2" fill="none"/><rect x="566.30" y="830.20" width="1.6" height="1.6" fill="#e69f00"/><circle cx="587.40" cy="819.50" r="5.60" stroke="#e69f00" stroke-width="2" fill="none"/><rect x="586.60" y="818.70" width="1.6" height="1.6" fill="#e69f00"/><circle cx="604.00" cy="810.90" r="5.60" stroke="#e69f00" stroke-width="2" fill="none"/><rect x="603.20" y="810.10" width="1.6" height="1.6" fill="#e69f00"/><circle cx="619.30" cy="800.40" r="5.60" stroke="#e69f00" stroke-width="2" fill="none"/><rect x="618.50" y="799.60" width="1.6" height="1.6" fill="#e69f00"/><circle cx="634.20" cy="790.80" r="5.60" stroke="#e69f00" stroke-width="2" fill="none"/><rect x="633.40" y="790.00" width="1.6" height="1.6" fill="#e69f00"/><circle cx="649.50" cy="779.30" r="5.60" stroke="#e69f00" stroke-width="2" fill="none"/><rect x="648.70" y="778.50" width="1.6" height="1.6" fill="#e69f00"/><circle cx="664.20" cy="769.80" r="5.60" stroke="#e69f00" stroke-width="2" fill="none"/><rect x="663.40" y="769.00" width="1.6" height="1.6" fill="#e69f00"/><circle cx="679.50" cy="761.20" r="5.60" stroke="#e69f00" stroke-width="2" fill="none"/><rect x="678.70" y="760.40" width="1.6" height="1.6" fill="#e69f00"/><rect x="171.85" y="950.65" width="11.10" height="11.10" stroke="#ff0000" stroke-width="1.9" fill="none"/><rect x="176.60" y="955.40" width="1.6" height="1.6" fill="#ff0000"/><rect x="194.65" y="950.05" width="11.10" height="11.10" stroke="#ff0000" stroke-width="1.9" fill="none"/><rect x="199.40" y="954.80" width="1.6" height="1.6" fill="#ff0000"/><rect x="217.55" y="946.35" width="11.10" height="11.10" stroke="#ff0000" stroke-width="1.9" fill="none"/><rect x="222.30" y="951.10" width="1.6" height="1.6" fill="#ff0000"/><rect x="238.95" y="933.85" width="11.10" height="11.10" stroke="#ff0000" stroke-width="1.9" fill="none"/><rect x="243.70" y="938.60" width="1.6" height="1.6" fill="#ff0000"/><rect x="260.35" y="919.35" width="11.10" height="11.10" stroke="#ff0000" stroke-width="1.9" fill="none"/><rect x="265.10" y="924.10" width="1.6" height="1.6" fill="#ff0000"/><rect x="281.35" y="909.25" width="11.10" height="11.10" stroke="#ff0000" stroke-width="1.9" fill="none"/><rect x="286.10" y="914.00" width="1.6" height="1.6" fill="#ff0000"/><rect x="302.85" y="897.15" width="11.10" height="11.10" stroke="#ff0000" stroke-width="1.9" fill="none"/><rect x="307.60" y="901.90" width="1.6" height="1.6" fill="#ff0000"/><rect x="324.25" y="885.85" width="11.10" height="11.10" stroke="#ff0000" stroke-width="1.9" fill="none"/><rect x="329.00" y="890.60" width="1.6" height="1.6" fill="#ff0000"/><rect x="346.55" y="870.55" width="11.10" height="11.10" stroke="#ff0000" stroke-width="1.9" fill="none"/><rect x="351.30" y="875.30" width="1.6" height="1.6" fill="#ff0000"/><rect x="367.95" y="855.25" width="11.10" height="11.10" stroke="#ff0000" stroke-width="1.9" fill="none"/><rect x="372.70" y="860.00" width="1.6" height="1.6" fill="#ff0000"/><rect x="388.45" y="841.65" width="11.10" height="11.10" stroke="#ff0000" stroke-width="1.9" fill="none"/><rect x="393.20" y="846.40" width="1.6" height="1.6" fill="#ff0000"/><rect x="408.95" y="828.25" width="11.10" height="11.10" stroke="#ff0000" stroke-width="1.9" fill="none"/><rect x="413.70" y="833.00" width="1.6" height="1.6" fill="#ff0000"/><rect x="428.55" y="815.65" width="11.10" height="11.10" stroke="#ff0000" stroke-width="1.9" fill="none"/><rect x="433.30" y="820.40" width="1.6" height="1.6" fill="#ff0000"/><rect x="447.35" y="803.05" width="11.10" height="11.10" stroke="#ff0000" stroke-width="1.9" fill="none"/><rect x="452.10" y="807.80" width="1.6" height="1.6" fill="#ff0000"/><rect x="466.55" y="789.65" width="11.10" height="11.10" stroke="#ff0000" stroke-width="1.9" fill="none"/><rect x="471.30" y="794.40" width="1.6" height="1.6" fill="#ff0000"/><rect x="486.05" y="777.65" width="11.10" height="11.10" stroke="#ff0000" stroke-width="1.9" fill="none"/><rect x="490.80" y="782.40" width="1.6" height="1.6" fill="#ff0000"/><rect x="504.75" y="765.15" width="11.10" height="11.10" stroke="#ff0000" stroke-width="1.9" fill="none"/><rect x="509.50" y="769.90" width="1.6" height="1.6" fill="#ff0000"/><rect x="529.05" y="753.15" width="11.10" height="11.10" stroke="#ff0000" stroke-width="1.9" fill="none"/><rect x="533.80" y="757.90" width="1.6" height="1.6" fill="#ff0000"/><rect x="547.25" y="742.25" width="11.10" height="11.10" stroke="#ff0000" stroke-width="1.9" fill="none"/><rect x="552.00" y="747.00" width="1.6" height="1.6" fill="#ff0000"/><rect x="569.15" y="731.15" width="11.10" height="11.10" stroke="#ff0000" stroke-width="1.9" fill="none"/><rect x="573.90" y="735.90" width="1.6" height="1.6" fill="#ff0000"/><rect x="586.95" y="717.35" width="11.10" height="11.10" stroke="#ff0000" stroke-width="1.9" fill="none"/><rect x="591.70" y="722.10" width="1.6" height="1.6" fill="#ff0000"/><rect x="605.15" y="703.65" width="11.10" height="11.10" stroke="#ff0000" stroke-width="1.9" fill="none"/><rect x="609.90" y="708.40" width="1.6" height="1.6" fill="#ff0000"/><rect x="622.45" y="690.05" width="11.10" height="11.10" stroke="#ff0000" stroke-width="1.9" fill="none"/><rect x="627.20" y="694.80" width="1.6" height="1.6" fill="#ff0000"/><rect x="639.95" y="676.45" width="11.10" height="11.10" stroke="#ff0000" stroke-width="1.9" fill="none"/><rect x="644.70" y="681.20" width="1.6" height="1.6" fill="#ff0000"/><rect x="656.65" y="663.55" width="11.10" height="11.10" stroke="#ff0000" stroke-width="1.9" fill="none"/><rect x="661.40" y="668.30" width="1.6" height="1.6" fill="#ff0000"/><rect x="673.65" y="645.85" width="11.10" height="11.10" stroke="#ff0000" stroke-width="1.9" fill="none"/><rect x="678.40" y="650.60" width="1.6" height="1.6" fill="#ff0000"/></g>
<text x="341" y="589.10" font-size="30" text-anchor="end"><tspan font-style="italic">L</tspan>=5 nm</text>
<path d="M400.00 585.26L405.50 576.35H394.50Z" stroke="#000000" stroke-width="2" fill="none" stroke-linejoin="miter"/><rect x="399.20" y="578.30" width="1.6" height="1.6" fill="#000000"/>
<text x="341" y="619.47" font-size="30" text-anchor="end"><tspan font-style="italic">L</tspan>=7.5 nm</text>
<path d="M400.00 603.31L405.50 612.22H394.50Z" stroke="#0000ff" stroke-width="2" fill="none" stroke-linejoin="miter"/><rect x="399.20" y="608.67" width="1.6" height="1.6" fill="#0000ff"/>
<text x="341" y="649.84" font-size="30" text-anchor="end"><tspan font-style="italic">L</tspan>=10 nm</text>
<circle cx="400.00" cy="639.84" r="5.50" stroke="#e69f00" stroke-width="2" fill="none"/><rect x="399.20" y="639.04" width="1.6" height="1.6" fill="#e69f00"/>
<text x="341" y="680.21" font-size="30" text-anchor="end"><tspan font-style="italic">L</tspan>=30 nm</text>
<rect x="394.50" y="664.71" width="11.00" height="11.00" stroke="#ff0000" stroke-width="2" fill="none"/><rect x="399.20" y="669.41" width="1.6" height="1.6" fill="#ff0000"/>
<text x="750.00" y="575.20" font-size="50" text-anchor="start" font-weight="bold">d</text>
<path d="M974.9 699.1 C947.2 754.6 941.3 818.5 974.9 871.5" fill="none" stroke="#000" stroke-width="1.8"/><path d="M1077.4 699.1 C1049.7 754.6 1043.8 818.5 1077.4 871.5" fill="none" stroke="#000" stroke-width="1.8"/><ellipse cx="1026.2" cy="699.1" rx="51.2" ry="12.4" fill="#dbdfe1" stroke="#000" stroke-width="1.8"/><ellipse cx="1026.2" cy="871.5" rx="51.2" ry="12.4" fill="#dbdfe1"/><path d="M975.0 871.5 A51.2 12.4 0 0 0 1077.4 871.5" fill="none" stroke="#000" stroke-width="1.8"/><path d="M975.0 871.5 A51.2 12.4 0 0 1 1077.4 871.5" fill="none" stroke="#000" stroke-width="1.2" stroke-dasharray="1.2 1.6"/>
<ellipse cx="1003.1" cy="792" rx="49" ry="12" fill="#dbdfe1"/>
<rect x="971.3" y="777.6" width="17.40" height="5.90" fill="#000"/><rect x="983.1" y="773.3" width="5.60" height="10.20" fill="#000"/>
<rect x="975.2" y="801.1" width="17.40" height="5.80" fill="#000"/><rect x="987" y="797" width="5.60" height="14.60" fill="#000"/>
<rect x="1012.4" y="777.6" width="17.40" height="5.90" fill="#000"/><rect x="1024" y="773.3" width="5.80" height="10.20" fill="#000"/>
<rect x="1016.3" y="801.1" width="17.40" height="5.80" fill="#000"/><rect x="1027.9" y="797" width="5.80" height="14.60" fill="#000"/>
<line x1="985.4" y1="780.5" x2="989.6" y2="797.3" stroke="#eea62a" stroke-width="5.4"/>
<line x1="1026.5" y1="780.5" x2="1030.7" y2="797.3" stroke="#eea62a" stroke-width="5.4"/>
<path d="M1231.7 612.9 C1176.2 723.9 1164.4 851.7 1230.8 957.8" fill="none" stroke="#000" stroke-width="1.8"/><path d="M1437.1 612.9 C1386.4 734.8 1363.5 827.9 1437.1 957.6" fill="none" stroke="#000" stroke-width="1.8"/><ellipse cx="1334.4" cy="612.9" rx="102.7" ry="24.8" fill="#dbdfe1" stroke="#000" stroke-width="1.8"/><ellipse cx="1334.1" cy="957.8" rx="103.3" ry="25.0" fill="#dbdfe1"/><path d="M1230.8 957.8 A103.3 25.0 0 0 0 1437.3999999999999 957.8" fill="none" stroke="#000" stroke-width="1.8"/><path d="M1230.8 957.8 A103.3 25.0 0 0 1 1437.3999999999999 957.8" fill="none" stroke="#000" stroke-width="1.2" stroke-dasharray="1.2 1.6"/>
<ellipse cx="1288.2" cy="799.2" rx="101.9" ry="25.1" fill="#dbdfe1"/>
<rect x="1200.9" y="777.9" width="17.40" height="6.80" fill="#000"/><rect x="1212.9" y="773.7" width="5.80" height="11.00" fill="#000"/>
<rect x="1207.3" y="813.6" width="17.70" height="5.80" fill="#000"/><rect x="1219.2" y="808.8" width="6.20" height="15.10" fill="#000"/>
<rect x="1247.8" y="770.8" width="17.80" height="6.70" fill="#000"/><rect x="1259.2" y="766.3" width="6.40" height="11.20" fill="#000"/>
<rect x="1256.9" y="820.4" width="17.40" height="5.80" fill="#000"/><rect x="1268.5" y="815.6" width="6.30" height="15.40" fill="#000"/>
<rect x="1302.3" y="770.8" width="17.30" height="6.70" fill="#000"/><rect x="1313.8" y="766.3" width="6.20" height="11.20" fill="#000"/>
<rect x="1311" y="820.4" width="17.30" height="5.80" fill="#000"/><rect x="1322.5" y="815.6" width="6.40" height="15.40" fill="#000"/>
<rect x="1351.5" y="776.6" width="17.40" height="6.70" fill="#000"/><rect x="1362.7" y="772.1" width="6.20" height="11.20" fill="#000"/>
<rect x="1357.7" y="812.3" width="17.40" height="5.80" fill="#000"/><rect x="1369.3" y="807.9" width="6.10" height="14.40" fill="#000"/>
<line x1="1215.6" y1="781.5" x2="1221.8" y2="809" stroke="#eea62a" stroke-width="5.4"/>
<line x1="1262.3" y1="774.5" x2="1271.2" y2="815.8" stroke="#eea62a" stroke-width="5.4"/>
<line x1="1316.3" y1="774.5" x2="1325.2" y2="815.8" stroke="#eea62a" stroke-width="5.4"/>
<line x1="1365.7" y1="779.5" x2="1371.6" y2="808" stroke="#eea62a" stroke-width="5.4"/>
<text x="913.50" y="803.60" font-size="50" text-anchor="start" font-weight="normal" font-style="italic">L</text>
<text x="1119" y="803.6" font-size="50">2<tspan font-style="italic" dx="1.5">L</tspan></text>
</svg></body></html>
